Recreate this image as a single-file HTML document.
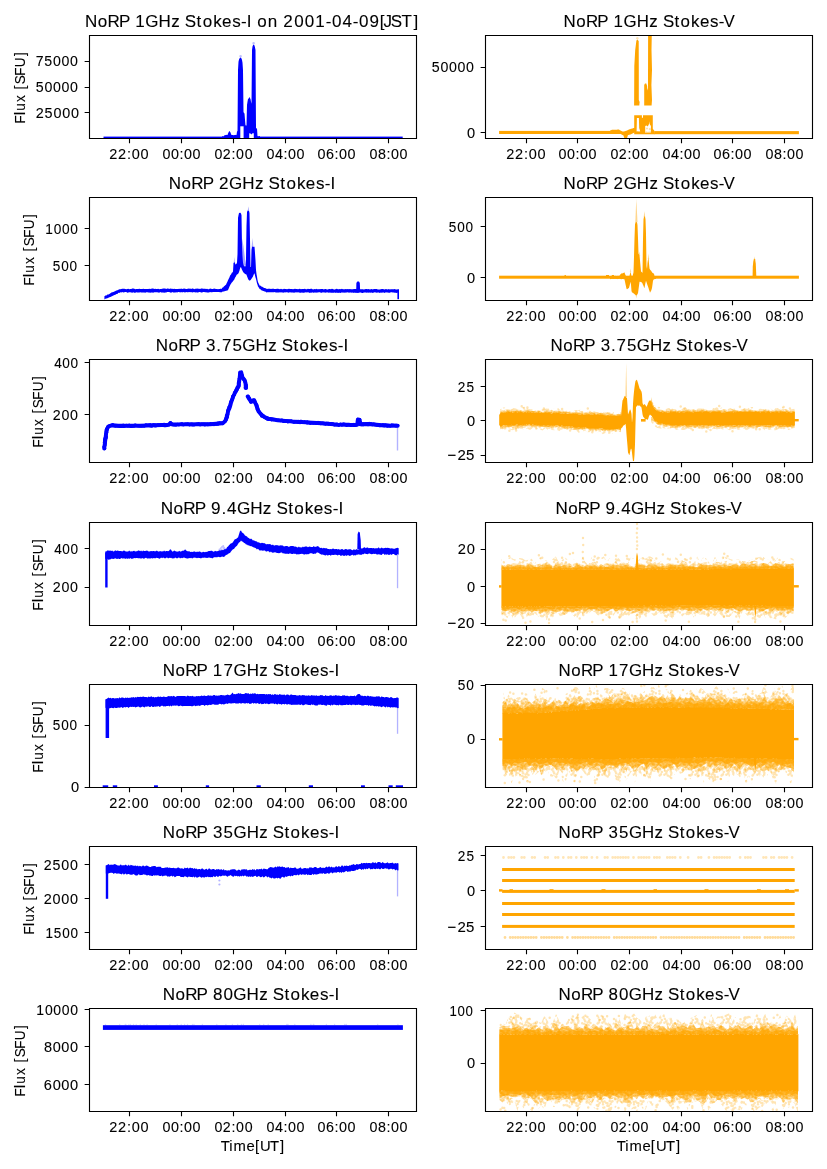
<!DOCTYPE html><html><head><meta charset="utf-8"><title>NoRP 2001-04-09</title><style>html,body{margin:0;padding:0;background:#fff}svg{display:block;will-change:transform}text{font-family:"Liberation Sans",sans-serif;font-kerning:none;fill:#000;stroke:#000;stroke-width:.1px}</style></head><body>
<svg width="827" height="1169" viewBox="0 0 827 1169">
<rect width="827" height="1169" fill="#fff"/>
<defs>
<clipPath id="c00"><rect x="89.5" y="35.5" width="327" height="103"/></clipPath>
<clipPath id="c01"><rect x="485.5" y="35.5" width="327" height="103"/></clipPath>
<clipPath id="c10"><rect x="89.5" y="197.5" width="327" height="103"/></clipPath>
<clipPath id="c11"><rect x="485.5" y="197.5" width="327" height="103"/></clipPath>
<clipPath id="c20"><rect x="89.5" y="359.5" width="327" height="103"/></clipPath>
<clipPath id="c21"><rect x="485.5" y="359.5" width="327" height="103"/></clipPath>
<clipPath id="c30"><rect x="89.5" y="522.5" width="327" height="103"/></clipPath>
<clipPath id="c31"><rect x="485.5" y="522.5" width="327" height="103"/></clipPath>
<clipPath id="c40"><rect x="89.5" y="684.5" width="327" height="103"/></clipPath>
<clipPath id="c41"><rect x="485.5" y="684.5" width="327" height="103"/></clipPath>
<clipPath id="c50"><rect x="89.5" y="846.5" width="327" height="103"/></clipPath>
<clipPath id="c51"><rect x="485.5" y="846.5" width="327" height="103"/></clipPath>
<clipPath id="c60"><rect x="89.5" y="1008.5" width="327" height="103"/></clipPath>
<clipPath id="c61"><rect x="485.5" y="1008.5" width="327" height="103"/></clipPath>
<pattern id="sp0" patternUnits="userSpaceOnUse" width="31" height="31"><path d="M15.7 20.5h0M19.1 29.3h0M14.5 15.3h0M9.6 21.1h0M29 8.1h0M9.3 29.2h0M13.5 24.8h0M20.3 19.1h0M7.8 21.4h0M18.4 15.8h0M10.3 7.4h0M23.9 24.7h0M17.8 12.4h0M23.3 21.9h0M27.8 22.3h0M21.9 3.3h0M19.3 3.6h0M22.6 15.6h0M-0.2 27.6h0M30.8 27.6h0M12.3 23.3h0M1.2 15.2h0M32.2 15.2h0M8.2 28.5h0M14 14.7h0M8 13.7h0M28.6 -0.6h0M28.6 30.4h0M9.5 23h0M15.8 7.1h0M23.7 19.8h0M24.2 1.9h0M19.3 8.1h0M13.8 -1.2h0M13.8 29.8h0M16.3 10.7h0M-1 14.5h0M30 14.5h0M5.6 -0.7h0M5.6 30.3h0M25.3 3.2h0M7 11.4h0M27.5 4.1h0M1.8 22.6h0M24.9 24.1h0M27.6 28.2h0M25.1 13.5h0M3.5 22h0M23.9 1.2h0M23.9 32.2h0M13.2 27.3h0M14.2 25.8h0M9.1 -1h0M9.1 30h0M24.6 11.9h0M3.5 16h0M23.4 26.7h0M10.6 24h0M13.5 23.2h0M25.1 24.2h0M22.3 21.5h0M18.9 26.4h0M12.7 14.7h0M17.7 16.3h0M8.8 15.7h0M18.4 5.9h0M3.1 3.4h0M0.9 9.4h0M31.9 9.4h0M16.3 9.4h0M12.8 21.1h0M28.4 -0.7h0M28.4 30.3h0M0.2 15.9h0M31.2 15.9h0M7.9 20.8h0M15.1 26.6h0M10.6 4.4h0M18.2 25.8h0M10.2 10h0M2.8 8.5h0M25.3 3.2h0M28.7 -0.8h0M28.7 30.2h0M12.3 7.3h0M18.3 10.1h0M26.6 18.6h0M6.6 17.1h0M27.2 27.6h0M16.5 -0.7h0M16.5 30.3h0M10.2 17.4h0M13.6 20.3h0M25.1 3.2h0M28.4 1.4h0M28.4 32.4h0M19.9 6.6h0M13.1 23.5h0M5.9 4.3h0M29.2 11.1h0M6.5 12.1h0M18.5 27.4h0M-0.1 -1.2h0M-0.1 29.8h0M30.9 -1.2h0M30.9 29.8h0M7.3 -0.5h0M7.3 30.5h0M12.1 0.3h0M12.1 31.3h0M16.2 3.9h0M20.9 -0.9h0M20.9 30.1h0M3.7 21h0M16.8 10.4h0M-0.6 25.8h0M30.4 25.8h0M22.5 27.1h0M16.2 5.3h0M0.4 3.1h0M31.4 3.1h0M10.4 23.4h0M3.2 17.4h0M23.5 0h0M23.5 31h0M5.9 27.3h0M25 4.9h0M11.8 20.3h0M9 12.1h0M-1.1 15.3h0M29.9 15.3h0M0.4 14.2h0M31.4 14.2h0M24.1 20.1h0M10 5.7h0M20.1 3.5h0M13.1 2.7h0M16 23.4h0M11.9 23.1h0M8.3 13.4h0M2.7 22.8h0M5.4 3.5h0M14 17.3h0M2.4 12.5h0M10.8 17.1h0M-0.7 15.4h0M30.3 15.4h0M17.8 25.4h0M2.4 1.3h0M2.4 32.3h0M27.3 23h0M14.6 -1.3h0M14.6 29.7h0M18.2 6.1h0M4.6 12.3h0M23.1 17.5h0M3.9 29.3h0M6 3.8h0M4.8 1.8h0M10.9 1.8h0M12.7 17.9h0M6 26.3h0M23.7 11.2h0M27 2.8h0M11 18.5h0M14.2 16.6h0M11.2 11.2h0M6.6 3.3h0M26.8 10.1h0M7.9 10.8h0M12.2 25.3h0M18.7 12.6h0M-0.8 29.3h0M30.2 29.3h0M21 2.7h0M19.1 25.1h0M11.1 16.8h0M26.1 27.1h0M11.1 18h0M16.8 17.3h0M-1.1 7h0M29.9 7h0M16.1 23.8h0M17.5 12.5h0M19.1 -0.7h0M19.1 30.3h0M12.1 15.8h0M11.6 24.2h0M28.2 21.4h0M28.5 -0.7h0M28.5 30.3h0M6.3 3.3h0M14.3 7.3h0M13.2 26.7h0M10.3 20.1h0M1.1 8.4h0M32.1 8.4h0M27.2 19.5h0M28.4 1.8h0M11.7 4.9h0M-0.1 10.1h0M30.9 10.1h0M18.2 2.4h0M20.4 2.1h0M10.9 21.3h0M27.4 12.7h0M4.6 27.3h0M17.8 17.5h0M9.5 6.1h0M5.4 22.6h0M18.2 18.2h0M25.7 28h0M10.5 0.3h0M10.5 31.3h0M21.1 23.6h0M24.2 11h0M2.3 18.5h0M16.3 4.6h0M-1.4 12h0M29.6 12h0M19.9 20.1h0M12.1 27.9h0M0.3 -0.4h0M0.3 30.6h0M31.3 -0.4h0M31.3 30.6h0M6.5 18.1h0M9.3 3.4h0M13.6 5.2h0M21.4 14.2h0M27.2 23.3h0M-0.6 14.8h0M30.4 14.8h0M29.2 4.1h0M-0.3 28.3h0M30.7 28.3h0M21.8 29.3h0M18.8 15.8h0M-0.5 15.6h0M30.5 15.6h0M8.5 23.7h0M20 20.5h0M8.4 3.8h0M2.6 22.6h0M1.4 24.6h0M32.4 24.6h0M28.9 22.2h0M4.7 17h0M1.3 -0.6h0M1.3 30.4h0M32.3 -0.6h0M32.3 30.4h0M24.2 10h0M13.4 21.4h0M28.1 1.8h0M3.8 21h0M28.5 2.1h0M11.4 15.6h0M26.2 25h0M4.4 -0.5h0M4.4 30.5h0M24.7 14.1h0M0.9 9.8h0M31.9 9.8h0M4 24.2h0M15.8 28.6h0M-1.1 24.2h0M29.9 24.2h0M7.8 -0.2h0M7.8 30.8h0M19.3 24.2h0M20.1 4h0M20.6 1h0M20.6 32h0M16.3 27.5h0M6.4 2.5h0M23.2 7.1h0M17.3 1.3h0M17.3 32.3h0M11.9 23.4h0M20 20.9h0M-1 -0.9h0M-1 30.1h0M30 -0.9h0M30 30.1h0M12.4 21.6h0M21 1.7h0M21.6 2.6h0M29.2 13.3h0M18.2 4.4h0M22.8 12.7h0M7.8 29.1h0M7.3 1.6h0M12.3 23.4h0M13.1 27.7h0M24 19.1h0M22.3 17.7h0M18.3 3.6h0M11.5 18.6h0M-1 8.4h0M30 8.4h0M28.1 2.2h0M3.9 8.6h0M28 16.8h0M-0.1 27.5h0M30.9 27.5h0M12.8 11.8h0M19.2 21.6h0M16.8 29.4h0M0.5 19.5h0M31.5 19.5h0M16.4 13.2h0M17.4 23.9h0M11.6 19.1h0M9.3 -1.4h0M9.3 29.6h0M-1.2 2.4h0M29.8 2.4h0M24.8 3.2h0M3.6 12.5h0M14.7 7.2h0M21.6 0.5h0M21.6 31.5h0M13.1 5h0M25.6 25.5h0M12.8 17.8h0M18.4 9.7h0M-0.2 23.8h0M30.8 23.8h0M1 10.4h0M32 10.4h0M0.5 8.6h0M31.5 8.6h0M5.6 19.2h0M16.3 21.8h0M4.1 14.9h0M16.6 19.9h0M13.6 17.8h0M10.3 21.8h0M4.6 10.8h0M-1.4 11.7h0M29.6 11.7h0M18.4 15.2h0M12.5 9.3h0M-1 26.3h0M30 26.3h0M3 21.3h0M-1.4 -0.4h0M-1.4 30.6h0M29.6 -0.4h0M29.6 30.6h0M4.5 4.8h0M22.4 21.3h0M13.7 4.6h0M12.7 11.3h0M0.8 18.9h0M31.8 18.9h0M27.9 -0.9h0M27.9 30.1h0M17.3 13.8h0M3.4 11.2h0M16.8 1.1h0M16.8 32.1h0M17.9 11.1h0M23.7 3h0M-0.2 3.8h0M30.8 3.8h0M15.5 19.4h0M14.6 17.7h0M21.1 17.4h0M12.1 14.4h0M19.8 16.8h0M9.4 14.5h0M7 4.6h0M13 4.3h0M24.8 8.8h0M22.4 5h0M5.5 11.1h0M1.6 -0.6h0M1.6 30.4h0M7 25.9h0M5 1.4h0M5 32.4h0M29.1 16.8h0M14.4 4.2h0M21.1 23.9h0M14.6 19h0M19.3 22.2h0M7.8 6.8h0M25.9 16h0M27.7 29.4h0M23.7 14.5h0M27.2 9.5h0M17.1 1.2h0M17.1 32.2h0M10.1 2.1h0M22.3 24.4h0M7.8 21.3h0M27.2 6.1h0M3.1 19.8h0M17.6 3.7h0M20.9 28.9h0M27.9 15.9h0M5.8 7.8h0M1.9 4.6h0M15.3 21h0M3.8 21h0M23.7 0.4h0M23.7 31.4h0M28.5 12.5h0M16.5 18.1h0M16.5 28.3h0M18.4 12.4h0M18.9 0.5h0M18.9 31.5h0M28.7 11.8h0M23.7 21h0M14.3 21h0M24.6 9.7h0M2.3 15.8h0M18.5 7.7h0M24.5 22h0M22.9 4h0M6.9 24.5h0M11.7 12.5h0M20.5 8.1h0M6.6 -0.3h0M6.6 30.7h0M16.6 2.5h0M25.6 1.7h0M4.9 19.9h0M10.3 25.5h0M16.5 6.7h0M19.6 17.7h0M26.6 12.9h0M29.1 2.9h0M27.7 15.3h0M10.7 6.2h0M2 22.3h0M7.2 3.9h0M20.1 11.4h0M14.8 3.6h0M18 29.2h0M1.4 28.1h0M32.4 28.1h0M20.5 19.6h0M27.7 -0.1h0M27.7 30.9h0M15.7 3.5h0M22.5 28.3h0M13.2 7.5h0M23 19.2h0M22.7 1h0M22.7 32h0M1.3 26.9h0M32.3 26.9h0M-1.5 22.4h0M29.5 22.4h0M-0.8 8h0M30.2 8h0M22.7 21.1h0M8.5 18.5h0M21.3 6.8h0M18.7 9.4h0M4.6 18.2h0M14.4 19h0M24.2 9.5h0M1.5 27.1h0M14.5 5.1h0M5.7 18.2h0" stroke="#ffa500" stroke-opacity="0.3" stroke-width="2.5" stroke-linecap="round" fill="none"/><path d="M17.5 21.5h0M17.6 -0.7h0M17.6 30.3h0M18.9 13.1h0M12.1 23h0M11.7 6.6h0M21.8 19.8h0M19.3 4h0M15.8 10.4h0M3 2.4h0M10.6 7.7h0M7.3 27.1h0M19.1 -1.1h0M19.1 29.9h0M22.3 23.1h0M12.7 24.3h0M4.5 18.1h0M6.8 19.5h0M12 17.7h0M7.9 22.7h0M26.5 8.6h0M21 11h0M14.2 26.5h0M28.3 29.3h0M22.2 8.9h0M16 18.7h0M17.8 14.2h0M20 10.1h0M8.7 4.5h0M8 -1h0M8 30h0M-0.1 24.6h0M30.9 24.6h0M17.7 0.9h0M17.7 31.9h0M18.4 16.2h0M10.3 26.3h0M3.1 4h0M28.1 10h0M0.4 25.7h0M31.4 25.7h0M26.9 21.2h0M-1.3 7.5h0M29.7 7.5h0M23.2 10.5h0M7.9 18.1h0M16 22.4h0M11.7 12.9h0M29.3 23h0M-1.5 20.2h0M29.5 20.2h0M3.8 5.2h0M10.8 19.8h0M24.5 26.9h0M3.5 7.1h0M16.2 19.9h0M26.2 18.8h0M20.8 27.6h0M15.5 14h0M10.5 12.1h0M22.6 28.6h0M6.6 4.6h0M7.4 14.5h0M9.6 15h0M15.7 -0.7h0M15.7 30.3h0M-1 -1.3h0M-1 29.7h0M30 -1.3h0M30 29.7h0M12.5 5.1h0M18.4 7.9h0M19.3 -0.1h0M19.3 30.9h0M12.2 17.8h0M5.1 1h0M5.1 32h0M26.1 5.7h0M24 26.4h0M9.4 3.1h0M5.7 26.5h0M16.3 9.4h0M14.6 11.5h0M22.2 9.9h0M29 1.9h0M1 22.5h0M32 22.5h0M26.6 4.4h0M4.6 19.2h0M10.5 28.3h0M23.3 28.6h0M10.6 0.4h0M10.6 31.4h0M0.4 7.1h0M31.4 7.1h0M27 16.4h0M17.7 7.7h0M3.4 2.4h0M9.1 26.3h0M6.5 0.9h0M6.5 31.9h0M17.6 28h0M13.3 19.3h0M-1.3 1.4h0M-1.3 32.4h0M29.7 1.4h0M29.7 32.4h0M16.7 27.9h0M22.5 10.6h0M11.1 -0.7h0M11.1 30.3h0M25 1.5h0M25 32.5h0M-0.7 28h0M30.3 28h0M19.4 11h0M27.7 21.7h0M5.5 11.1h0M-0.1 14.1h0M30.9 14.1h0M9.8 0.8h0M9.8 31.8h0M14.6 5.3h0M-0.7 20.4h0M30.3 20.4h0M5.9 21.8h0M6.7 19.4h0M16.9 3.8h0M9.1 3.2h0M0.6 21.2h0M31.6 21.2h0M25 3.9h0M10.1 26.5h0M22.8 6.4h0M6.2 11.4h0M3.3 18.7h0M20 19.5h0M18.7 1.5h0M18.7 32.5h0M14.3 19.7h0M22.7 0.3h0M22.7 31.3h0M24.6 25.3h0M7.8 18.1h0M27.1 19.3h0M0 12.8h0M31 12.8h0M29.3 4.6h0M5.8 15.2h0M0.2 8.7h0M31.2 8.7h0M-0.8 10.6h0M30.2 10.6h0M27.7 12.5h0M17.6 8h0M26.6 13.2h0M28.3 20.4h0M9.5 -1.2h0M9.5 29.8h0M9 2.9h0M23.5 17.1h0M7.4 17.2h0M28.8 24.2h0M18.4 12.5h0M22.2 3.8h0M22.2 21.8h0M29.1 22.6h0M26.2 15.4h0M13.9 0.9h0M13.9 31.9h0M17.3 1.6h0M25.9 22.3h0M17.5 19.1h0M9.7 1.1h0M9.7 32.1h0M10.1 3.5h0M12.8 26.1h0M4.9 17.5h0M2.9 14.1h0M17.2 18.7h0M18 7.3h0M27.5 29.2h0M27.4 1.8h0M17.6 29.2h0M11.3 3.6h0M16.5 4.2h0M19.5 0.5h0M19.5 31.5h0M26.6 21.8h0M18.6 1.4h0M18.6 32.4h0M8.3 8.9h0M20.2 -0.7h0M20.2 30.3h0M13.9 5h0M-1.4 18.6h0M29.6 18.6h0M19.1 1.6h0M5.2 20.3h0M12.7 21.9h0M12.9 27.4h0M27.6 2.5h0M18.2 21.3h0M11.8 -0.5h0M11.8 30.5h0M-0.8 3.2h0M30.2 3.2h0M20.5 19.4h0M12.9 17.8h0M19.8 22.8h0M25.3 19.1h0M2.4 1.9h0M22.3 -0.2h0M22.3 30.8h0M18.6 25.5h0M22.2 13.1h0M12.3 2.4h0M26.3 14.9h0M8.7 8.1h0M-0.6 23.4h0M30.4 23.4h0M27 -1.4h0M27 29.6h0M16.9 13.1h0M8.4 -1.2h0M8.4 29.8h0M11.1 7.1h0M24.8 16.9h0M29.1 17.5h0M9.5 12.2h0M23.7 19.3h0M15.3 9.9h0M16.5 12.8h0M1.4 13.3h0M32.4 13.3h0M13.4 6.6h0M28 26.1h0M16.6 26.1h0M14.6 25h0M20 23h0M20.2 24.1h0M13.3 19.9h0M22.2 6.8h0M11.6 11.2h0M5.8 15h0M23 23.2h0M17.2 0.1h0M17.2 31.1h0M8.5 11.6h0M24.4 2.2h0M2.7 14.6h0M4.3 22.5h0M18.3 27.2h0M8.6 2.7h0M10.7 23.6h0M14.7 10h0M10.3 8.7h0M2.8 11.5h0M15.8 15.9h0M10 26.9h0M3.9 20.1h0M22.7 7.3h0M25.1 10.4h0M27.4 1.2h0M27.4 32.2h0M29.3 3.3h0M23.7 14.8h0M12.3 26.7h0M23.2 2.8h0M6.3 5.9h0M7.6 10h0M5.2 13.9h0M12.6 13.8h0M16.8 1.6h0M1.2 -0.5h0M1.2 30.5h0M32.2 -0.5h0M32.2 30.5h0M5 -0.5h0M5 30.5h0M8.1 12.5h0M27.9 13.1h0M4.3 22.2h0M16 10.7h0M6.1 7.8h0M8.9 19.1h0M14.3 1.2h0M14.3 32.2h0M4.6 18h0M13.8 28.3h0M14.2 19.9h0M20.9 0.9h0M20.9 31.9h0M12.6 13h0M8.4 26.8h0M26.1 1.4h0M26.1 32.4h0M8.1 27.9h0M12.5 20.9h0M5.9 27.8h0M15 24.7h0M12.6 25.5h0M3 -0.2h0M3 30.8h0M16.5 25.4h0M2.2 7.1h0M25.6 14.3h0M20.1 23.5h0M0.6 14.5h0M31.6 14.5h0M1.4 21h0M32.4 21h0M25.6 17.2h0M19.7 1.6h0M1.9 7.9h0M18.5 8.5h0M9.2 19.3h0M27.1 11.7h0M17 27.7h0M27.6 0.8h0M27.6 31.8h0M16 14.9h0M19.2 16.6h0M6.3 19.1h0M6.1 2h0M17.4 7.6h0M15 21.7h0M29 18.7h0M23.4 5.1h0M1.4 11h0M32.4 11h0M14.1 9.6h0M20.4 0.1h0M20.4 31.1h0M12.3 -0.9h0M12.3 30.1h0M16.3 24.8h0M7.8 12h0M21.4 21.1h0M6.4 23.9h0M6.2 27.2h0M19.8 27.5h0M0.6 2.2h0M31.6 2.2h0M16.6 26.3h0M18.5 15.7h0M20.6 1.4h0M20.6 32.4h0M27.9 14.9h0M22.7 22.8h0M19.7 15.8h0M15 23.2h0M24.9 6h0M24.4 1.1h0M24.4 32.1h0M13.6 18.9h0M21.7 8.7h0M20.1 27.6h0M3.1 10h0M22.8 29.5h0M3 0.1h0M3 31.1h0M20.2 22.4h0M-0.2 4.8h0M30.8 4.8h0M7.7 15.1h0M28.7 24.8h0M2.7 4.2h0M20.4 18.7h0M18.6 -1.5h0M18.6 29.5h0M20.9 23.8h0M25.5 20.7h0M0.8 14.7h0M31.8 14.7h0M27.7 -0.7h0M27.7 30.3h0M11.4 26.7h0M28.8 4h0M22.7 21.4h0M27.9 0.4h0M27.9 31.4h0M10.5 23h0M6.1 14.1h0M9.9 28.1h0M-1 15.6h0M30 15.6h0M13.7 15.2h0M-0.2 22.2h0M30.8 22.2h0M22.5 8.6h0M4.1 7.3h0M1.3 17.5h0M32.3 17.5h0M23.8 3.2h0M28.9 16.9h0M6.1 27.3h0M23 0.6h0M23 31.6h0M3.1 18.3h0M-1.3 27.2h0M29.7 27.2h0M-1.5 6.2h0M29.5 6.2h0M11.6 1.6h0M9.2 15.7h0M9.1 11.6h0M16.9 8.3h0M8.1 27.7h0M23.3 10.3h0M15.8 27.1h0M11.6 10h0M28.9 25.6h0M8 20.2h0M15.3 12.4h0M-1.5 12.6h0M29.5 12.6h0M27.2 20.7h0M3.1 21.3h0M-0.6 6.2h0M30.4 6.2h0M8.7 8.9h0M24.8 4.7h0M19.4 9.7h0M18.5 17.1h0M2.8 23.8h0M27.2 19h0M10.5 7.1h0M27 20.8h0M19.5 16.5h0M24.7 11h0M21 28.7h0M8.2 13.2h0M24.8 4.7h0M16.4 22.3h0M26.8 18.8h0M12.9 11.6h0M18.6 5.3h0M15.8 15.8h0M23.4 4.9h0M6.3 -0.2h0M6.3 30.8h0M21.8 1.3h0M21.8 32.3h0M12.2 27.9h0M20 21.7h0M27.8 0.5h0M27.8 31.5h0M5.5 15.5h0M23.2 26.9h0M10.6 13.1h0M22.3 12h0M24.7 27.9h0M3.7 28.4h0M12 -1h0M12 30h0M12.1 6.8h0M22.7 12.8h0M13.6 14.4h0M-0.6 17.2h0M30.4 17.2h0M5.6 7.2h0M7.2 8.5h0M0.9 12.9h0M31.9 12.9h0M28.5 3h0M15.7 23.4h0M3.2 25.4h0M19.9 13.5h0M20 17.3h0" stroke="#ffa500" stroke-opacity="0.3" stroke-width="2.5" stroke-linecap="round" fill="none"/><path d="M15.9 5.2h0M8.9 20.9h0M28.8 16.3h0M8.4 9.8h0M24 24.8h0M14 7h0M18.1 9.8h0M6 24h0M3.5 22.8h0M24.1 7h0M21.3 2.2h0M8.7 13.2h0M20.8 25.6h0M1.2 -1.2h0M1.2 29.8h0M32.2 -1.2h0M32.2 29.8h0M24.2 11.3h0M2.3 6.1h0M7.9 6.2h0M16.9 28.1h0M22.4 -0.9h0M22.4 30.1h0M26.1 10.5h0M8.4 22.4h0M15.5 16.8h0M-0.7 16.8h0M30.3 16.8h0M11.7 10.2h0M4.1 19.6h0M7.9 13.2h0M15.4 28.8h0M22.7 2h0M8.7 4h0M7.9 28.3h0M14.9 21.8h0M9.9 0.5h0M9.9 31.5h0M0.7 3h0M31.7 3h0M17.6 10.8h0M27.3 13.4h0M25.9 1.5h0M25.9 32.5h0M7.9 14.1h0M11.6 27.2h0M-0.2 28.9h0M30.8 28.9h0M28.2 22.6h0M0 11.4h0M31 11.4h0M17.6 28.3h0M12.6 20.4h0M5.3 13.6h0M10 9.6h0M21.8 13.9h0M26 26.3h0M11.3 11.9h0M5.6 24.6h0M22.6 18.7h0M17.6 10.8h0M26.3 1.8h0M18.4 8.9h0M1.6 13.1h0M22.2 28.9h0M4.3 6.2h0M20.2 24.4h0M5.2 15.6h0M11.6 24.6h0M-0.8 12.1h0M30.2 12.1h0M19.1 2.7h0M3.9 17.7h0M4.8 1.7h0M-1.3 16.2h0M29.7 16.2h0M19 7.4h0M28.9 25.4h0M21 7.7h0M-0.9 27.8h0M30.1 27.8h0M-0.5 18.2h0M30.5 18.2h0M24.1 3.2h0M-1.2 -0.5h0M-1.2 30.5h0M29.8 -0.5h0M29.8 30.5h0M21 16.2h0M20.8 22.5h0M-0.8 4.5h0M30.2 4.5h0M4.5 5.1h0M19.2 13.9h0M7.7 -1.2h0M7.7 29.8h0M15.3 4.8h0M23.4 19.7h0M18.8 10.7h0M3 21.7h0M2.4 29.5h0M-0.8 27.9h0M30.2 27.9h0M20.9 26h0M14 28.7h0M-1.1 -0.9h0M-1.1 30.1h0M29.9 -0.9h0M29.9 30.1h0M10.3 19.2h0M18.4 27.7h0M-0.4 18.4h0M30.6 18.4h0M9.7 0.4h0M9.7 31.4h0M1.1 9.6h0M32.1 9.6h0M8.2 3.6h0M-1.1 23.3h0M29.9 23.3h0M22.1 14.4h0M23.8 28.9h0M23.5 10.5h0M14.8 26.1h0M5.6 3.3h0M27.3 1.5h0M22.1 6.4h0M5.5 23.7h0M27 19.1h0M-1.1 26.2h0M29.9 26.2h0M20.6 7.4h0M24.6 16.1h0M9.3 18.7h0M6.7 2h0M9.8 2.9h0M20.2 9.4h0M26.9 4.8h0M14.3 1.7h0M10.2 14h0M26 29.3h0M0.2 16.4h0M31.2 16.4h0M7 16.1h0M24.2 17.4h0M28.1 1.4h0M28.1 32.4h0M20.5 17.3h0M0.8 8.9h0M31.8 8.9h0M28.1 2.7h0M13.4 19.8h0M5.3 16.6h0M0.8 1h0M0.8 32h0M31.8 1h0M31.8 32h0M19.3 -0.9h0M19.3 30.1h0M0 16.9h0M31 16.9h0M8.4 8.4h0M18.1 5.4h0M17.3 19.9h0M10.4 12.5h0M22.2 17h0M23.8 25.2h0M6.5 8.7h0M7.2 10.4h0M16.4 -1.4h0M16.4 29.6h0M23.7 0.9h0M23.7 31.9h0M25.5 26.8h0M8.6 15.3h0M5.9 25.2h0M28.8 13h0M26.5 19.8h0M22.7 18.4h0M29 22.8h0M24 -0.5h0M24 30.5h0M28.8 8.2h0M21.3 14.5h0M0.6 14.5h0M31.6 14.5h0M26.4 13.1h0M22.7 15.7h0M24.1 25.1h0M26.1 19.7h0M2.4 23.9h0M27.7 13.2h0M23.9 23.3h0M-1.2 20h0M29.8 20h0M3.8 12h0M2.6 27.9h0M29.4 28.8h0M20.1 21.3h0M6.9 1.9h0M3.9 5.1h0M17.3 4.4h0M9.7 21.1h0M11.4 11.1h0M13.4 5h0M17.4 21h0M7.6 12h0M25.5 -0.2h0M25.5 30.8h0M22.2 1.8h0M27.8 19.1h0M14 19.1h0M9 21.9h0M23.9 28.1h0M24.5 29.4h0M27.7 -0.8h0M27.7 30.2h0M5.6 15.9h0M5.7 14.7h0M6.4 16.9h0M1.5 1.3h0M1.5 32.3h0M32.5 1.3h0M32.5 32.3h0M11.9 20.4h0M-0.6 2.5h0M30.4 2.5h0M28.2 9.5h0M-1.2 6.9h0M29.8 6.9h0M15.1 1.7h0M28 23h0M19.2 6.5h0M25.5 14.5h0M8.7 19.6h0M4 7.4h0M1 23.7h0M32 23.7h0M8.6 4.2h0M5.3 7.2h0M2.4 15.9h0M7.1 17.4h0M3.2 14.3h0M23.3 27.1h0M23.8 28.9h0M5.7 1.8h0M1.4 11.2h0M32.4 11.2h0M8.9 8.2h0M28.2 13.4h0M3.1 17.3h0M0.7 19.8h0M31.7 19.8h0M14.2 3.6h0M26.7 2.6h0M18.8 16.7h0M17.2 12.1h0M-0.1 20.6h0M30.9 20.6h0M9.5 25.5h0M23 12.6h0M17 8.6h0M28.1 4.2h0M24.3 18.4h0M9 17.4h0M12.2 0.9h0M12.2 31.9h0M7.7 6.4h0M6.5 2.5h0M17.7 9.5h0M23.7 1.8h0M12.3 19.3h0M3.4 24.2h0M3.4 26.3h0M16.8 10.4h0M4.3 7.9h0M17.4 12.9h0M3.2 4.2h0M16.6 17.6h0M11.1 1.1h0M11.1 32.1h0M21.8 27h0M18.6 4.7h0M13.1 28.7h0M5.8 27.5h0M23.9 16.1h0M17.2 20.2h0M25.3 15.8h0M5.2 7.7h0M5.5 28.3h0M8.1 17.2h0M11.6 25.8h0M20 17.2h0M6.2 2.9h0M14.7 15.9h0M3.2 2.1h0M24.1 28.5h0M26.4 -1.4h0M26.4 29.6h0M18.9 24.7h0M29 9.5h0M21.6 9.6h0M24.5 23.8h0M-0.6 -1h0M-0.6 30h0M30.4 -1h0M30.4 30h0M24.3 8.8h0M19.5 15.7h0M0.9 12.3h0M31.9 12.3h0M6.1 27.9h0M-0.6 21.7h0M30.4 21.7h0M15.8 1.4h0M15.8 32.4h0M8.8 29.3h0M14.4 25.7h0M25.2 14.1h0M22.1 11.2h0M13.8 5.7h0M20.5 3.9h0M1.9 29.4h0M26.9 3h0M10.6 19.1h0M22.6 0h0M22.6 31h0M5 -1.5h0M5 29.5h0M-1.1 25.3h0M29.9 25.3h0M1.7 -0.1h0M1.7 30.9h0M7.3 4.2h0M27.5 15.7h0M-0.7 25h0M30.3 25h0M4.2 16h0M17.4 10h0M13.7 0.4h0M13.7 31.4h0M16.8 18h0M1.7 18.4h0M10.9 15.6h0M17.7 26.6h0M1.5 7.6h0M5.3 19.6h0M15 26.7h0M7.6 16.9h0M13 7.4h0M20.6 8.5h0M2.1 10.6h0M14.9 23.9h0M-1 9.6h0M30 9.6h0M0.9 27.2h0M31.9 27.2h0M15.4 4.2h0M10.3 1.3h0M10.3 32.3h0M3.2 20.3h0M0.5 17.5h0M31.5 17.5h0M18.9 2.2h0M13.5 17.7h0M26.5 24.5h0M13.2 0.1h0M13.2 31.1h0M5 -1.2h0M5 29.8h0M6.8 13.6h0M27.8 17.2h0M26.8 13.4h0M6.8 16.8h0M5.3 12.8h0M17.7 15.9h0M8.6 22.3h0M14.4 8.5h0M5.5 1.8h0M7.3 -1.4h0M7.3 29.6h0M5.3 12.3h0M9.6 16.4h0M17.4 18.7h0M21.4 3.8h0M3.3 -1.4h0M3.3 29.6h0M7.7 13h0M17.7 -1.2h0M17.7 29.8h0M23.5 16.4h0M18.1 18.1h0M9.8 17.4h0M-1 7h0M30 7h0M1.1 6.2h0M32.1 6.2h0M-0.9 -0.3h0M-0.9 30.7h0M30.1 -0.3h0M30.1 30.7h0M14.8 0.4h0M14.8 31.4h0M16.9 0.3h0M16.9 31.3h0M20.9 17.8h0M22.9 15h0M3.7 16.6h0M11.9 10.4h0M0.5 9.6h0M31.5 9.6h0M27.3 22.9h0M5.2 4h0M7.5 1.6h0M11.3 23.6h0M14.3 22.5h0M0.7 5.9h0M31.7 5.9h0M3.5 18h0M9.5 4.6h0M4.2 16h0M1.4 28.6h0M32.4 28.6h0M5.3 2.1h0M15 0.5h0M15 31.5h0M21.2 12.6h0M0.6 27.1h0M31.6 27.1h0M26.3 -1.1h0M26.3 29.9h0M8.7 15.7h0M3.3 17.3h0M29 -0.6h0M29 30.4h0M20.2 5.9h0M23.5 17.9h0M24.5 1.5h0M26.6 10.8h0M10.9 1.8h0M21.3 5.2h0M3.2 19.6h0M17.2 10.3h0M7.8 10.1h0M0 2.1h0M31 2.1h0M29.2 15.1h0M3.1 -0.9h0M3.1 30.1h0M1.3 19.8h0M32.3 19.8h0M18 9.9h0M14.6 1.9h0M12.8 22.5h0M17.9 21.9h0M26.2 7.7h0M5.1 13.6h0M5.7 15.9h0M17.7 12.3h0M26.8 28.3h0M24.1 7.1h0M23.9 3.9h0M11.1 1.5h0M11.1 32.5h0M16.7 17.8h0M28.1 14.9h0M8.4 28.5h0M17.9 16h0M25.1 -0.1h0M25.1 30.9h0M21.4 16.5h0M21.6 26.6h0M8.1 28.6h0M17.5 5.8h0M8.7 28.2h0M-1 3.6h0M30 3.6h0M14.6 4h0M16.5 25h0M25.4 4.6h0" stroke="#ffa500" stroke-opacity="0.3" stroke-width="2.5" stroke-linecap="round" fill="none"/><path d="M-0.9 16.9h0M30.1 16.9h0M17.2 26.6h0M7.6 2h0M10.9 15.2h0M1.3 5h0M32.3 5h0M27.6 -0.1h0M27.6 30.9h0M18.6 20.2h0M2.1 2.5h0M8.7 28.4h0M-1.1 10.9h0M29.9 10.9h0M17.8 6.9h0M28.2 5.5h0M23.9 15.6h0M15 4.2h0M20.3 26.4h0M8.3 1.9h0M12.3 26.5h0M12.6 -1.3h0M12.6 29.7h0M17.1 0.2h0M17.1 31.2h0M4.3 5.6h0M27.4 26.9h0M25.9 11.2h0M5.1 2.9h0M24.8 25.7h0M11.7 23.7h0M2.6 25.6h0M10.7 23.2h0M3.6 23.8h0M0 9.3h0M31 9.3h0M20.8 25.5h0M24.2 12.9h0M17.4 15.8h0M13.9 12.9h0M25.4 23.4h0M13.2 27.4h0M27 28h0M7.5 21.9h0M20.8 0.2h0M20.8 31.2h0M18.6 2.8h0M15.1 3.6h0M22.5 12.3h0M11.2 9.1h0M21.7 -0.2h0M21.7 30.8h0M26.4 6.9h0M10.8 14.1h0M18.5 23.3h0M7.5 15.8h0M22.1 25.2h0M20.4 22.2h0M25.5 3.4h0M16.7 22.5h0M4.8 8h0M8 1.3h0M8 32.3h0M23.7 20.7h0M11.3 6.1h0M6.7 5.6h0M-1.1 6.7h0M29.9 6.7h0M2.6 9.8h0M24.6 8.9h0M10.7 2.9h0M16.8 -1.3h0M16.8 29.7h0M24.7 4.5h0M-0.2 8.4h0M30.8 8.4h0M23 -0.6h0M23 30.4h0M22.4 13.3h0M17.4 18.3h0M3.5 22.6h0M25.5 29.4h0M25.7 24.7h0M-0.1 2.7h0M30.9 2.7h0M4.5 25.6h0M26.4 25h0M20.2 24.7h0M21.3 22.9h0M21.2 28.7h0M28 17.4h0M0.9 24.7h0M31.9 24.7h0M10.6 14.6h0M20.7 7.5h0M9.5 23.8h0M1.2 1.7h0M32.2 1.7h0M19.4 13.1h0M7.2 12.3h0M12.3 17.1h0M21.2 -1.4h0M21.2 29.6h0M14.3 19.2h0M15 6.8h0M9.8 3.4h0M7.5 23.2h0M0.6 9.2h0M31.6 9.2h0M11.3 20h0M23.5 9.3h0M13.2 7.5h0M14 24h0M8.5 27.7h0M11.4 25.8h0M11.5 11.4h0M27 10.2h0M28.5 24.7h0M24.8 15.9h0M18.1 28.6h0M3 9.7h0M16.4 29.2h0M25.1 18.1h0M10.8 17.8h0M24.7 2.6h0M11.2 0.2h0M11.2 31.2h0M20.5 20.3h0M24.5 10.9h0M3.6 29.5h0M15.2 22h0M7.5 11.2h0M7 19.2h0M9.7 13.4h0M-0.1 21.5h0M30.9 21.5h0M7.5 2.9h0M9.6 3.2h0M-0.2 18.2h0M30.8 18.2h0M20.4 7.7h0M4.3 8h0M20 21.5h0M27.2 20.3h0M23.1 6.2h0M4.2 24.7h0M1.2 2h0M32.2 2h0M2.9 -1.4h0M2.9 29.6h0M11.7 27.4h0M18.8 17.7h0M3 4.1h0M13.8 12.6h0M16.1 13.6h0M2.8 -1h0M2.8 30h0M6.1 13.4h0M27 22.9h0M24.4 3h0M17.2 19.9h0M1.8 6.7h0M26.7 18.8h0M6 3h0M22.6 15.7h0M13.5 2h0M20.2 24.7h0M6.8 14h0M27.5 28.5h0M4.4 3.7h0M21 25.7h0M16 14.1h0M16.6 2.6h0M14.5 25.2h0M23.4 4.4h0M25.4 26.9h0M7 0.7h0M7 31.7h0M-0.5 21.9h0M30.5 21.9h0M9.4 24.7h0M-0.9 11.5h0M30.1 11.5h0M1.6 -0.9h0M1.6 30.1h0M13.1 20.1h0M11 3.7h0M13.6 10h0M6.2 5.2h0M24.4 26.3h0M22.2 4h0M0 6.6h0M31 6.6h0M21.5 -0.2h0M21.5 30.8h0M15.2 20.8h0M29.5 1.8h0M3 12.2h0M24.2 28.1h0M27.3 12.2h0M13.3 8.5h0M17.8 5.1h0M14.1 28.2h0M28.5 13.3h0M27.6 12.2h0M18.5 4.2h0M17.5 28.5h0M21.8 21.7h0M6.1 4.3h0M-1.2 19.1h0M29.8 19.1h0M25.3 24.2h0M22.5 13.9h0M22.5 3.3h0M21.2 7h0M11.4 5.3h0M21.4 0.2h0M21.4 31.2h0M29.2 21.6h0M20.2 4h0M27.2 16.5h0M22.6 6.1h0M2.8 17.2h0M3.6 28.1h0M0 9.1h0M31 9.1h0M25.6 5.5h0M25.7 28.1h0M17.6 1.4h0M17.6 32.4h0M7.1 18.6h0M28 13.6h0M29.4 0.6h0M29.4 31.6h0M18.6 18.9h0M4.6 13.1h0M20.5 9.8h0M9.3 17h0M21.1 8.2h0M17.7 3h0M18.6 7.2h0M25.9 26.8h0M2.7 16.2h0M17.3 3.6h0M19.4 11h0M24.3 1.5h0M24.3 32.5h0M6.8 3h0M10.4 23.8h0M26.6 21.6h0M1.6 27.2h0M6.4 21.9h0M17.7 7.2h0M27.2 -0.3h0M27.2 30.7h0M12.9 -1.4h0M12.9 29.6h0M22.5 6.7h0M1.8 26.4h0M10.5 11.9h0M1.6 1.9h0M20.5 9.9h0M20.8 26.5h0M7.4 22.1h0M26.6 0.3h0M26.6 31.3h0M12.7 23.9h0M26.6 12.9h0M5 16.2h0M13.1 8.2h0M4.6 -0.2h0M4.6 30.8h0M4.7 22.7h0M28.2 22.3h0M15.1 13.2h0M6.8 29h0M28.2 18.4h0M9.5 24.3h0M16 11.2h0M-1.2 10.2h0M29.8 10.2h0M15.2 13.3h0M5.2 28.6h0M6.8 23.6h0M17.6 2.7h0M5.3 24.9h0M-1.3 29h0M29.7 29h0M12.9 8.8h0M16.1 9.2h0M-1.1 25.7h0M29.9 25.7h0M16.2 4.8h0M26.6 -1.4h0M26.6 29.6h0M27.6 1.1h0M27.6 32.1h0M10.4 15.2h0M0.9 4.3h0M31.9 4.3h0M22.9 20.3h0M18.4 23.5h0M4.6 27.7h0M23.7 6.1h0M22.3 29.5h0M23.1 27.5h0M1.4 1.4h0M1.4 32.4h0M32.4 1.4h0M32.4 32.4h0M4.8 16.9h0M0 25.9h0M31 25.9h0M4 -0.7h0M4 30.3h0M3.2 14.5h0M24.2 6.1h0M28.7 23.1h0M7.1 12h0M5.2 17.7h0M7.8 13.4h0M18.1 11.3h0M5.9 18.5h0M7.6 28.4h0M11.5 10.9h0M15.5 20.2h0M0.5 7.2h0M31.5 7.2h0M20.8 12.8h0M19.9 17.6h0M9.9 19.9h0M19.7 23.5h0M21.4 24.1h0M16.5 -1.4h0M16.5 29.6h0M1.2 23.8h0M32.2 23.8h0M20.3 24.5h0M11.1 10.6h0M26.3 17.8h0M20.1 11.6h0M2.8 3.6h0M20.4 18.1h0M2.6 17.7h0M26.1 12.5h0M15.9 5.6h0M1.8 7.2h0M26.8 14.1h0M10.4 20.1h0M29.5 15.5h0M4.1 15h0M23.6 11.5h0M14.2 3.5h0M21.9 10.4h0M1.2 12h0M32.2 12h0M29.4 5.8h0M25.5 25.7h0M4.7 15.9h0M19.4 25.6h0M26.5 28.5h0M-1 22.4h0M30 22.4h0M22.8 3.1h0M0.5 3h0M31.5 3h0M14.2 16.6h0M4.1 -1.3h0M4.1 29.7h0M10.5 23.5h0M10.8 -1.4h0M10.8 29.6h0M24.7 22.8h0M22.1 20.5h0M12 13.1h0M3.5 23.8h0M8.9 11.2h0M28.6 25.9h0M8.5 26.2h0M19.5 24.2h0M23.5 5.2h0M21.8 14.8h0M5.2 22h0M16.1 6.8h0M1.1 -0.9h0M1.1 30.1h0M32.1 -0.9h0M32.1 30.1h0M23.5 19.9h0M14 23.3h0M21.6 23.9h0M20.9 16.8h0M11.2 7.5h0M2.7 7.8h0M27.8 18.1h0M26.3 19.6h0M24.7 10.7h0M11.5 17.9h0M24.5 4.8h0M11.7 2.3h0M2.8 27h0M9 24.4h0M0.1 11.8h0M31.1 11.8h0M7 9h0M3.8 14.1h0M1.8 11.8h0M10.5 17.2h0M5.9 23.7h0M22 27.9h0M15.7 18.9h0M4 12.3h0M1.8 8.5h0M18.6 28.3h0M-1.3 1.6h0M29.7 1.6h0M5.3 19.4h0M15.6 15.9h0M11.8 25.3h0M18.7 8.2h0M11.5 -0.7h0M11.5 30.3h0M24.1 10.6h0M1.3 5.8h0M32.3 5.8h0M27.1 19h0M17.1 16.1h0M-1.2 15h0M29.8 15h0M3.1 2.4h0M21.9 28h0M13.2 13.2h0M19.4 29.3h0M24.5 -0.5h0M24.5 30.5h0M26.7 16.9h0M20.1 12.8h0M22.5 0.6h0M22.5 31.6h0M29.2 25.1h0M3 13.1h0M5.1 3.4h0M21.7 20.9h0M4 20.7h0M5.1 21.2h0M24.1 12.7h0M-0.3 27.8h0M30.7 27.8h0M12.6 23h0M13.1 22.3h0M21.9 5h0M8.1 9.1h0M13.7 1.4h0M13.7 32.4h0M13.1 3h0M8.3 25.1h0" stroke="#ffa500" stroke-opacity="0.3" stroke-width="2.5" stroke-linecap="round" fill="none"/></pattern><pattern id="sp1" patternUnits="userSpaceOnUse" width="31" height="31"><path d="M8.7 18.7h0M24.9 20.2h0M4.1 17.2h0M14.5 15.9h0M26.3 24.9h0M24.6 28.7h0M5.6 3.8h0M17 27.9h0M3 17.5h0M4.5 9.4h0M10.5 28.1h0M4.4 4.7h0M19.7 1.1h0M19.7 32.1h0M22.9 11.6h0M24.8 3h0M18.2 15.7h0M12.8 22.7h0M25.9 19.9h0M4 21.5h0M3.1 19.5h0M1.3 16h0M32.3 16h0M5.4 13.9h0M20.3 21.8h0M1 9.4h0M32 9.4h0M22.3 12h0M2.7 20.8h0M26.9 4.1h0M8.9 -1.3h0M8.9 29.7h0M2.4 9.5h0M-0.4 12.2h0M30.6 12.2h0M21.6 24.5h0M16 3.2h0M8.1 19.5h0M20.5 23.3h0M3.5 28.2h0M27.2 11h0M0.3 -0.5h0M0.3 30.5h0M31.3 -0.5h0M31.3 30.5h0M21.2 21h0M12 2.6h0M7.4 21.8h0M29.5 15.3h0M20.5 20.7h0M27 5.3h0M25 13.7h0M18.6 8.5h0M-1.1 19.4h0M29.9 19.4h0M23.4 6.6h0M8.2 26.5h0M5 10.1h0M3.7 18h0M6.8 13.4h0M13.8 20.7h0M8.6 3h0M0.5 16.1h0M31.5 16.1h0M20.9 15.7h0M23.2 6.1h0M10.9 6.4h0M19.5 11.7h0M5.9 25.4h0M15.5 -1.1h0M15.5 29.9h0M2.6 13.8h0M11.8 26.4h0M-0.9 9.7h0M30.1 9.7h0M7.1 16.2h0M6.2 4.7h0M21.4 26.7h0M17.7 1.1h0M17.7 32.1h0M26.1 16.3h0M5.4 21.3h0M14.4 3.5h0M16.4 4.4h0M17.7 27.3h0M5.6 8.2h0M11.1 12.6h0M7.2 28.8h0M7.3 -0.4h0M7.3 30.6h0M19.2 17.2h0M10.4 7.4h0M19.7 25.8h0M22.7 3.1h0M23.6 23.3h0M3.8 16.2h0M2.9 9h0M13.3 22.7h0M21.4 22.9h0M11 28.7h0M7.8 2.1h0M11.6 9.1h0M23.8 16.4h0M2.6 13.8h0M20.9 23.7h0M4.3 0.5h0M4.3 31.5h0M11.9 26.2h0M12.5 20.9h0M9.6 6.6h0M19 28h0M7.2 22.6h0M21 18h0M1.1 7.1h0M32.1 7.1h0M11.8 4.1h0M9.5 22.9h0M19.3 17.1h0M8.3 11.2h0M21.4 3.2h0M24 20h0M27.3 -0.2h0M27.3 30.8h0M18.4 10.5h0M18.3 15.5h0M23.9 10h0M5.3 15.9h0M8.9 28.1h0M28.6 17.6h0M12.9 24.4h0M19.3 24.9h0M-1.3 5.8h0M29.7 5.8h0M3 23.1h0M14.3 8.5h0M0.2 27.1h0M31.2 27.1h0M9.9 0.5h0M9.9 31.5h0M9.7 17.8h0M22.9 7.9h0M0.3 25.7h0M31.3 25.7h0M10.3 22.2h0M20.5 27.4h0M25 4.5h0M17.7 12.7h0M23.8 27.4h0M28.8 14.1h0M1.8 6.9h0M4.5 20.8h0M28.9 14h0M15.5 -1.1h0M15.5 29.9h0M9.5 15.7h0M6.4 27.7h0M0 10.4h0M31 10.4h0M24.4 8.8h0M26.9 27.1h0M1.5 28.1h0M4.1 13.8h0M11.4 19.3h0M3.6 2.4h0M13.5 29.1h0M23.6 19.8h0M27.4 25.2h0M18.7 22.8h0M24.2 6.2h0M10.4 4.8h0M13.7 10.1h0M21.6 14.6h0M-0.4 3.4h0M30.6 3.4h0M27 14.2h0M28 7.9h0M0.8 18.3h0M31.8 18.3h0M14.3 5.5h0M26 26.3h0M15.4 3.2h0M12.4 24.4h0M6.3 9.1h0M0.5 17h0M31.5 17h0M9.3 -0.9h0M9.3 30.1h0M14 24.2h0M20.1 21.1h0M24.5 29.3h0M14.6 21.5h0M18.3 28.1h0M8.6 26.5h0M20.7 21.7h0M28 17h0M3.5 15.7h0M3.4 9.7h0M10.1 0.2h0M10.1 31.2h0M13.8 18.8h0M19.6 6.5h0M14 6.1h0M20.7 24.5h0M18.3 23.5h0M11.3 10.7h0M28.4 20.1h0M3.3 28.1h0M2.3 18.7h0M4.7 21.3h0M7.6 5.3h0M14.1 18.6h0M20.7 9.6h0M13.8 16.2h0M-0.9 18.5h0M30.1 18.5h0M23.9 15.1h0M18.4 4.3h0M20.6 14.9h0M11.8 5.2h0M3.6 28.3h0M10.6 14.5h0M18.7 2.6h0M27 23.6h0M19.2 4.3h0M27.6 9h0M4.6 24.6h0M12.4 9.5h0M22.2 16.3h0M22.2 26.7h0M27.6 14.2h0M25.3 17h0M6.3 12.3h0M14 7.6h0M26.2 28.2h0M5.7 17h0M2 19.3h0M7.9 6.1h0M27.6 4h0M-0.1 -0.7h0M-0.1 30.3h0M30.9 -0.7h0M30.9 30.3h0M-1.2 1h0M-1.2 32h0M29.8 1h0M29.8 32h0M27.9 9.5h0M4.8 8.9h0M-0.7 28.7h0M30.3 28.7h0M15.2 22.5h0M9.6 5.4h0M13.9 8.4h0M4.1 5.3h0M14.1 6h0M4.4 13.6h0M1.5 21.1h0M32.5 21.1h0M23.4 7.1h0M25.8 26.1h0M18.3 7.1h0M28.8 24.8h0M26.4 25.7h0M18.2 3h0M15.2 8.1h0M8.8 1.7h0M19.4 10.3h0M18.8 17h0M28.4 27h0M21 3.7h0M17.5 8.2h0M28 22.3h0M17.9 21.3h0M21.9 19h0M-0.3 27.4h0M30.7 27.4h0M5.7 24.2h0M28.4 -1.1h0M28.4 29.9h0M23.7 13.7h0M27.7 2.5h0M15.1 18.1h0M28.7 6.7h0M2.7 6.6h0M3.7 4.2h0M2.8 6h0M24.2 25.5h0M3.5 17.3h0M5.8 4.6h0M3.8 17.5h0M21.5 9.6h0M3 4.9h0M19.5 8.3h0M12.4 22.1h0M19.9 14.7h0M9.8 21.4h0M15.7 16.2h0M22.1 0h0M22.1 31h0M14 25.4h0M27.2 25.5h0M6 17.4h0M17.6 16.6h0M18.8 16.7h0M27.1 27.7h0M5 28.9h0M28.8 26.5h0M15.1 1.7h0M11.9 17.4h0M18.7 22.3h0M27.5 18.5h0M9.8 0.1h0M9.8 31.1h0M6 24.7h0M-0.2 8.6h0M30.8 8.6h0M17.6 24.7h0M25.7 24.7h0M14.7 10.7h0M16.5 27.9h0M20.7 -1.2h0M20.7 29.8h0M16.7 15h0M27.2 25h0M16.1 28h0M11.9 25.9h0M7.5 4.2h0M16.6 24h0M7.1 9.6h0M17.1 6.3h0M6.6 25.3h0" stroke="#ffa500" stroke-opacity="0.3" stroke-width="2.5" stroke-linecap="round" fill="none"/><path d="M7.1 24.2h0M29.4 11.9h0M16.9 13.6h0M10.7 -0.5h0M10.7 30.5h0M19.6 18.1h0M21.1 27.8h0M24.7 3.7h0M0.7 14.9h0M31.7 14.9h0M11.4 23.7h0M17.1 2.9h0M19.3 27.2h0M22.6 14.4h0M-0.1 1.9h0M30.9 1.9h0M5.1 -1.4h0M5.1 29.6h0M21.2 1.1h0M21.2 32.1h0M14.9 6.2h0M-1.2 24.3h0M29.8 24.3h0M6.8 29.2h0M15.2 -0.4h0M15.2 30.6h0M2.2 2.4h0M11.9 12.6h0M9.8 1.3h0M9.8 32.3h0M14.9 22.7h0M11.3 21.1h0M-0.6 0.4h0M-0.6 31.4h0M30.4 0.4h0M30.4 31.4h0M5.7 22.2h0M2.5 18.3h0M3.4 8.6h0M19.9 0.5h0M19.9 31.5h0M4.5 11.2h0M10.3 22.4h0M1.2 15.8h0M32.2 15.8h0M1.5 11.9h0M32.5 11.9h0M19.6 27.7h0M5 22.9h0M15.4 24.1h0M22.4 26.2h0M25.5 23.5h0M16.3 17.3h0M15.9 10.3h0M20.4 22.2h0M21.8 16.5h0M7.6 25.7h0M22.7 14.5h0M4.8 8.1h0M13.1 11.4h0M9.4 5.8h0M23 6h0M17.5 -1.3h0M17.5 29.7h0M4.8 24.3h0M25 16.7h0M26.6 10.3h0M7.3 26.4h0M18.3 24.1h0M25.6 14.4h0M7.7 18.6h0M21.1 7.6h0M16.4 26.9h0M4 18h0M17.4 23.3h0M3.9 23.5h0M13.2 3h0M7.6 25.7h0M27.9 10.5h0M19.3 8.3h0M16.5 18.8h0M24.3 9.1h0M12.9 23.9h0M5.8 24.7h0M6.6 7.9h0M28.4 -1.1h0M28.4 29.9h0M27.3 7.7h0M13.6 13.6h0M19.4 18.4h0M19.8 11.6h0M17.5 21.8h0M0.4 0.3h0M0.4 31.3h0M31.4 0.3h0M31.4 31.3h0M15.2 5.4h0M6.8 16.5h0M8.8 15h0M28.1 9.7h0M15.9 9.1h0M0.3 27h0M31.3 27h0M22.2 2.7h0M19.4 4.5h0M25.5 16.7h0M27.1 4.8h0M7.8 9.9h0M28.4 4.7h0M22.3 21.5h0M10.1 13.2h0M6.8 10.1h0M12.3 8.9h0M4.9 28.4h0M12.6 18.2h0M-1 26h0M30 26h0M13.8 23.9h0M18.1 8.2h0M11 17.7h0M24.1 11.3h0M21.1 4.9h0M-0.9 22.2h0M30.1 22.2h0M19.9 0.1h0M19.9 31.1h0M20.6 25.9h0M21.6 12.1h0M9.8 18.3h0M3.9 4.4h0M9.6 0.5h0M9.6 31.5h0M16.4 17.1h0M19.8 21.5h0M24.7 9.8h0M27.2 4.1h0M12.8 1.9h0M4.3 27.6h0M26.6 15.1h0M6.5 4.6h0M21.4 20.6h0M26 29.2h0M25.4 23.1h0M4.7 1.6h0M13.5 21.8h0M8.6 11.9h0M21.6 8.3h0M0.5 2.7h0M31.5 2.7h0M14.6 7.5h0M0.3 26.4h0M31.3 26.4h0M13.5 -0.1h0M13.5 30.9h0M16.8 10.9h0M29.2 29.4h0M6.2 -0.8h0M6.2 30.2h0M21.7 1.4h0M21.7 32.4h0M24.2 -0.5h0M24.2 30.5h0M6 25.6h0M22.9 19.5h0M16.7 28.8h0M2 28h0M8.4 20.6h0M1.4 6.1h0M32.4 6.1h0M13.1 27.5h0M6.1 8h0M6.6 10.5h0M7.3 16.3h0M24.7 26.2h0M21.1 1.2h0M21.1 32.2h0M8.3 15.3h0M22.6 19.3h0M-1.3 16h0M29.7 16h0M13.4 6.5h0M2.8 15.8h0M2.6 25.2h0M19 13.3h0M23.5 22.6h0M8.2 15.4h0M24.3 26.1h0M5.7 25.8h0M13.2 16.9h0M6.5 14.2h0M19.2 4.5h0M22 -0.1h0M22 30.9h0M6 21.1h0M6.4 21h0M4.1 23.7h0M27 11.3h0M24.8 5h0M25.4 22.9h0M26.9 18.4h0M26.4 6.5h0M4.2 27.9h0M14.6 15.6h0M-1 11h0M30 11h0M0.6 21.8h0M31.6 21.8h0M2.6 27.9h0M14.8 25.7h0M10.5 29.2h0M18.6 13.7h0M17.4 10.3h0M3.8 20h0M12.8 7.4h0M9.1 6.8h0M0.6 25.3h0M31.6 25.3h0M2.1 20h0M17.3 2.9h0M29 21.8h0M24.1 14.5h0M25.9 26.2h0M1.2 27.3h0M32.2 27.3h0M22.2 10.8h0M3.2 29.4h0M12.4 21.6h0M11.5 13.8h0M10.5 -1h0M10.5 30h0M22.7 9.2h0M15.9 25.7h0M5.1 -1.4h0M5.1 29.6h0M-0.5 21.4h0M30.5 21.4h0M5.2 19.2h0M0.8 19.3h0M31.8 19.3h0M25.7 14.2h0M11.3 15.3h0M-0.4 25.1h0M30.6 25.1h0M3.6 9.2h0M11.5 25.7h0M1.1 3.8h0M32.1 3.8h0M18.6 25h0M12.2 8.2h0M28.7 0.4h0M28.7 31.4h0M-0.2 2.7h0M30.8 2.7h0M4.8 27.3h0M21.2 24h0M16.9 4.4h0M2.7 9h0M11.6 22.4h0M12.3 28.2h0M0.6 5.3h0M31.6 5.3h0M0.4 12.8h0M31.4 12.8h0M26.2 1.2h0M26.2 32.2h0M26.2 4.2h0M2.8 1.4h0M2.8 32.4h0M12.9 11.1h0M19.9 0.3h0M19.9 31.3h0M11 21h0M9.8 9.6h0M8.4 4.4h0M9 -0.7h0M9 30.3h0M6 3.5h0M12.2 9.9h0M4.8 14.1h0M25 3.6h0M21.9 11.8h0M-0.5 22.3h0M30.5 22.3h0M13.3 5.5h0M24.6 17.2h0M13.5 14h0M15.1 18.7h0M28.7 7.1h0M25.5 4.9h0M6.4 16h0M20.6 23h0M8.6 25h0M17.9 8.6h0M26.4 18.4h0M18.6 7.1h0M24.6 24.5h0M2.3 2.4h0M5.2 5h0M24.1 16.3h0M6.4 18.7h0M2.9 2.8h0M17.3 9.8h0M16.3 29h0M9.6 2.1h0M25.1 22.2h0M18.1 21.7h0M11.8 18.7h0M8.3 24h0M25.5 21.9h0M4.6 9.7h0M26.5 7.5h0M3.3 15.3h0M26.2 23h0M2.6 12.5h0M12.3 3.5h0M28.7 12.4h0M16.4 5.1h0M20.2 13.5h0M24 18.1h0M15.7 20.7h0M10.4 13.3h0M25.7 -0.1h0M25.7 30.9h0M10.3 22h0M4.2 14.3h0M16.3 20.2h0M7.4 0.1h0M7.4 31.1h0M11.6 14.4h0M23.7 6.5h0M23.1 5.9h0M1.7 6.1h0M23.1 1.4h0M23.1 32.4h0M26.2 5.6h0M9.4 20h0M13.1 7.7h0M20.3 16.7h0M4 25.7h0M25 21.3h0M0.6 16.1h0M31.6 16.1h0M5.1 27.7h0M26.4 4.5h0M18 27.5h0" stroke="#ffa500" stroke-opacity="0.3" stroke-width="2.5" stroke-linecap="round" fill="none"/><path d="M2 0.7h0M2 31.7h0M10.1 23h0M5.3 1.5h0M14.5 16.4h0M24.5 20.5h0M12.8 16.9h0M13.6 12.3h0M27.4 11.3h0M7.7 0.4h0M7.7 31.4h0M25.4 22.4h0M18.9 29h0M0.9 29.3h0M31.9 29.3h0M29.1 21.4h0M10.8 3.6h0M4.1 7.2h0M28 1.3h0M28 32.3h0M18.8 21.7h0M15 17.5h0M6 14.6h0M9.4 25.5h0M7.1 19.8h0M4.5 21.7h0M12.4 4.1h0M6.9 9.4h0M24 2.1h0M19.3 20.6h0M2.5 4.8h0M28 16h0M4.2 15.3h0M22.1 16h0M6.5 22.7h0M17.8 13.7h0M3.1 25.8h0M24.9 6.8h0M25.8 7.8h0M4.2 4.9h0M6.8 16.9h0M9.1 4.1h0M-1.1 28.1h0M29.9 28.1h0M0.8 0.5h0M0.8 31.5h0M31.8 0.5h0M31.8 31.5h0M29 9.3h0M28.8 23.3h0M14.9 16.2h0M-0.3 8.5h0M30.7 8.5h0M7.5 8.8h0M2.2 27.9h0M25.1 1h0M25.1 32h0M2.4 17.7h0M27.4 10.8h0M29.3 23.9h0M10.3 -0.3h0M10.3 30.7h0M20 15.4h0M20.4 18.7h0M6.8 16.6h0M3.8 25.2h0M6.6 21.1h0M16.7 0.3h0M16.7 31.3h0M10.3 6.3h0M21.6 11.4h0M26.4 17.2h0M23.1 21.4h0M25.2 12.2h0M5.8 5.2h0M15.4 18.4h0M26.8 23.1h0M8.4 17.9h0M21.4 6.9h0M0.2 25.6h0M31.2 25.6h0M16.5 8.9h0M9.1 16h0M12.8 1.6h0M8.2 14h0M26.5 21.9h0M17.5 15.4h0M17 5.1h0M28.6 1.5h0M-0.3 18.8h0M30.7 18.8h0M0.4 9.6h0M31.4 9.6h0M10.7 0.6h0M10.7 31.6h0M16.5 11h0M14 1.3h0M14 32.3h0M-0.4 16.9h0M30.6 16.9h0M6.9 18.4h0M7.6 19.7h0M7.2 2.1h0M18.8 28.6h0M5 6.8h0M-1.2 3.9h0M29.8 3.9h0M26.8 2.8h0M2.3 24.6h0M9.2 9.4h0M11.6 1.5h0M9 21.3h0M0.7 5.9h0M31.7 5.9h0M23.6 19.1h0M4.7 7.5h0M15.1 5.2h0M15.5 1.1h0M15.5 32.1h0M14.3 2.9h0M24.2 27.8h0M27.6 0.7h0M27.6 31.7h0M5.7 10.1h0M14.9 25h0M18.7 21.6h0M10.2 15.1h0M8.9 10.9h0M25.6 22.8h0M22.9 9.1h0M20.8 25.9h0M22.2 20.3h0M27.5 3.6h0M14.2 5.8h0M24.3 23.2h0M19.5 7h0M10 17h0M15 21h0M18.2 25.3h0M1.6 19.7h0M6.3 3.7h0M-1.1 15.5h0M29.9 15.5h0M17.1 5.5h0M12 3.7h0M-1.2 12.7h0M29.8 12.7h0M17.1 9h0M13.9 10.6h0M7.7 26.3h0M25.6 24.1h0M28.7 7.5h0M21.2 1.7h0M2.4 10.9h0M21.2 3.8h0M29.3 21.1h0M2.5 20.5h0M1.6 24.6h0M15.2 12.4h0M9.2 3.9h0M12.4 17h0M3.9 5.4h0M-1.4 28.2h0M29.6 28.2h0M15.2 15.4h0M20.5 13.1h0M1.8 2.9h0M2.7 19.5h0M6.2 21.6h0M20.6 1.3h0M20.6 32.3h0M19.7 13.2h0M26.8 0.6h0M26.8 31.6h0M1.5 9.8h0M32.5 9.8h0M-1.4 22.5h0M29.6 22.5h0M21.5 -1.4h0M21.5 29.6h0M17 25.1h0M13 6.4h0M12.7 13.4h0M8.3 5.6h0M29 27.2h0M19.6 9h0M0 27.1h0M31 27.1h0M29 6.6h0M7.6 2.7h0M23.6 13.9h0M12.3 3.4h0M14.7 22h0M21.9 27.3h0M23.5 26.4h0M9.9 3.8h0M6.2 15.4h0M14.3 11.5h0M3.2 12.1h0M17.1 29.3h0M18.3 14.7h0M15.7 8.2h0M8.1 -0.8h0M8.1 30.2h0M2.5 13.2h0M17 21.5h0M20 2.1h0M23 7.1h0M11.1 2.4h0M15.2 15.7h0M16.6 -0.6h0M16.6 30.4h0M3.8 21.3h0M9 22.2h0M3 19.4h0M29.2 8.3h0M28.9 -1.1h0M28.9 29.9h0M25.1 11.7h0M3.8 23.6h0M3.8 -0.5h0M3.8 30.5h0M4.8 13.1h0M21.9 24.8h0M18.9 17.7h0M20.6 16.6h0M29 13.2h0M25.1 11.9h0M11.1 11.4h0M27.1 6.7h0M22.1 22.2h0M9.3 5.8h0M2.6 13.6h0M15.6 22.6h0M15.4 18.6h0M16.1 20.1h0M21.5 18.4h0M22.3 9h0M23.9 23.3h0M16.9 19.1h0M23.7 12.2h0M13.2 22h0M25.9 25.2h0M29.2 -0.1h0M29.2 30.9h0M26 2.6h0M12.3 13h0M1.2 13.9h0M32.2 13.9h0M20.6 6.1h0M16.3 -1.2h0M16.3 29.8h0M0.4 1.1h0M0.4 32.1h0M31.4 1.1h0M31.4 32.1h0M1.5 15.3h0M28.5 7h0M10.5 29.3h0M4.2 23.2h0M21.1 19.4h0M25.2 13.5h0M1.2 -0.3h0M1.2 30.7h0M32.2 -0.3h0M32.2 30.7h0M14.2 2.7h0M5.8 26.2h0M19.7 14.5h0M17.3 23.4h0M5.8 7.6h0M-0.3 6.8h0M30.7 6.8h0M14.5 2.6h0M-0.3 23.1h0M30.7 23.1h0M16.2 9.7h0M12.4 18.2h0M28.6 16.4h0M4.6 18.5h0M10.8 22.3h0M18.7 15.4h0M1.4 9h0M32.4 9h0M10.1 -1h0M10.1 30h0M10 16.7h0M9.7 10.1h0M11.6 25.3h0M2.8 15.3h0M15.9 16.5h0M27 17.4h0M9.9 11h0M27.5 4.5h0M23.5 27.3h0M4 12.1h0M23.8 0.6h0M23.8 31.6h0M7.9 26.1h0M19.9 17.9h0M12.1 8h0M0 27.5h0M31 27.5h0M11.7 25.2h0M6.8 18.6h0M2.1 1.3h0M2.1 32.3h0M24.9 24.8h0M29.2 0.4h0M29.2 31.4h0M10.5 27.5h0M0.9 7.6h0M31.9 7.6h0M20.4 9.4h0M17.1 20.7h0M3.7 26.1h0M24.1 8.4h0M14 2.5h0M14.9 10.8h0M19.4 14.1h0M10.1 25.4h0M12.1 20h0M28.4 6.8h0M27.3 19.4h0M27.1 1.8h0M15 6.3h0M26.8 7.8h0M12 27.1h0M16.2 14.4h0M27.9 -0.8h0M27.9 30.2h0M19.2 6.1h0M13.3 17.5h0M10.3 1.6h0M29.4 15.7h0M29.3 26.5h0M2.3 5.2h0M6.9 6.6h0M10.3 4.6h0M7.1 7.9h0M12.5 16.2h0M12 23.3h0" stroke="#ffa500" stroke-opacity="0.3" stroke-width="2.5" stroke-linecap="round" fill="none"/></pattern><pattern id="sp2" patternUnits="userSpaceOnUse" width="31" height="31"><path d="M25.6 18.4h0M6.9 20.6h0M18.3 26.5h0M6.8 3.2h0M11.8 13.4h0M3.7 15.7h0M22.7 6h0M5.7 23.9h0M17.6 4.4h0M0.7 2.1h0M31.7 2.1h0M3.7 14.3h0M11.3 18.4h0M5.5 16.8h0M24 8.8h0M29.4 -0.7h0M29.4 30.3h0M28.2 1h0M28.2 32h0M25.8 20.9h0M23.7 6.7h0M1.3 20.3h0M32.3 20.3h0M16.6 -0.3h0M16.6 30.7h0M2.1 9.3h0M5.5 15.2h0M6.4 3.5h0M17.4 19.6h0M23.4 5h0M25.7 12.6h0M4.4 14.8h0M19.8 16.6h0M16.6 1.5h0M16.6 32.5h0M16.5 10.8h0M6.8 15.6h0M11.1 8.7h0M9.3 16h0M0.3 14.9h0M31.3 14.9h0M-1.3 15.9h0M29.7 15.9h0M17 5.4h0M22.5 3.8h0M6 25h0M9.2 22h0M19.9 4.5h0M2.4 18.3h0M26.6 14.1h0M8.5 2.9h0M22.6 13.5h0M12.7 22.5h0M9.6 11.7h0M1.5 17.5h0M32.5 17.5h0M15.3 13.7h0M24.3 23.9h0M0.8 25.4h0M31.8 25.4h0M11.4 2.7h0M18.9 10.6h0M8.3 13.2h0M18 2.3h0M0 17h0M31 17h0M1.3 9.3h0M32.3 9.3h0M26.6 4.3h0M18 20.2h0M11.6 11.1h0M7.3 26.4h0M23 18.1h0M0.4 12h0M31.4 12h0M16.1 28.7h0M-0.8 8.5h0M30.2 8.5h0M5.8 8.6h0M11.5 6.8h0M28 4.9h0M5.9 4.3h0M7.1 20.6h0M24.2 0.7h0M24.2 31.7h0M11.4 24.8h0M22.7 11.9h0M19.1 6h0M0.5 1.6h0M31.5 1.6h0M6.4 23.3h0M-0.7 0.7h0M-0.7 31.7h0M30.3 0.7h0M30.3 31.7h0M14.8 -0.9h0M14.8 30.1h0M9.4 16.1h0M20.1 0.8h0M20.1 31.8h0M11.9 -1.3h0M11.9 29.7h0M8.7 16.9h0M1.2 7.7h0M32.2 7.7h0M0.8 2.4h0M31.8 2.4h0M3.1 3.2h0M1.3 19.1h0M32.3 19.1h0M13.1 27.6h0M24 26.1h0M19.7 9.2h0M21.9 13.1h0M-0.9 5.6h0M30.1 5.6h0M0.8 12h0M31.8 12h0M18.1 16.5h0M4.3 24.8h0M17.1 2.9h0M20.9 26h0M10.2 26.5h0M3.3 20.8h0M12.1 10.9h0M1.6 23.3h0M21.6 0.5h0M21.6 31.5h0M26 3.1h0M23.3 12.2h0M10.5 13.8h0M1.3 11.7h0M32.3 11.7h0M4 3.7h0M8 17.4h0M18.7 21.3h0M3.9 27.4h0M13.2 26.3h0M3.9 14.7h0M21.5 13.3h0M28.3 14.2h0M27.4 17.6h0M16 20.8h0M10.6 13.1h0M28.6 12.4h0M14.7 22.2h0M11.9 27.4h0M20.6 18.3h0M23.9 8.6h0M1 20.6h0M32 20.6h0M29.5 20.1h0M13.9 23.8h0M10.4 25.5h0M21 15.3h0M29.3 12.9h0M6.9 23.1h0M-0.2 15.5h0M30.8 15.5h0M22 3.5h0M20.9 23.8h0M9.9 -0.5h0M9.9 30.5h0M20.4 8.6h0M29.1 -0.8h0M29.1 30.2h0M17 4.8h0M29.2 2.5h0M28.2 20.8h0M16.7 25.2h0M24.3 4.3h0M18.9 4.6h0M11.5 24h0M22.3 7.4h0M23 0.3h0M23 31.3h0M16.1 26.9h0M6.3 14.5h0" stroke="#ffa500" stroke-opacity="0.3" stroke-width="2.5" stroke-linecap="round" fill="none"/><path d="M-0.2 -1h0M-0.2 30h0M30.8 -1h0M30.8 30h0M25.3 8.3h0M-0.9 19.9h0M30.1 19.9h0M10.3 16.7h0M0.9 3.5h0M31.9 3.5h0M11.6 6h0M14.3 14.2h0M8.9 -0.2h0M8.9 30.8h0M17.6 3.5h0M6.9 27.8h0M6.5 0.4h0M6.5 31.4h0M3.1 7.2h0M14.5 17.5h0M18.8 18.5h0M-0.9 21.5h0M30.1 21.5h0M18.7 24.9h0M18.4 23.6h0M17.6 4.2h0M6.6 25.3h0M3.4 28.5h0M29.4 6.9h0M17.5 24.1h0M20.2 8h0M25.5 23.2h0M2 0.3h0M2 31.3h0M3.4 1.3h0M3.4 32.3h0M14.2 16.8h0M22.2 15.7h0M15.9 26.2h0M-1.1 28.7h0M29.9 28.7h0M22.4 25.6h0M16.3 22.9h0M7.3 5.2h0M6.3 12.7h0M8.2 17.1h0M26.9 24.6h0M25.1 7.9h0M18.5 26.1h0M12.4 7.8h0M15.7 21h0M1.3 9.6h0M32.3 9.6h0M25.3 19.5h0M20.8 12.5h0M12.9 3.4h0M14.8 16.2h0M25.9 1.6h0M11.5 12.8h0M10.5 -0.9h0M10.5 30.1h0M7.7 15h0M11.3 9.4h0M2.3 20.7h0M4.1 7.9h0M12.2 6.7h0M22.6 16.8h0M20.4 2.2h0M8.1 7.2h0M5 17.7h0M7.3 20.7h0M4.6 15h0M-0.3 3.9h0M30.7 3.9h0M22.6 2.5h0M27.3 25.2h0M12.2 -0.7h0M12.2 30.3h0M24.1 25.1h0M25.9 21.7h0M22 23.6h0M16.7 16.4h0M18.6 20.5h0M7.3 28.4h0M25.9 23.5h0M22.9 13.9h0M29.4 2.4h0M26.3 2.4h0M9.9 2.8h0M28.8 7.1h0M21.3 16.2h0M20.6 12.8h0M-0.2 7.1h0M30.8 7.1h0M1.3 17.3h0M32.3 17.3h0M21 -1.2h0M21 29.8h0M13 15.7h0M28.9 10.9h0M1.6 26.2h0M8.8 -1.2h0M8.8 29.8h0M13.2 26.7h0M24.7 15.7h0M12.8 20.1h0M3.8 16.1h0M27.4 1.5h0M27.8 21.8h0M13.2 6.9h0M7.4 19.4h0M23.9 27.1h0M8.5 6.6h0M17.1 -0.2h0M17.1 30.8h0M10.2 20.9h0M18.1 4.5h0M13 23.6h0M9.3 28.4h0M14.7 10.6h0M1.4 28.3h0M32.4 28.3h0M16.1 19.5h0M17.3 0.6h0M17.3 31.6h0M22.5 29.5h0M21.9 14.6h0M18.6 5.4h0M9.4 10.5h0M4.8 15.4h0M8.5 17.1h0M4.9 7.7h0M21.1 13.7h0M26.6 20h0M6.1 16.2h0M-0.9 22.1h0M30.1 22.1h0M8.2 3.3h0M21.7 18.5h0M6.3 18.6h0M25.8 14.3h0M5.7 -0.4h0M5.7 30.6h0M10.8 6.6h0M22.7 19.2h0M3.9 8.6h0M4.5 17.2h0M3.4 9.8h0M26.2 -0.7h0M26.2 30.3h0M6.3 20.4h0M9.1 24.7h0M1.6 12.1h0M1.3 7.4h0M32.3 7.4h0M12.5 6.1h0M6.8 7h0M5.4 10.1h0M6.5 4.1h0M11.8 1.4h0M11.8 32.4h0M26.5 -0.7h0M26.5 30.3h0M27.4 28.3h0M7.6 9.7h0M27.5 9.1h0M4.4 11.5h0M16.1 14.8h0M24.2 0.2h0M24.2 31.2h0M19.6 10.2h0M13.5 28.9h0M15.8 23h0" stroke="#ffa500" stroke-opacity="0.3" stroke-width="2.5" stroke-linecap="round" fill="none"/></pattern><pattern id="sp3" patternUnits="userSpaceOnUse" width="31" height="31"><path d="M-1.1 12.4h0M29.9 12.4h0M9.9 -0.7h0M9.9 30.3h0M18.4 20.7h0M7.9 4.3h0M5 23.5h0M2.4 10h0M8.4 24h0M18.9 6.5h0M22.2 24.7h0M10.7 18.1h0M18.2 8.6h0M17.3 18.1h0M18.1 7.1h0M13.9 26.7h0M20.2 -0.4h0M20.2 30.6h0M20.7 16h0M15.1 29.5h0M0.1 28.4h0M31.1 28.4h0M8.7 16h0M4.3 6.2h0M19.8 24.4h0M27.9 2.1h0M20.8 10.7h0M17.4 25.7h0M3.8 5.3h0M1.5 25.6h0M24.9 25.6h0M13.4 -0.3h0M13.4 30.7h0M4.7 25h0M2.9 6.1h0M28.9 17h0M18.5 18.2h0M9 21h0M26.3 1.1h0M26.3 32.1h0M1.5 0.1h0M1.5 31.1h0M32.5 0.1h0M32.5 31.1h0M27.2 29.2h0M22.7 16.7h0M20.4 29h0M15.9 6.9h0M3.3 25.6h0M7.9 20.3h0M1.1 26.7h0M32.1 26.7h0M15.6 16.4h0M1.4 19.5h0M32.4 19.5h0M4.9 11.2h0M-0.3 2.3h0M30.7 2.3h0M13.8 17h0M8.6 0.4h0M8.6 31.4h0M12 13.4h0M12.3 14.3h0M27 4h0M28.6 17.4h0M10.8 27.9h0M8.5 11.8h0M15.3 22.4h0M26 24.4h0M21.6 18.9h0M21 6.7h0M24.2 0.3h0M24.2 31.3h0M20.5 23.4h0M-1.4 -0.5h0M-1.4 30.5h0M29.6 -0.5h0M29.6 30.5h0M0 -1.1h0M0 29.9h0M31 -1.1h0M31 29.9h0M23 16.4h0M0.6 6.2h0M31.6 6.2h0M9.4 -0.2h0M9.4 30.8h0M6.6 25.1h0M20.1 25.2h0M4.6 2.1h0M0.4 26h0M31.4 26h0M22.1 9.4h0M26.7 22.1h0M1.4 12.2h0M32.4 12.2h0M19.9 27.7h0M14 19.3h0M16.7 0.5h0M16.7 31.5h0M17.7 9.9h0M8.4 9.1h0M13.6 23h0M23.7 9.8h0M12.7 23.9h0M9.5 19.7h0M21.8 23.9h0M26.4 27.4h0M19.8 20.7h0M18.7 1.6h0M17.4 6.3h0M-0.2 17.5h0M30.8 17.5h0M29.4 2h0M0.9 9.1h0M31.9 9.1h0M23.5 16.3h0M28.8 23.4h0M22.2 23h0M15.4 29h0M15.8 27.2h0M19.7 27.6h0M9.2 25.4h0" stroke="#ffa500" stroke-opacity="0.3" stroke-width="2.5" stroke-linecap="round" fill="none"/></pattern>
</defs>
<g clip-path="url(#c00)"><rect x="103.5" y="136.6" width="299.2" height="2" fill="#0000ff"/><path d="M222,136.3 222.5,136.5 223,136.1 223.5,136.5 224,136.2 224.5,135 225,135.2 225.5,135 226,135 226.5,134.8 227,135.1 227.5,135 228,133.4 228.5,132.5 229,131.5 229.5,131.1 230,131.7 230.5,132.6 231,134 231.5,134.9 232,135.1 232.5,134.9 233,135 233.5,135.2 234,135.2 234.5,135.1 235,135 235.5,134.9 236,134.8 236.5,135.2 237,131.5 237.5,131 238,70.1 238.5,61.7 239,59.5 239.5,58.6 240,57.7 240.5,57.5 241,57.9 241.5,58.4 242,60.1 242.5,62.7 243,70.2 243.5,112 244,113 244.5,113.5 245,119.8 245.5,125.6 246,125.3 246.5,125.7 247,105.1 247.5,101.7 248,99.1 248.5,98.7 249,97.7 249.5,97 250,98.3 250.5,99.1 251,101.8 251.5,103.7 252,49.9 252.5,46.6 253,45.3 253.5,44.6 254,45 254.5,45.4 255,47.4 255.5,50.1 256,128.2 256.5,128.5 257,128.3 257.5,135.9 258,136.5 258.5,136.3 259,136.3 259.5,136.1 260,136.3 260,138.6 259.5,138.6 259,138.6 258.5,138.6 258,138.6 257.5,138.6 257,138.6 256.5,138.6 256,138.6 255.5,138.6 255,138.6 254.5,138.6 254,138.6 253.5,138.6 253,138.6 252.5,138.6 252,138.6 251.5,138.6 251,138.6 250.5,138.6 250,138.6 249.5,138.6 249,138.6 248.5,138.6 248,138.6 247.5,138.6 247,138.6 246.5,138.6 246,138.6 245.5,138.6 245,138.6 244.5,138.6 244,138.6 243.5,138.6 243,138.6 242.5,138.6 242,138.6 241.5,138.6 241,138.6 240.5,138.6 240,138.6 239.5,138.6 239,138.6 238.5,138.6 238,138.6 237.5,138.6 237,138.6 236.5,138.6 236,138.6 235.5,138.6 235,138.6 234.5,138.6 234,138.6 233.5,138.6 233,138.6 232.5,138.6 232,138.6 231.5,138.6 231,138.6 230.5,138.6 230,138.6 229.5,138.6 229,138.6 228.5,138.6 228,138.6 227.5,138.6 227,138.6 226.5,138.6 226,138.6 225.5,138.6 225,138.6 224.5,138.6 224,138.6 223.5,138.6 223,138.6 222.5,138.6 222,138.6Z" fill="#0000ff"/><rect x="240.3" y="126.3" width="3.3" height="12.3" fill="#fff"/><path d="M249.2,138.6 249.2,133.2 250.5,133.5 251.5,134.5 252.5,133.3 253.8,133.2 253.8,138.6Z" fill="#fff"/><path d="M240.6 56.3h0M253.6 43.2h0" stroke="#0000ff" stroke-opacity="0.25" stroke-width="2.6" stroke-linecap="round" fill="none"/></g>
<g clip-path="url(#c01)"><rect x="499.1" y="130.9" width="121.4" height="3.1" fill="#ffa500"/><rect x="654.5" y="131.1" width="144.4" height="3.1" fill="#ffa500"/><path d="M610,130.6 610.5,130.4 611,130.2 611.5,130 612,129.8 612.5,129.8 613,129.8 613.5,129.8 614,129.7 614.5,129.7 615,129.7 615.5,129.7 616,129.7 616.5,129.7 617,129.7 617.5,129.6 618,129.6 618.5,129.6 619,129.6 619.5,129.9 620,130.2 620.5,130.5 621,130.7 621.5,131 622,131.3 622.5,131.4 623,131.4 623.5,131.4 624,131.5 624.5,131.3 625,131.2 625.5,131 626,130.8 626.5,130.7 627,130.5 627.5,130.2 628,130 628.5,129.8 629,129.5 629.5,129.3 630,129.2 630.5,129 631,128.8 631.5,128.7 632,128.5 632.5,128.4 633,128.2 633.5,128 634,127.9 634.5,127.7 635,127.7 635,132.6 634.5,132.6 634,132.8 633.5,133 633,133.3 632.5,133.5 632,133.7 631.5,133.9 631,134.2 630.5,134.4 630,134.6 629.5,134.7 629,134.8 628.5,134.9 628,135 627.5,136.6 627,138.2 626.5,138.2 626,138.2 625.5,138.2 625,138.2 624.5,138.2 624,137.2 623.5,135.5 623,135.2 622.5,135 622,134.7 621.5,134.4 621,134.1 620.5,133.9 620,133.8 619.5,133.8 619,133.8 618.5,133.8 618,133.8 617.5,133.8 617,133.8 616.5,133.8 616,133.8 615.5,133.8 615,133.8 614.5,133.8 614,133.8 613.5,133.8 613,133.8 612.5,133.8 612,133.8 611.5,133.8 611,133.8 610.5,133.8 610,133.8Z" fill="#ffa500"/><path d="M634.2,133.4 634.2,115.2 641.9,115.2 641.9,117.7 643,117.7 643,115.2 652.8,115.2 652.8,128.8 654.7,131.3 655,134.2 634.2,134.2Z" fill="#ffa500"/><path d="M636.9,118 638.9,118 639.2,128 640.2,131.6 636.6,131.6Z" fill="#fff"/><path d="M645.2,126.1 646.5,125.5 647.8,126.5 649,124 649.3,121.2 649.6,124 650.9,126.1 650.9,132.8 645.2,132.8Z" fill="#fff"/><path d="M637.5 132.2h0M639.5 132.5h0M646.5 132.3h0M648.5 132.6h0M650 132.4h0M647 128.5h0M649.8 129.2h0" stroke="#ffa500" stroke-opacity="0.35" stroke-width="2.2" stroke-linecap="round" fill="none"/><path d="M636.2,41 637.2,39.5 638.7,41 638.7,40.5 638.8,70 638.8,100 639.6,102 639.3,105.5 634.1,105.5 634.3,66 635.2,50 636.4,40.5Z" fill="#ffa500"/><path d="M637.3 38.2h0" stroke="#ffa500" stroke-opacity="0.3" stroke-width="2.4" stroke-linecap="round" fill="none"/><path d="M644.2,105.5 644.2,85 645,83.4 646.3,83.6 647.1,86 647.3,90.6 648,88 648.1,34 651.8,34 651.5,50 652,70 651.4,85 652,100 651.6,105.5Z" fill="#ffa500"/></g>
<g clip-path="url(#c10)"><path d="M104.4,296.2 105.4,295.6 106.4,295.5 107.4,294.5 108.4,294.4 109.4,294 110.4,293.2 111.4,292.6 112.4,292.3 113.4,292.1 114.4,291.6 115.4,290.9 116.4,290.6 117.4,290.3 118.4,289.7 119.3,289.3 120.3,289.2 121.3,289 122.3,288.8 123.3,288.7 124.3,288.8 125.3,288.9 126.3,289.2 127.3,289.1 128.3,288.8 129.3,289.2 130.3,288.9 131.3,289 132.3,288.6 133.3,288.6 134.3,288.7 135.3,289.2 136.3,289 137.3,289.1 138.3,289 139.3,288.8 140.3,288.9 141.3,288.9 142.3,289.1 143.3,288.8 144.3,289.1 145.3,288.9 146.3,289.1 147.3,288.9 148.3,289 149.2,288.7 150.2,288.9 151.2,288.7 152.2,288.6 153.2,288.5 154.2,289 155.2,288.8 156.2,289.1 157.2,289.1 158.2,288.8 159.2,289.2 160.2,288.9 161.2,289 162.2,288.8 163.2,288.6 164.2,288.6 165.2,288.6 166.2,288.9 167.2,288.6 168.2,288.5 169.2,289.1 170.2,288.5 171.2,288.8 172.2,288.8 173.2,288.9 174.2,288.8 175.2,289.1 176.2,289 177.2,288.9 178.1,288.9 179.1,288.8 180.1,289.1 181.1,288.6 182.1,288.9 183.1,288.8 184.1,288.5 185.1,288.7 186.1,289.1 187.1,289 188.1,288.5 189.1,288.7 190.1,288.5 191.1,289.1 192.1,288.6 193.1,288.5 194.1,289.2 195.1,288.8 196.1,288.7 197.1,288.5 198.1,288.8 199.1,288.8 200.1,288.9 201.1,288.5 202.1,288.6 203.1,288.7 204.1,288.8 205.1,288.7 206.1,288.9 207.1,288.7 208,289.2 209,289.2 210,288.6 211,288.7 212,288.9 213,289.1 214,288.6 215,288.7 216,288.9 217,289 218,289.2 219,289.1 220,289.1 221,288.6 222,288.9 222,292.2 221,292.2 220,292.3 219,291.9 218,292 217,291.9 216,292.1 215,292 214,291.9 213,292 212,292.2 211,292.3 210,292.1 209,292.6 208,292.6 207.1,292.6 206.1,292.3 205.1,292.2 204.1,292 203.1,292 202.1,292.6 201.1,292.5 200.1,291.9 199.1,292.1 198.1,292.4 197.1,292.4 196.1,292.2 195.1,292.6 194.1,292.1 193.1,292.3 192.1,292.5 191.1,292.1 190.1,292.3 189.1,292.1 188.1,292.2 187.1,292.3 186.1,292.1 185.1,292.6 184.1,292.3 183.1,292.1 182.1,292.4 181.1,292 180.1,292.5 179.1,292 178.1,292.1 177.2,292.5 176.2,292.2 175.2,292.6 174.2,292.5 173.2,292.5 172.2,292 171.2,292.7 170.2,292.6 169.2,292 168.2,292.1 167.2,292.1 166.2,292.6 165.2,292.5 164.2,292.7 163.2,292.4 162.2,292.5 161.2,292.4 160.2,292.1 159.2,292.7 158.2,292.5 157.2,292.2 156.2,292.3 155.2,292.2 154.2,292.2 153.2,292.7 152.2,292.6 151.2,292.6 150.2,292.7 149.2,292.5 148.3,292.4 147.3,292.2 146.3,292.3 145.3,292.7 144.3,292.6 143.3,292.5 142.3,292.5 141.3,292.4 140.3,292.2 139.3,292.6 138.3,292.4 137.3,292.6 136.3,292.3 135.3,292.8 134.3,292.8 133.3,292.2 132.3,292.7 131.3,292.5 130.3,292.3 129.3,292.3 128.3,292.6 127.3,292.7 126.3,292.1 125.3,292.1 124.3,292.2 123.3,292.4 122.3,292.1 121.3,292.5 120.3,292.3 119.3,292.9 118.4,292.8 117.4,293.9 116.4,294.1 115.4,294.8 114.4,294.9 113.4,295.6 112.4,295.9 111.4,296.6 110.4,297 109.4,297.2 108.4,297.7 107.4,298.3 106.4,298.5 105.4,298.8 104.4,299.6Z" fill="#0000ff"/><path d="M222,288.2 222.5,287.6 223,287.5 223.5,286.9 224,286.2 224.5,286 225,285.6 225.5,284.9 226,284.8 226.5,283.5 227,282.5 227.5,281.5 228,280.3 228.5,279.3 229,278.2 229.5,277.2 230,275.7 230.5,275.1 231,274.4 231.5,273.5 232,272.6 232.5,272.5 233,271.4 233.5,263.1 234,262.7 234.5,262.1 235,263.2 235.5,264.5 236,264.3 236.5,263.7 237,262.5 237.5,254.3 238,218.1 238.5,215.3 239,212.9 239.5,212.9 240,212.5 240.5,213.1 241,213.4 241.5,215.2 242,245.2 242.5,255.7 243,262.8 243.5,264.5 244,266 244.5,266.3 245,266.5 245.5,266.2 246,259 246.5,225.7 247,212.5 247.5,210.6 248,210.9 248.5,210.7 249,211 249.5,213 250,239.2 250.5,267 251,267.1 251.5,249.8 252,246.4 252.5,246.8 253,246.8 253.5,246.8 254,247 254.5,246.6 255,253.3 255.5,260.4 256,270 256.5,273.9 257,276.8 257.5,279.9 258,282 258.5,283.3 259,284.1 259.5,285.4 260,285.5 260.5,285.8 261,286.1 261.5,286.7 262,286.6 262.5,286.9 263,287.2 263.5,287.6 264,287.9 264.5,288 265,287.9 265.5,288.3 266,288.5 266,292 265.5,291.7 265,291.5 264.5,291.6 264,291.2 263.5,291.1 263,291.1 262.5,290.6 262,290.8 261.5,290.2 261,289.7 260.5,289.3 260,289.2 259.5,288.7 259,288 258.5,286.9 258,286.5 257.5,284.8 257,283.4 256.5,281.3 256,279.1 255.5,277.6 255,275.5 254.5,273.3 254,274.1 253.5,275 253,276.5 252.5,277.2 252,277.9 251.5,278.8 251,279.5 250.5,280.3 250,280.3 249.5,280.8 249,280.3 248.5,279.7 248,278.7 247.5,277.4 247,276.2 246.5,274.8 246,274.3 245.5,274.3 245,273.8 244.5,273.5 244,273 243.5,272.5 243,271.7 242.5,270.7 242,269.8 241.5,268.5 241,267.3 240.5,267.3 240,268.6 239.5,270.4 239,271.9 238.5,273.3 238,273.8 237.5,274.3 237,274.6 236.5,275 236,276.3 235.5,277.1 235,277.8 234.5,279.1 234,279.9 233.5,280.5 233,281.1 232.5,282 232,282.3 231.5,282.9 231,283.7 230.5,284.4 230,285.6 229.5,286.4 229,287.7 228.5,289 228,289.9 227.5,290.5 227,290.4 226.5,290.8 226,290.7 225.5,291 225,291.1 224.5,291.3 224,291.4 223.5,291.5 223,291.5 222.5,291.8 222,291.8Z" fill="#0000ff"/><path d="M233.6,263.5 234.4,256.9 235.2,263.5Z" fill="#0000ff" fill-opacity="0.3"/><path d="M247.6,211.5 248.4,206.3 249.2,211.5Z" fill="#0000ff" fill-opacity="0.35"/><path d="M251.6,247 252.5,238 253.4,247Z" fill="#0000ff" fill-opacity="0.3"/><path d="M241.9,238 243.5,246.3 244.8,256.9 245.6,265 244,266 242.3,262Z" fill="#0000ff" fill-opacity="0.35"/><path d="M266,288.8 267,288.8 268,289.1 269,288.5 270,288.9 271,288.7 272,289 273,288.6 274,289.1 275,288.9 276,289.1 277,288.8 278,288.8 279,289.1 280,289.2 281,288.8 282,289.2 283,289.2 284,288.7 285,289 286,289.1 287,289.2 288,289 289,288.7 290,288.9 291,288.9 292,289 293,289.3 294,288.9 295,288.8 296,289 297,289.1 298,289.3 299,289.1 299.9,288.8 300.9,289.3 301.9,289 302.9,289.1 303.9,289 304.9,288.8 305.9,289.2 306.9,289.2 307.9,288.8 308.9,289 309.9,288.9 310.9,288.8 311.9,288.8 312.9,289.4 313.9,289.3 314.9,289 315.9,289.2 316.9,288.7 317.9,289.4 318.9,289.1 319.9,289.3 320.9,288.9 321.9,289 322.9,289 323.9,289.4 324.9,289 325.9,289.1 326.9,289.4 327.9,289.4 328.9,289 329.9,289 330.9,289.3 331.9,288.8 332.9,289 333.9,289.4 334.9,289.4 335.9,288.9 336.9,288.8 337.9,289.3 338.9,289.2 339.9,289 340.9,289.2 341.9,288.8 342.9,289.3 343.9,289.2 344.9,289.3 345.9,288.9 346.9,289.3 347.9,289.1 348.9,289.2 349.9,289.1 350.9,289.3 351.9,289.2 352.9,289.3 353.9,288.9 354.9,289 355.9,288.9 356.9,289.1 357.9,289.2 358.9,288.9 359.9,289.3 360.9,289.2 361.9,289.2 362.9,289.3 363.9,289.5 364.9,289.3 365.8,288.9 366.8,289 367.8,289.3 368.8,289.1 369.8,289.4 370.8,289.2 371.8,289.1 372.8,289.4 373.8,289 374.8,289 375.8,289.1 376.8,289.1 377.8,289.5 378.8,289.4 379.8,289.4 380.8,289.3 381.8,288.9 382.8,289.1 383.8,289.2 384.8,289.5 385.8,289.1 386.8,289.2 387.8,289.4 388.8,289.1 389.8,289.4 390.8,289.3 391.8,289.2 392.8,289.3 393.8,289.2 394.8,288.9 395.8,289.5 396.8,289.5 397.8,289.4 398.8,289.2 398.8,292.6 397.8,292.5 396.8,292.9 395.8,292.8 394.8,292.8 393.8,292.5 392.8,292.4 391.8,292.3 390.8,292.3 389.8,292.8 388.8,292.7 387.8,292.6 386.8,292.5 385.8,292.3 384.8,292.9 383.8,292.6 382.8,292.6 381.8,292.7 380.8,292.5 379.8,292.9 378.8,292.4 377.8,292.4 376.8,292.8 375.8,292.4 374.8,292.3 373.8,292.5 372.8,292.9 371.8,292.4 370.8,292.8 369.8,292.5 368.8,292.7 367.8,292.4 366.8,292.7 365.8,292.4 364.9,292.4 363.9,292.4 362.9,292.9 361.9,292.9 360.9,292.6 359.9,292.5 358.9,292.7 357.9,292.9 356.9,292.8 355.9,292.9 354.9,292.6 353.9,292.9 352.9,292.5 351.9,292.8 350.9,292.6 349.9,292.4 348.9,292.8 347.9,292.3 346.9,292.6 345.9,292.4 344.9,292.8 343.9,292.4 342.9,292.8 341.9,292.3 340.9,292.9 339.9,292.7 338.9,292.7 337.9,292.9 336.9,292.6 335.9,292.9 334.9,292.4 333.9,292.8 332.9,292.7 331.9,292.8 330.9,292.7 329.9,292.6 328.9,292.8 327.9,292.6 326.9,292.3 325.9,292.8 324.9,292.4 323.9,292.6 322.9,292.3 321.9,292.7 320.9,292.7 319.9,292.2 318.9,292.3 317.9,292.5 316.9,292.4 315.9,292.8 314.9,292.3 313.9,292.9 312.9,292.2 311.9,292.8 310.9,292.5 309.9,292.9 308.9,292.6 307.9,292.2 306.9,292.6 305.9,292.2 304.9,292.6 303.9,292.8 302.9,292.7 301.9,292.6 300.9,292.8 299.9,292.7 299,292.5 298,292.3 297,292.4 296,292.3 295,292.4 294,292.7 293,292.5 292,292.6 291,292.5 290,292.3 289,292.5 288,292.7 287,292.1 286,292.6 285,292.3 284,292.6 283,292.7 282,292.3 281,292.5 280,292.2 279,292.5 278,292.4 277,292.6 276,292.5 275,292.3 274,292.1 273,292.6 272,292.1 271,292.6 270,291.9 269,292.4 268,291.9 267,292.4 266,292.2Z" fill="#0000ff"/><path d="M356.2,290 356.4,283 357.3,281.6 359,281.6 359.8,283 360.1,290Z" fill="#0000ff"/><rect x="397.4" y="289.5" width="1.6" height="9.7" fill="#0000ff"/></g>
<g clip-path="url(#c11)"><rect x="499.1" y="275.7" width="299.8" height="3" fill="#ffa500"/><rect x="564.5" y="275.1" width="1.5" height="0.9" fill="#ffa500"/><path d="M610,275.9 610.5,276.1 611,275.9 611.5,275.8 612,275.6 612.5,275.8 613,275.8 613.5,275.6 614,275.6 614.5,276.2 615,276 615.5,275.7 616,275.9 616.5,276.2 617,276.1 617.5,276.1 618,275.8 618.5,275.9 619,276 619.5,275.6 620,275.5 620.5,273.9 621,274 621.5,273.3 622,273.5 622.5,273.4 623,272.8 623.5,272.9 624,272.7 624.5,272.3 625,274.1 625.5,275 626,276.2 626.5,276.5 627,276.8 627.5,277.3 628,278 628.5,278.2 629,277.9 629.5,276.1 630,273.7 630.5,271.7 631,273.7 631.5,276.1 632,278.8 632.5,276.5 633,274.5 633.5,272.3 634,257 634.5,238.3 635,224.4 635.5,222.2 636,221.9 636.5,222.3 637,221.9 637.5,225.3 638,238.2 638.5,253.5 639,254.5 639.5,255.1 640,260.6 640.5,265.9 641,271.2 641.5,272 642,272.2 642.5,273 643,238.7 643.5,219.2 644,216.8 644.5,216.4 645,216.5 645.5,219.2 646,233.4 646.5,265.9 647,268.9 647.5,262.8 648,259.5 648.5,258.1 649,263.5 649.5,268.5 650,269.5 650.5,270.2 651,270.6 651.5,271.4 652,272 652.5,272.9 653,273 653.5,273.5 654,273.8 654.5,275.9 655,276 655.5,276.2 656,275.9 656,278.9 655.5,279 655,278.8 654.5,279.2 654,279.3 653.5,279.7 653,280.8 652.5,284.4 652,287.9 651.5,289.7 651,291 650.5,291.8 650,292.8 649.5,290.9 649,289.7 648.5,288.1 648,286.5 647.5,285.2 647,283.7 646.5,282.2 646,280.7 645.5,282.7 645,285.3 644.5,287.9 644,287.4 643.5,285.8 643,285 642.5,283.5 642,282.8 641.5,282.2 641,281.9 640.5,281.9 640,281.4 639.5,282.1 639,285.8 638.5,289.4 638,293.3 637.5,294.1 637,295 636.5,295.2 636,295.4 635.5,294.7 635,294.7 634.5,294.1 634,293.7 633.5,293.2 633,292.9 632.5,292.5 632,292.5 631.5,290.9 631,284.7 630.5,281.8 630,283.9 629.5,285.9 629,287.8 628.5,288.3 628,288.5 627.5,289.1 627,289.3 626.5,288.8 626,286.6 625.5,284.2 625,281.7 624.5,279.6 624,278.9 623.5,279.2 623,279.1 622.5,279 622,279 621.5,279.2 621,279.2 620.5,278.9 620,278.8 619.5,278.7 619,278.7 618.5,278.9 618,278.8 617.5,279.2 617,278.7 616.5,279 616,278.9 615.5,278.8 615,279 614.5,278.7 614,279.1 613.5,279.1 613,278.7 612.5,278.9 612,278.7 611.5,279.1 611,278.7 610.5,279.2 610,278.9Z" fill="#ffa500"/><path d="M635.3,222 636.3,199 637.5,222Z" fill="#ffa500" fill-opacity="0.45"/><path d="M643.7,217 644.4,211 645.2,217Z" fill="#ffa500" fill-opacity="0.45"/><path d="M629.8,272 630.5,268.5 631.2,272Z" fill="#ffa500" fill-opacity="0.4"/><path d="M638.8,254 639.5,251.5 640.2,256Z" fill="#ffa500" fill-opacity="0.4"/><path d="M647.8,259 648.5,253.5 649.2,259Z" fill="#ffa500" fill-opacity="0.4"/><path d="M635.4,294 636.3,298.5 637.2,294Z" fill="#ffa500" fill-opacity="0.4"/><path d="M752.6,276 752.8,266 753.4,261 754.2,258.5 755.2,259.5 755.8,264 756.3,276Z" fill="#ffa500"/><path d="M753.6,260 754.3,256.3 755,260Z" fill="#ffa500" fill-opacity="0.4"/><rect x="606" y="275" width="3" height="1" fill="#ffa500"/><rect x="612" y="275" width="2" height="1" fill="#ffa500"/></g>
<g clip-path="url(#c20)"><path d="M104.2,448.5 105.3,440 106.5,430 108,427 110.5,425.6 113,425.3 118,425.8 140,425.7 169,424.8 170.4,423 171.8,424.4 200,424.3 210,424.3 222.6,423.2 224.5,421.8 226,419.5 227.9,412.2 230.8,403.5 233.2,396.5 236.1,390.5 238.5,386 239.5,379.3 240.2,372.5 241.2,372.3 242.5,377.4 244.8,380.5 245.5,383 245.8,388" stroke="#0000ff" stroke-width="3.9" fill="none" stroke-linejoin="round" stroke-linecap="round"/><path d="M104.8,448.6 103.7,446.9 104.9,445.5 104.7,444 105.3,442.6 104.4,440.9 104.6,439.4 105,438 106.5,436.6 105.6,435 106.2,433.6 107,432.2 106.8,430.6 106.5,429 107.5,427.7 108.1,426.2 109.7,425.7 111.2,425.2 112.7,424.6 114.2,426 115.7,426.2 117.2,425.8 118.7,426 120.2,425.9 121.7,426 123.3,426.6 124.8,425.9 126.3,425.2 127.8,426.1 129.3,426.1 130.8,426.3 132.3,426 133.8,425.4 135.3,425 136.8,425.6 138.3,425.9 139.8,426.1 141.3,425.9 142.8,425.8 144.3,425.7 145.8,425.1 147.3,425.3 148.8,425.3 150.3,424.6 151.9,426.1 153.3,424.6 154.9,426 156.4,425.7 157.9,424.7 159.4,424.9 160.9,424.6 162.4,425.2 163.9,424.2 165.4,424.8 166.9,425.3 168.4,424.7 169.7,424.2 170.5,423 171.5,424.4 172.9,425 174.5,424.7 176,425 177.5,424.9 179,424.4 180.5,424.2 182,424.7 183.5,424.6 185,424.1 186.5,424.5 188,424.2 189.6,425.1 191.1,423.9 192.6,424.2 194.1,424.9 195.6,424.3 197.1,423.9 198.6,423.9 200.1,424.7 201.6,424.6 203.1,424 204.6,424 206.1,424.3 207.6,424.9 209.1,424.6 210.6,423.5 212.2,424.3 213.7,424.7 215.1,423.7 216.7,424.3 218.2,424.2 219.6,423 221.1,423.1 222.5,422.8 223.8,422.3 225.1,421.4 226.1,420.2 225.6,418.4 227.3,417.3 226.3,415.5 228,414.4 227.7,412.7 227.5,411.1 227.9,409.6 228.6,408.3 228.9,406.8 230.8,405.8 230.7,404.2 230.7,402.6 230.9,401.1 232.1,399.9 232.4,398.4 232.5,396.8 233.3,395.5 234.6,394.5 234.3,392.6 236,391.8 236.8,390.5 237.5,389.2 237.1,387.3 238.8,386.4 239,384.8 238.2,383.2 238.6,381.7 239.2,380.3 239.4,378.8 240,377.3 240.1,375.8 240.2,374.3 239.8,372.6 240.8,373.1 241,374.1 242.3,375.3 241.8,377.1 242.6,378.4 244.2,379.2 244.3,380.8 245,382.1 245.4,383.5 245.9,385 246.5,386.5 245.1,388" stroke="#0000ff" stroke-width="2.92" fill="none" stroke-linejoin="round" stroke-linecap="round"/><path d="M104.8,448.6 104.5,447 104.8,445.5 105.2,444.1 104.2,442.4 104.7,441 104.7,439.5 106.3,438.1 105.7,436.5 105.7,435 106.5,433.6 106.2,432.1 106.5,430.6 107.6,429.4 107.7,427.9 108.4,426.6 109.8,425.8 111.3,425.7 112.7,425.2 114.2,425.4 115.7,425.8 117.2,425.6 118.7,426.2 120.2,426.6 121.7,426.5 123.2,425.1 124.8,426.2 126.3,425.6 127.8,425.8 129.3,425 130.8,426.5 132.3,426.3 133.8,426.4 135.3,425.1 136.8,425.5 138.3,425.7 139.8,425.6 141.3,426.2 142.8,425.8 144.4,426.2 145.8,424.8 147.3,425.1 148.8,424.9 150.4,426 151.9,425.9 153.4,425.6 154.9,424.7 156.4,425.6 157.9,425.3 159.4,425.5 160.9,425 162.4,425.3 163.9,425.7 165.4,425.7 166.9,425.5 168.2,424.1 169.8,424.3 170.5,422.6 171.7,423.8 173,424.4 174.5,424.9 176,425 177.5,424.2 179,425 180.5,424.3 182,423.6 183.5,424.9 185,424.3 186.5,424 188,423.8 189.6,424.4 191.1,424.6 192.6,425.1 194.1,424.9 195.6,424.6 197.1,424.5 198.6,423.7 200.1,424.7 201.6,423.9 203.1,424.3 204.6,425 206.1,424.6 207.6,423.9 209.1,424.6 210.6,424 212.2,424.6 213.6,423.8 215.2,424.1 216.6,423.6 218.1,422.9 219.6,422.7 221.1,422.9 222.9,423.8 223.8,422.3 225.2,421.5 225.7,419.9 226.7,418.7 227.2,417.3 227.7,415.8 227.6,414.3 227.6,412.7 228.1,411.3 228.3,409.7 229.8,408.7 230.1,407.2 230.5,405.7 230.2,404 230.4,402.5 231.6,401.3 231.6,399.7 232.8,398.5 232.4,396.8 233.4,395.6 234.6,394.4 234.8,392.9 235.8,391.7 236,390.1 236.9,388.9 238.2,387.9 239,386.5 239.1,384.9 238.7,383.3 239.5,381.9 239.4,380.3 239,378.8 240.4,377.4 239.5,375.8 240,374.3 240.8,373.2 241.1,372.7 240.9,374.1 241.3,375.5 242.4,376.8 243.1,378.1 243.8,379.5 244.4,380.8 245.6,381.9 245.4,383.5 246.4,384.9 246.2,386.5 246.5,388" stroke="#0000ff" stroke-width="2.92" fill="none" stroke-linejoin="round" stroke-linecap="round"/><path d="M247.7,396.5 249.5,399.5 251.1,401.8 253,400.5 254.2,400.3 256.4,405.5 258.4,411.2 262.2,415.8 268,418.7 277.7,420.3 290,421.4 321.4,423.2 337.2,424.6 354.5,425.1 357.2,424.9 357.8,419.6 359.6,419.6 360.4,424.3 368.6,424 384.3,425.5 397.7,425.7" stroke="#0000ff" stroke-width="3.9" fill="none" stroke-linejoin="round" stroke-linecap="round"/><path d="M248.2,396.2 248.4,397.8 249.4,399 250.3,400.2 250.8,401.8 252.4,401.8 253.5,401.2 254.3,401.1 254.6,402.5 255.7,403.7 256.5,405 256.7,406.5 257.1,408 257.1,409.6 258.4,410.7 259,412 260.1,413.1 261.4,414 262.4,414.9 263.4,415.9 264.4,417.1 265.6,418.2 267.5,417.6 268.6,418.7 270,419.5 271.4,420 273.1,419 274.6,419.1 276.1,419.5 277.5,420 279,420.2 280.5,420.7 282,420 283.4,421.5 284.9,421.2 286.4,421.1 287.9,422 289.5,421.2 291,421.1 292.4,421.9 293.9,422.1 295.4,422.1 296.9,422.4 298.5,421.3 299.9,422.7 301.5,421.7 302.9,422.3 304.5,421.8 305.9,422.3 307.4,423.1 309,422.2 310.4,423.4 311.9,422.7 313.4,423.4 314.9,422.8 316.4,422.7 317.9,423.5 319.5,422.7 320.9,423.7 322.5,422.9 323.9,423.2 325.4,424 326.9,423.5 328.4,424.2 330,423.4 331.5,423.6 333,423.6 334.4,424.9 335.9,425 337.4,425.1 338.9,425.3 340.4,423.9 341.9,425.2 343.4,424 344.9,424.3 346.4,424.1 347.9,424.3 349.4,424.2 350.9,425.6 352.4,424.6 353.9,425.1 355.4,425.3 356.8,424.7 357.3,423.7 357.7,422.2 358.3,420.9 358.2,419.6 359.8,419.5 359.3,421.3 360,422.7 360.3,424.2 361.7,424.8 363.2,424.8 364.7,424.3 366.2,424.2 367.7,424.7 369.2,424.6 370.8,423.7 372.2,424.8 373.7,424.2 375.2,424.3 376.7,425.2 378.2,425.4 379.6,425.8 381.2,425.5 382.7,424.9 384.2,424.8 385.7,425 387.2,424.9 388.7,425.2 390.2,425.7 391.7,425.9 393.2,425.2 394.7,425.6 396.2,426 397.7,425.4" stroke="#0000ff" stroke-width="2.92" fill="none" stroke-linejoin="round" stroke-linecap="round"/><path d="M248.2,396.2 249,397.5 249.9,398.7 250.4,400.1 250.7,402 252.1,401.2 253.4,399.7 254.7,400.8 255.1,402.3 255.8,403.7 256.9,404.8 257.2,406.3 257.6,407.8 258,409.2 258.3,410.7 259.5,411.7 260.1,413.1 261.1,414.2 261.4,416 263.4,415.8 264.3,417.3 265.8,417.8 266.9,419 268.4,419.5 270.2,418.4 271.7,418.6 273,419.7 274.6,419.4 276,419.8 277.5,420.1 279,420.6 280.5,420.5 282,420.1 283.4,421.2 284.9,421.3 286.5,420.8 288,420.6 289.5,421 291,420.7 292.5,421.3 293.9,422.4 295.4,421.8 297,421.3 298.4,422.6 300,421.3 301.5,421.3 302.9,422.2 304.5,421.8 305.9,422.3 307.5,421.7 308.9,423 310.4,423 311.9,422.6 313.4,422.7 314.9,422.8 316.4,423.6 318,422.3 319.4,423.1 320.9,423.3 322.4,423.6 323.9,423.7 325.4,424.1 327,423.1 328.5,423.2 329.9,423.8 331.5,423.5 332.9,424.3 334.3,425.1 335.9,424.2 337.4,424 338.9,425.4 340.4,424.3 341.9,424.2 343.4,424 344.9,424.2 346.4,425.5 347.9,425 349.4,424.9 350.9,424.5 352.4,424.8 353.9,424.3 355.4,424.9 356.6,424.5 357.7,423.8 357.5,422.2 358.3,420.9 357.8,418.9 359.4,419.9 359.6,421.2 360.5,422.6 360.7,423.8 361.7,424.4 363.2,423.6 364.7,424.1 366.2,423.8 367.7,424.3 369.3,423.3 370.8,423.7 372.2,424.3 373.8,424 375.2,424.9 376.7,424.4 378.2,425.4 379.7,424.7 381.2,425.5 382.7,424.7 384.2,425.8 385.7,424.8 387.2,426.2 388.7,425.9 390.2,426.2 391.7,424.8 393.2,425.1 394.7,425.3 396.2,425.1 397.7,425.6" stroke="#0000ff" stroke-width="2.92" fill="none" stroke-linejoin="round" stroke-linecap="round"/><rect x="396.8" y="426" width="1.4" height="24.5" fill="#0000ff" fill-opacity="0.3"/></g>
<g clip-path="url(#c21)"><path d="M499.2,415 500.2,413.2 501.2,412.6 502.2,412.5 503.2,413 504.2,412.6 505.2,412.5 506.2,412.1 507.2,412.3 508.2,411.7 509.2,411.5 510.2,412.3 511.2,411.4 512.2,412.4 513.2,412.3 514.2,412.3 515.2,411.6 516.2,411.7 517.2,412.4 518.2,412 519.2,412.2 520.2,411.7 521.2,411.8 522.2,412.1 523.2,412.4 524.2,412.2 525.2,411.8 526.2,412.6 527.2,411.9 528.2,412.2 529.2,412.4 530.1,412.1 531.1,412.2 532.1,412.7 533.1,412.3 534.1,412.4 535.1,412.9 536.1,412.2 537.1,412.8 538.1,412.3 539.1,412.3 540.1,412.9 541.1,412.1 542.1,412.9 543.1,412.9 544.1,413 545.1,412.2 546.1,412.4 547.1,413 548.1,412.7 549.1,412.3 550.1,413 551.1,413.2 552.1,413.4 553.1,412.6 554.1,412.7 555.1,413.3 556.1,412.6 557.1,412.8 558.1,413 559.1,413 560.1,413.2 561.1,413.5 562.1,413.3 563.1,413.4 564.1,413.4 565.1,413 566.1,413.3 567.1,413.9 568.1,413.9 569.1,413.8 570.1,413.6 571.1,414 572.1,413.8 573.1,413.6 574.1,413.8 575.1,413.5 576.1,414 577.1,413.8 578.1,414.3 579.1,414.4 580.1,414.6 581.1,414.5 582.1,413.7 583.1,414.4 584.1,414.5 585.1,414.6 586.1,414.2 587.1,414.3 588.1,414.3 589.1,414 590.1,414.8 591,414.9 592,414.2 593,414.9 594,414.2 595,414.1 596,414.7 597,414.8 598,414.3 599,415 600,414.5 601,414.4 602,414.6 603,414.5 604,415.3 605,414.9 606,415.4 607,415.3 608,415 609,415.6 610,416.1 611,415.3 612,416.1 613,415.2 614,415.7 615,415.3 616,416.1 617,415.6 618,416 619,415.8 620,415.5 621,415.6 621,428.8 620,429.1 619,428.7 618,429.1 617,428.9 616,429.1 615,428.9 614,429 613,429 612,429.2 611,429.6 610,429.8 609,429.8 608,429.3 607,429.1 606,429.6 605,428.9 604,429.2 603,428.8 602,428.3 601,428.3 600,428.3 599,428.2 598,428.7 597,428.5 596,428.6 595,428.4 594,428 593,428.2 592,428.6 591,428.6 590.1,428.2 589.1,427.9 588.1,428.3 587.1,427.9 586.1,427.8 585.1,427.5 584.1,428 583.1,427.6 582.1,428.1 581.1,427.8 580.1,427.9 579.1,427.3 578.1,427.4 577.1,427.7 576.1,427.8 575.1,427.6 574.1,427.3 573.1,426.9 572.1,426.5 571.1,426.7 570.1,426.7 569.1,426.3 568.1,426.6 567.1,426.6 566.1,426 565.1,426.4 564.1,426.1 563.1,426.1 562.1,425.8 561.1,425.8 560.1,426.4 559.1,426.2 558.1,425.6 557.1,425.6 556.1,425.6 555.1,425.5 554.1,426.1 553.1,425.4 552.1,425.9 551.1,425.5 550.1,426 549.1,425.5 548.1,425 547.1,425.8 546.1,425.7 545.1,425.4 544.1,425.2 543.1,424.9 542.1,425.2 541.1,425.4 540.1,425.4 539.1,425 538.1,425.2 537.1,425.4 536.1,424.8 535.1,425.3 534.1,425.2 533.1,424.6 532.1,424.8 531.1,425.4 530.1,424.8 529.2,424.5 528.2,424.7 527.2,424.9 526.2,424.5 525.2,425.2 524.2,424.7 523.2,425.3 522.2,424.7 521.2,425.3 520.2,425.1 519.2,425.4 518.2,425.3 517.2,424.6 516.2,424.8 515.2,424.9 514.2,425.3 513.2,425.4 512.2,425.3 511.2,424.7 510.2,425.2 509.2,424.9 508.2,425.6 507.2,425.4 506.2,425 505.2,425.6 504.2,425.3 503.2,425.3 502.2,426.1 501.2,426.2 500.2,426.2 499.2,425Z" fill="#ffa500"/><path d="M500,413.9 500.5,413.1 510,412.2 540,412.8 565,413.6 580,414.4 600,414.9 610,415.9 621,415.9 621,412.6 618,413 615,410.7 611.9,413.5 608.9,412.1 605.9,412.4 602.9,410.4 599.8,411.8 596.8,412.4 593.8,411.5 590.8,410.6 587.7,410.4 584.7,410 581.7,408.9 578.6,410.3 575.6,410 572.6,411.5 569.6,411.3 566.5,409.2 563.5,410.6 560.5,410.3 557.5,407.6 554.5,408.7 551.4,408.1 548.4,407.3 545.4,408.7 542.4,408.8 539.3,408.9 536.3,409.5 533.3,409.3 530.2,409.2 527.2,408.6 524.2,407.4 521.2,407.2 518.1,410 515.1,406.9 512.1,408.8 509.1,409.1 506.1,407.5 503,407.4 500,409.4Z" fill="url(#sp3)"/><path d="M500,413.9 500.5,413.1 510,412.2 540,412.8 565,413.6 580,414.4 600,414.9 610,415.9 621,415.9 621,412.6 618,414 615,414.1 611.9,413.3 608.9,412.5 605.9,412.1 602.9,412 599.8,413.1 596.8,412 593.8,411.5 590.8,412.6 587.7,411.8 584.7,412.6 581.7,411 578.6,412.6 575.6,411.9 572.6,412 569.6,411.5 566.5,411.9 563.5,410.7 560.5,410.7 557.5,410.7 554.5,410.6 551.4,409.7 548.4,410.8 545.4,409.8 542.4,411.1 539.3,410.6 536.3,410.4 533.3,411 530.2,409.9 527.2,410.3 524.2,409.2 521.2,409.9 518.1,409.8 515.1,410.6 512.1,409.3 509.1,409.5 506.1,409.4 503,410.3 500,410.7Z" fill="url(#sp2)"/><path d="M500,413.9 500.5,413.1 510,412.2 540,412.8 565,413.6 580,414.4 600,414.9 610,415.9 621,415.9 621,414.1 618,414.3 615,414.9 611.9,414.1 608.9,414.4 605.9,414.4 602.9,413.3 599.8,413.1 596.8,413.9 593.8,412.8 590.8,413.5 587.7,412.7 584.7,412.7 581.7,412.9 578.6,413 575.6,412.5 572.6,412.4 569.6,412.5 566.5,411.8 563.5,412 560.5,412 557.5,411.7 554.5,411.3 551.4,412.1 548.4,412.1 545.4,411.6 542.4,411.9 539.3,411 536.3,411.4 533.3,411.1 530.2,411.1 527.2,410.6 524.2,411.5 521.2,411.2 518.1,411 515.1,410.9 512.1,410.7 509.1,410.6 506.1,410.7 503,411.7 500,412.4Z" fill="url(#sp1)"/><path d="M562.1 409h0M587.8 408.4h0M527.4 407.4h0M524 407.9h0M543.9 408.6h0M521.7 406.3h0" stroke="#ffa500" stroke-opacity="0.3" stroke-width="2.5" stroke-linecap="round" fill="none"/><path d="M500,425.3 500.5,425.7 510,424.7 540,424.7 565,426 580,427.4 600,428.2 610,429.3 621,428.5 621,432.3 618,431.3 615,432 611.9,433.7 608.9,433.7 605.9,432.8 602.9,434.2 599.8,431.6 596.8,432.7 593.8,432.4 590.8,431.9 587.7,432.2 584.7,430.4 581.7,432.7 578.6,432.8 575.6,430.1 572.6,429.3 569.6,429.5 566.5,429.9 563.5,429.5 560.5,431.5 557.5,430.2 554.5,430.3 551.4,430 548.4,430.3 545.4,428.2 542.4,430.5 539.3,428.9 536.3,428.6 533.3,427.3 530.2,430.2 527.2,428.5 524.2,430.1 521.2,428.5 518.1,429.1 515.1,429.6 512.1,430.2 509.1,429 506.1,429.3 503,431.2 500,429.2Z" fill="url(#sp3)"/><path d="M500,425.3 500.5,425.7 510,424.7 540,424.7 565,426 580,427.4 600,428.2 610,429.3 621,428.5 621,431.7 618,430.9 615,432 611.9,431.9 608.9,430.9 605.9,431 602.9,430.7 599.8,429.8 596.8,431.3 593.8,431.4 590.8,430.9 587.7,429.3 584.7,430.2 581.7,429.4 578.6,430 575.6,429.8 572.6,429.8 569.6,429 566.5,429.5 563.5,428 560.5,427.3 557.5,428.5 554.5,427.3 551.4,428 548.4,426.7 545.4,427.6 542.4,426.7 539.3,426.7 536.3,426.7 533.3,426.3 530.2,426.3 527.2,426.3 524.2,428 521.2,427.2 518.1,427.9 515.1,427.8 512.1,428 509.1,426.5 506.1,428.1 503,428.6 500,428.3Z" fill="url(#sp2)"/><path d="M500,425.3 500.5,425.7 510,424.7 540,424.7 565,426 580,427.4 600,428.2 610,429.3 621,428.5 621,430.3 618,429.8 615,430.4 611.9,430.5 608.9,430.4 605.9,430 602.9,430.1 599.8,429.6 596.8,429.4 593.8,429.8 590.8,429.5 587.7,428.8 584.7,429 581.7,428.5 578.6,428.9 575.6,428.4 572.6,427.9 569.6,427.8 566.5,428.1 563.5,427.5 560.5,427 557.5,427.3 554.5,426.4 551.4,426.4 548.4,427.1 545.4,426.9 542.4,426.6 539.3,426 536.3,426.5 533.3,426.5 530.2,426.3 527.2,426.4 524.2,425.8 521.2,426.3 518.1,426.3 515.1,426.3 512.1,425.9 509.1,426.7 506.1,426.9 503,426.5 500,427.1Z" fill="url(#sp1)"/><path d="M570.1 430.4h0M536.3 428.5h0M509.4 430.8h0M592.3 432.2h0M515.9 429.1h0M516.1 430.6h0" stroke="#ffa500" stroke-opacity="0.3" stroke-width="2.5" stroke-linecap="round" fill="none"/><path d="M621,416.1 621.5,410.3 622,405.1 622.5,400.6 623,399.7 623.5,398.4 624,397.4 624.5,396.3 625,395.8 625.5,396.6 626,397.1 626.5,397.7 627,398.3 627.5,405.4 628,414.5 628.5,413.2 629,412 629.5,410.7 630,409.2 630.5,410 631,411.6 631.5,414 632,422.8 632.5,417.8 633,403.8 633.5,396.8 634,391.4 634.5,387.2 635,383.8 635.5,380.9 636,380.5 636.5,379.7 637,379.9 637.5,381.6 638,382.9 638.5,384.7 639,386.4 639.5,388.2 640,389.3 640.5,389.5 641,391 641.5,391.6 642,394.3 642.5,402.9 643,404.3 643.5,405 644,404.8 644.5,404.1 645,404.5 645.5,405.2 646,406.1 646.5,406.9 647,405.7 647.5,404.7 648,403.1 648.5,402.2 649,400.9 649.5,400.8 650,400.2 650.5,400.4 651,401.6 651.5,402.5 652,403.8 652.5,404.9 653,405.9 653.5,406.7 654,408.1 654.5,408.7 655,409.1 655.5,409.9 656,410 656.5,410.4 657,410.7 657.5,410.9 658,411.2 658.5,411.3 659,411.5 659.5,411.4 660,411.7 660.5,412.1 661,412 661.5,411.7 662,411.8 662.5,412.2 663,412.4 663.5,412.1 664,411.9 664.5,412.1 665,411.9 665.5,412.1 666,412.5 666.5,412.1 667,412.3 667.5,412.4 668,412.7 668.5,412.5 669,412.4 669.5,412.6 670,412.5 670,424.5 669.5,424.8 669,424.2 668.5,424.4 668,424.5 667.5,424.6 667,424.3 666.5,424.5 666,424.2 665.5,424.4 665,424.1 664.5,424.1 664,424.3 663.5,424.2 663,423.9 662.5,423.6 662,423.6 661.5,423.7 661,423.3 660.5,423.7 660,423.7 659.5,423.6 659,423.3 658.5,423.4 658,422.8 657.5,422.5 657,422.6 656.5,421.8 656,421.5 655.5,421.6 655,421.3 654.5,420.7 654,420.4 653.5,419.1 653,418.4 652.5,417.8 652,416.5 651.5,415.7 651,415.5 650.5,414.9 650,414.4 649.5,415.3 649,416.3 648.5,417.7 648,419.4 647.5,419.8 647,419.6 646.5,419.2 646,419.1 645.5,419.4 645,419 644.5,418.5 644,417.6 643.5,417.2 643,416.3 642.5,414.2 642,410.7 641.5,407.8 641,406.6 640.5,406.8 640,406 639.5,405.6 639,405.4 638.5,405.7 638,405.4 637.5,405.2 637,406 636.5,406.6 636,407 635.5,423.9 635,444.5 634.5,455.1 634,461.1 633.5,461.1 633,461.2 632.5,457.3 632,452.7 631.5,449.2 631,448.5 630.5,450.1 630,452.6 629.5,455 629,454.7 628.5,453.5 628,452.4 627.5,446.1 627,440.3 626.5,434.3 626,427.2 625.5,423.8 625,424.6 624.5,424.9 624,425.3 623.5,425.5 623,426.1 622.5,427.2 622,427.4 621.5,428.2 621,428.5Z" fill="#ffa500"/><rect x="641" y="419" width="4.6" height="2.6" fill="#ffa500"/><path d="M625.3,397 626.2,362.5 627.1,397Z" fill="#ffa500" fill-opacity="0.4"/><path d="M651,402.3 654.4,409.1 658.1,411.8 670,412.8 670,407.5 666.8,407 663.7,407.4 660.5,407 657.3,406.8 654.2,405.3 651,396.9Z" fill="url(#sp3)"/><path d="M651,402.3 654.4,409.1 658.1,411.8 670,412.8 670,409.6 666.8,411 663.7,410.6 660.5,409.5 657.3,408.9 654.2,407.1 651,399Z" fill="url(#sp2)"/><path d="M651,402.3 654.4,409.1 658.1,411.8 670,412.8 670,411.5 666.8,410.8 663.7,411 660.5,410.3 657.3,409.9 654.2,406.8 651,400.3Z" fill="url(#sp1)"/><path d="M651,416.8 654.4,420.5 658.1,422.8 670,424.2 670,428.5 666.8,428.6 663.7,429 660.5,428.5 657.3,428.1 654.2,426 651,421.9Z" fill="url(#sp3)"/><path d="M651,416.8 654.4,420.5 658.1,422.8 670,424.2 670,426.1 666.8,426.9 663.7,425.9 660.5,425.8 657.3,424.6 654.2,421.9 651,420.1Z" fill="url(#sp2)"/><path d="M651,416.8 654.4,420.5 658.1,422.8 670,424.2 670,425.8 666.8,425.2 663.7,424.7 660.5,424.2 657.3,424.3 654.2,421.3 651,417.8Z" fill="url(#sp1)"/><path d="M670,411.9 671,411.6 672,412.2 673,411.5 674,411.9 675,411.5 676,412.1 677,412.2 678,411.8 679,412.4 680,412.2 681,411.7 682,412 683,412.2 684,412.2 685,412.3 686,411.5 687,412.1 688,411.5 689,412.3 690,411.6 691,412.3 692,411.7 693,412.4 694,411.9 695,411.7 696,411.7 697,412 698,411.7 699,412.1 700,411.6 701,411.6 702,412.3 703,412 704,411.7 705,411.5 706,411.5 707,411.6 708,411.8 709,412 710,412.2 711,412.2 712,411.7 713,411.5 714,411.9 715,411.8 716,412 717,411.8 718,412 719,411.5 720,411.6 721,412.2 722,412.4 723,412.2 724,412.2 725,412.2 726,411.9 727,412.1 728,412 729,411.9 730,411.7 731,412.3 732,411.5 732.9,412.2 733.9,412.3 734.9,411.8 735.9,412.2 736.9,411.7 737.9,411.9 738.9,411.9 739.9,411.6 740.9,411.7 741.9,411.7 742.9,411.9 743.9,412.1 744.9,412.1 745.9,411.9 746.9,411.9 747.9,411.9 748.9,411.7 749.9,411.6 750.9,411.7 751.9,412.1 752.9,411.5 753.9,412.1 754.9,411.7 755.9,411.6 756.9,411.9 757.9,411.8 758.9,411.5 759.9,412.2 760.9,412.2 761.9,411.5 762.9,412.1 763.9,411.7 764.9,411.9 765.9,412.3 766.9,412 767.9,411.5 768.9,411.5 769.9,411.9 770.9,412.4 771.9,411.7 772.9,411.9 773.9,411.7 774.9,412.3 775.9,411.9 776.9,411.9 777.9,411.8 778.9,412.4 779.9,412 780.9,411.6 781.9,412.3 782.9,411.8 783.9,411.7 784.9,411.8 785.9,412.1 786.9,412.5 787.9,411.9 788.9,412 789.9,412.2 790.9,412.6 791.9,412.5 792.9,412 793.9,412 794.9,412.1 794.9,425.4 793.9,425.4 792.9,425.8 791.9,425 790.9,425.3 789.9,425.9 788.9,425.5 787.9,425.2 786.9,425.7 785.9,425.7 784.9,425 783.9,425.3 782.9,425.9 781.9,425.2 780.9,425 779.9,425.8 778.9,425.3 777.9,425.9 776.9,425.3 775.9,425 774.9,425.2 773.9,425.5 772.9,425.9 771.9,425.1 770.9,425.6 769.9,425.1 768.9,425.6 767.9,425.1 766.9,425.5 765.9,425.1 764.9,425.5 763.9,425.2 762.9,425.8 761.9,425.1 760.9,425.9 759.9,425.1 758.9,425.5 757.9,425.3 756.9,425.2 755.9,425.1 754.9,425.6 753.9,425.5 752.9,425.5 751.9,425.4 750.9,425.8 749.9,426 748.9,425.4 747.9,425.8 746.9,425.3 745.9,425.7 744.9,425.8 743.9,425.2 742.9,425.4 741.9,425.1 740.9,425.4 739.9,425.5 738.9,425.1 737.9,425.6 736.9,425.9 735.9,425.4 734.9,425.1 733.9,425.1 732.9,425.4 732,425.4 731,425.7 730,425.3 729,425.7 728,425.3 727,425.6 726,425.2 725,425.5 724,425.5 723,426 722,425.4 721,425.7 720,426 719,425.1 718,425.1 717,425.8 716,425.5 715,425.4 714,426 713,425.3 712,425.4 711,425.5 710,425.4 709,425.6 708,425.9 707,425.1 706,425.8 705,425 704,425.7 703,425.1 702,425.4 701,425.1 700,425.9 699,425.2 698,425.2 697,425.7 696,425.1 695,424.9 694,425.2 693,425.4 692,425 691,424.9 690,425.3 689,425.7 688,425.3 687,425.7 686,425.7 685,425.1 684,425.3 683,425.7 682,425.5 681,424.9 680,425.2 679,425.7 678,425.7 677,425.5 676,425.1 675,425.4 674,425.4 673,425 672,425.5 671,425.4 670,425.1Z" fill="#ffa500"/><path d="M670,412.2 700,412.2 750,412.2 794.5,412.4 794.5,408.8 791.5,409.3 788.6,409.9 785.6,409.2 782.6,406.9 779.7,409.3 776.7,407.6 773.8,409.4 770.8,408.4 767.8,406.8 764.9,409.6 761.9,408.9 758.9,408.3 756,409.4 753,406.9 750,407.1 747.1,409 744.1,407.8 741.1,408.6 738.2,408.2 735.2,407.9 732.2,409.1 729.3,406.5 726.3,407.9 723.4,407 720.4,408.1 717.4,407.5 714.5,407.1 711.5,409.3 708.5,408.9 705.6,407.5 702.6,408.1 699.6,408.5 696.7,407.7 693.7,406.6 690.8,409.4 687.8,409.6 684.8,406.6 681.9,409.3 678.9,409.7 675.9,407.8 673,408.1 670,409.4Z" fill="url(#sp3)"/><path d="M670,412.2 700,412.2 750,412.2 794.5,412.4 794.5,410.3 791.5,410 788.6,410.2 785.6,409 782.6,408.9 779.7,410.3 776.7,410.2 773.8,410.4 770.8,409.1 767.8,409.8 764.9,409.3 761.9,410.2 758.9,410.7 756,410.5 753,410.3 750,409.1 747.1,410.6 744.1,408.9 741.1,409.5 738.2,410.6 735.2,410.3 732.2,409.2 729.3,410.4 726.3,409.8 723.4,409 720.4,410.6 717.4,410.3 714.5,410.5 711.5,410.1 708.5,410.1 705.6,409.5 702.6,409 699.6,410.6 696.7,410.6 693.7,409.3 690.8,409.8 687.8,408.7 684.8,410.4 681.9,410.7 678.9,410 675.9,409.3 673,408.9 670,409.8Z" fill="url(#sp2)"/><path d="M670,412.2 700,412.2 750,412.2 794.5,412.4 794.5,411.1 791.5,411.3 788.6,411 785.6,410.7 782.6,411 779.7,410.7 776.7,410.8 773.8,411.2 770.8,411.3 767.8,411.1 764.9,410.6 761.9,411.2 758.9,410.7 756,411.1 753,410.6 750,410.3 747.1,411.2 744.1,410.9 741.1,411 738.2,411.1 735.2,410.2 732.2,411.1 729.3,410.9 726.3,411.2 723.4,410.4 720.4,410.3 717.4,410.4 714.5,410.8 711.5,411.1 708.5,410.6 705.6,411.1 702.6,410.2 699.6,410.4 696.7,410.5 693.7,410.5 690.8,410.7 687.8,410.4 684.8,410.3 681.9,411 678.9,410.8 675.9,411.2 673,411.2 670,410.4Z" fill="url(#sp1)"/><path d="M719.2 406.1h0M783.6 406.9h0M684.4 408.4h0M680.7 406.4h0M739.9 406.7h0M789.9 408.4h0" stroke="#ffa500" stroke-opacity="0.3" stroke-width="2.5" stroke-linecap="round" fill="none"/><path d="M670,424.8 700,425.2 750,425.2 794.5,425.1 794.5,428 791.5,428.8 788.6,430.1 785.6,428.7 782.6,429.7 779.7,428.5 776.7,430.1 773.8,430.6 770.8,429.7 767.8,430.2 764.9,430.3 761.9,428.1 758.9,427.7 756,429.5 753,428.7 750,427.9 747.1,430.9 744.1,428.5 741.1,429.4 738.2,429.9 735.2,429.5 732.2,429 729.3,430.3 726.3,428.6 723.4,430.1 720.4,428.8 717.4,429.7 714.5,428.4 711.5,429.7 708.5,429.7 705.6,428.6 702.6,429.3 699.6,428.9 696.7,428 693.7,428.4 690.8,430.2 687.8,428.3 684.8,430 681.9,430.1 678.9,429.8 675.9,430 673,427.4 670,428.8Z" fill="url(#sp3)"/><path d="M670,424.8 700,425.2 750,425.2 794.5,425.1 794.5,427.7 791.5,428 788.6,427 785.6,427.5 782.6,426.9 779.7,427.7 776.7,428.6 773.8,426.7 770.8,428.6 767.8,427.6 764.9,426.8 761.9,426.7 758.9,427 756,428.4 753,427.7 750,427 747.1,427.7 744.1,427.8 741.1,427.5 738.2,427.9 735.2,427 732.2,428.4 729.3,427.6 726.3,427.6 723.4,427.9 720.4,426.9 717.4,427.4 714.5,428.4 711.5,426.9 708.5,428.5 705.6,427.7 702.6,428.3 699.6,428.1 696.7,428.3 693.7,427.7 690.8,426.7 687.8,427.7 684.8,427.4 681.9,428 678.9,427.5 675.9,427.9 673,427.7 670,428Z" fill="url(#sp2)"/><path d="M670,424.8 700,425.2 750,425.2 794.5,425.1 794.5,426.5 791.5,426.8 788.6,426.7 785.6,427.1 782.6,427 779.7,427.1 776.7,426.2 773.8,426.6 770.8,427.1 767.8,427 764.9,426.8 761.9,426.2 758.9,426.8 756,426.3 753,426.5 750,427 747.1,426.6 744.1,427.2 741.1,427.1 738.2,426.6 735.2,427.1 732.2,427.1 729.3,426.6 726.3,426.2 723.4,426.2 720.4,426.8 717.4,427 714.5,426.6 711.5,426.4 708.5,426.2 705.6,426.2 702.6,426.7 699.6,426.5 696.7,426.3 693.7,426.2 690.8,427.1 687.8,426.8 684.8,426.4 681.9,426.4 678.9,426.7 675.9,426.8 673,426.1 670,426.1Z" fill="url(#sp1)"/><path d="M692.8 429.9h0M706.3 431.4h0M759.7 429.2h0M710.5 430.1h0M756.1 429.2h0M732.5 431.3h0" stroke="#ffa500" stroke-opacity="0.3" stroke-width="2.5" stroke-linecap="round" fill="none"/><rect x="794" y="419" width="4.7" height="2.4" fill="#ffa500"/></g>
<g clip-path="url(#c30)"><rect x="105.2" y="553" width="2.4" height="34.5" fill="#0000ff"/><path d="M105.2,551.5 106.2,551.6 107.2,550.4 108.2,550.4 109.2,550.7 110.2,550.5 111.2,551.1 112.2,550.4 113.2,551.4 114.2,551.3 115.2,550.3 116.2,551 117.2,550.5 118.2,550.7 119.2,550.9 120.2,550.9 121.2,551 122.2,551.5 123.2,550.7 124.2,550.6 125.2,551.2 126.2,551.5 127.2,551.5 128.2,551.5 129.2,550.5 130.2,551.5 131.2,551.2 132.2,551.4 133.2,550.9 134.2,550.7 135.1,551.4 136.1,551.2 137.1,551.3 138.1,550.6 139.1,550.6 140.1,551.3 141.1,550.4 142.1,551.5 143.1,550.6 144.1,551.1 145.1,550.9 146.1,550.8 147.1,550.6 148.1,551.3 149.1,551.5 150.1,551.3 151.1,551.1 152.1,551.3 153.1,551 154.1,551.1 155.1,551.5 156.1,550.7 157.1,550.7 158.1,551.5 159.1,551.5 160.1,551 161.1,551.4 162.1,551.3 163.1,551.5 164.1,550.5 165.1,551.5 166.1,551 167.1,550.9 168.1,551.2 169.1,550.8 170.1,549.2 171.1,549.8 172.1,551.5 173.1,551.4 174.1,550.6 175.1,550.9 176.1,551.4 177.1,551.5 178.1,551.7 179.1,550.8 180.1,551.6 181.1,551.4 182.1,550.7 183.1,550.8 184.1,550.5 185.1,549.2 186.1,550.6 187.1,551.1 188.1,551.6 189.1,550.9 190.1,551.9 191.1,551.8 192.1,551.9 193.1,551.8 194,551.6 195,551.4 196,552.3 197,551.4 198,551.9 199,551.5 200,551.5 201,552.2 202,552.4 203,551.8 204,552.1 205,552.2 206,551.7 207,552 208,551.3 209,551.1 210,551.1 211,550.8 212,550.8 213,551.6 214,551.7 215,550.7 216,551.3 217,551.2 218,550.9 219,550.5 220,550.3 221,550.4 222,549.7 223,550.2 224,549.4 225,549 226,549.2 227,547.2 228,546.4 229,545.2 230,544.2 231,543.3 232,543.2 233,541.9 234,540.5 235,539.1 236,539.2 237,537.9 238,537.4 239,534.3 240,531.1 241,530.5 242,532.5 243,533 244,534.1 245,535.5 246,536 247,536.6 248,537.8 249,538 250,539.3 251,538.6 251.9,539.3 252.9,540.4 253.9,540.3 254.9,541.1 255.9,541.2 256.9,541.6 257.9,542.6 258.9,542.3 259.9,543 260.9,543.2 261.9,542.8 262.9,543 263.9,543.3 264.9,543.2 265.9,544.2 266.9,544.2 267.9,544.1 268.9,544.3 269.9,544 270.9,544.6 271.9,545.3 272.9,544.5 273.9,545.4 274.9,545.6 275.9,545.1 276.9,545.3 277.9,545.2 278.9,545.7 279.9,545.6 280.9,545.3 281.9,545.6 282.9,545.6 283.9,546.6 284.9,546.2 285.9,546.1 286.9,546.1 287.9,546.3 288.9,546.9 289.9,546.2 290.9,545.9 291.9,546.1 292.9,546 293.9,546.3 294.9,546.8 295.9,546.4 296.9,547.2 297.9,547.4 298.9,546.5 299.9,547.4 300.9,547.2 301.9,547.5 302.9,546.5 303.9,547.2 304.9,546.6 305.9,546.5 306.9,546.5 307.9,547.3 308.9,546.7 309.9,546.6 310.8,547.1 311.8,547.1 312.8,547.1 313.8,546 314.8,547.1 315.8,546.7 316.8,546.6 317.8,545.9 318.8,546.8 319.8,547.8 320.8,548 321.8,547.8 322.8,548.6 323.8,547.8 324.8,548.3 325.8,548.2 326.8,548.3 327.8,549 328.8,549.1 329.8,549.2 330.8,548.9 331.8,549.2 332.8,548.4 333.8,548.7 334.8,549.3 335.8,549 336.8,549.1 337.8,549.5 338.8,548.9 339.8,549.7 340.8,549.6 341.8,548.9 342.8,549.3 343.8,550 344.8,549.2 345.8,549 346.8,549.2 347.8,549.7 348.8,549.3 349.8,549.3 350.8,549.3 351.8,550.1 352.8,550.2 353.8,549.2 354.8,549.7 355.8,549.8 356.8,549 357.8,549.7 358.8,549.3 359.8,548.9 360.8,548.3 361.8,548.4 362.8,548.3 363.8,547.5 364.8,547.3 365.8,548.2 366.8,547.6 367.8,547.6 368.8,548.2 369.7,548 370.7,548 371.7,548.1 372.7,548.2 373.7,548 374.7,548.4 375.7,548.2 376.7,548.2 377.7,548.3 378.7,547.3 379.7,548.5 380.7,548.2 381.7,547.4 382.7,548.2 383.7,548.2 384.7,548 385.7,547.8 386.7,548.1 387.7,547.7 388.7,548 389.7,548.3 390.7,548.4 391.7,548.2 392.7,548.6 393.7,548.7 394.7,548.7 395.7,548.3 396.7,548 397.7,547.7 398.7,548.3 398.7,554.8 397.7,554.2 396.7,555.3 395.7,555.2 394.7,554.7 393.7,554.1 392.7,554.1 391.7,554.9 390.7,554.3 389.7,554.8 388.7,554.9 387.7,554.3 386.7,554.7 385.7,554.3 384.7,555 383.7,553.8 382.7,553.7 381.7,554.9 380.7,554.8 379.7,554.5 378.7,554.3 377.7,554.4 376.7,554.6 375.7,553.8 374.7,554 373.7,553.7 372.7,554.1 371.7,554.3 370.7,554.1 369.7,553.4 368.8,553.6 367.8,554.2 366.8,554.1 365.8,554 364.8,553.3 363.8,554.3 362.8,554.1 361.8,554.8 360.8,554.7 359.8,554.8 358.8,554.2 357.8,554.8 356.8,554.5 355.8,555.4 354.8,554.9 353.8,555.7 352.8,554.8 351.8,554.9 350.8,555.5 349.8,556.1 348.8,555.4 347.8,555 346.8,555.9 345.8,555.3 344.8,555.7 343.8,556 342.8,555.2 341.8,555.4 340.8,555.9 339.8,555 338.8,554.8 337.8,555.4 336.8,555 335.8,554.7 334.8,554.8 333.8,555.1 332.8,555.1 331.8,554.8 330.8,555.7 329.8,555.1 328.8,554.9 327.8,555.7 326.8,554.7 325.8,555.5 324.8,555.2 323.8,555.1 322.8,554.6 321.8,554.8 320.8,554.3 319.8,553.7 318.8,553 317.8,552.6 316.8,552.5 315.8,553.7 314.8,553.6 313.8,553.9 312.8,553.8 311.8,553.2 310.8,553.3 309.9,553.3 308.9,554.3 307.9,554 306.9,554.4 305.9,554.1 304.9,554.6 303.9,554.6 302.9,554.1 301.9,553.8 300.9,554 299.9,554.1 298.9,554.6 297.9,554 296.9,554.7 295.9,553.7 294.9,553.9 293.9,553.6 292.9,554 291.9,554.1 290.9,553.7 289.9,553.3 288.9,554 287.9,553.7 286.9,553.7 285.9,553.8 284.9,553.8 283.9,553.3 282.9,553.6 281.9,552.6 280.9,552.5 279.9,553 278.9,553.3 277.9,553 276.9,553.1 275.9,552.6 274.9,552.2 273.9,552.5 272.9,552.8 271.9,552.5 270.9,551.6 269.9,552.4 268.9,551.6 267.9,551.1 266.9,551.4 265.9,551.4 264.9,550.6 263.9,550.4 262.9,550.7 261.9,550.4 260.9,550.3 259.9,550.7 258.9,549.7 257.9,548.8 256.9,549.5 255.9,548.2 254.9,547.7 253.9,547.5 252.9,547 251.9,546.6 251,545.9 250,546.3 249,545.3 248,545.4 247,544.5 246,544.4 245,543.3 244,543 243,541.7 242,541.4 241,540.5 240,541.9 239,542.4 238,544 237,545.7 236,546.6 235,547.5 234,549 233,549.3 232,550.3 231,551.4 230,553.1 229,553.2 228,554 227,554.7 226,555.1 225,556 224,556.9 223,556.8 222,556.4 221,556.9 220,557.2 219,557.1 218,556.7 217,557.5 216,557.1 215,557.6 214,557 213,558.2 212,558.2 211,557.7 210,558.1 209,557.3 208,558 207,557.8 206,558 205,557.5 204,557.7 203,557.7 202,557.8 201,558.4 200,557.9 199,558 198,557.7 197,558.3 196,557.7 195,557.7 194,557.5 193.1,557.9 192.1,558.5 191.1,557.8 190.1,558.3 189.1,558.1 188.1,558.6 187.1,558.4 186.1,558.2 185.1,558 184.1,557.6 183.1,557.7 182.1,558.2 181.1,557.8 180.1,558.5 179.1,557.6 178.1,557.8 177.1,558.5 176.1,557.9 175.1,557.5 174.1,558.4 173.1,558.3 172.1,558.5 171.1,557.7 170.1,558.1 169.1,557.7 168.1,558.5 167.1,557.6 166.1,557.8 165.1,558.6 164.1,557.9 163.1,557.6 162.1,558.2 161.1,557.6 160.1,558.4 159.1,558.7 158.1,558.1 157.1,557.9 156.1,557.7 155.1,558.5 154.1,558 153.1,558.3 152.1,558.5 151.1,557.9 150.1,558.7 149.1,558.2 148.1,558.5 147.1,558.6 146.1,557.7 145.1,558.1 144.1,558.7 143.1,558.6 142.1,557.9 141.1,558.7 140.1,558.3 139.1,558.3 138.1,558.3 137.1,558.1 136.1,557.9 135.1,558.2 134.2,558.1 133.2,558.4 132.2,558.8 131.2,558.8 130.2,557.9 129.2,558.9 128.2,558.2 127.2,558.9 126.2,558.2 125.2,559 124.2,558.3 123.2,558.6 122.2,558.4 121.2,557.9 120.2,559 119.2,559.1 118.2,558.4 117.2,558.9 116.2,558.7 115.2,558.2 114.2,558.7 113.2,559 112.2,558.8 111.2,558.8 110.2,559.5 109.2,559.4 108.2,559.7 107.2,558.8 106.2,558.5 105.2,559Z" fill="#0000ff"/><path d="M357.3,549 357.6,534 358.6,531.6 359.8,532.5 360.7,540 361,549Z" fill="#0000ff"/><path d="M219.5 549.5h0M220.8 548.3h0M222 547h0M223.2 546h0M224 547.5h0M221.5 549.8h0M223.5 548.6h0M225 548.8h0" stroke="#0000ff" stroke-opacity="0.25" stroke-width="2" stroke-linecap="round" fill="none"/><rect x="396.9" y="555" width="1.3" height="33.2" fill="#0000ff" fill-opacity="0.3"/></g>
<g clip-path="url(#c31)"><path d="M501.4,569.5 502.4,569.8 503.4,569.7 504.4,569.3 505.4,569.2 506.4,569.9 507.4,569.6 508.4,569.1 509.4,569.8 510.4,569.9 511.4,569.3 512.4,569.8 513.4,569.2 514.4,569.5 515.4,569.8 516.4,569.4 517.4,569.5 518.4,569.2 519.4,569.8 520.4,569.5 521.4,569.3 522.4,569.7 523.4,569.9 524.4,569.5 525.4,569.7 526.4,569.9 527.4,569.1 528.4,569.6 529.4,569.9 530.4,569.2 531.5,569.3 532.5,569.5 533.5,569.7 534.5,569.5 535.5,569.5 536.5,569.1 537.5,569.7 538.5,569.4 539.5,569.2 540.5,569.9 541.5,569.6 542.5,569.5 543.5,569.7 544.5,569.5 545.5,569.2 546.5,569.6 547.5,569.7 548.5,569.7 549.5,569.5 550.5,569.8 551.5,569.9 552.5,569.8 553.5,569.4 554.5,569.3 555.5,569.5 556.5,569.6 557.5,569.2 558.5,569.5 559.5,569.5 560.5,569.1 561.5,569.4 562.5,569.4 563.5,569.9 564.5,569.1 565.5,569.8 566.5,569.8 567.5,569.6 568.5,569.2 569.5,569.7 570.5,569.2 571.5,569.4 572.5,569.6 573.5,569.4 574.5,569.5 575.5,569.3 576.5,569.1 577.5,569.4 578.5,569.8 579.5,569.8 580.5,569.2 581.5,569.5 582.5,569.4 583.5,569.4 584.5,569.9 585.5,569.7 586.5,569.5 587.5,569.5 588.5,569.8 589.6,569.4 590.6,569.7 591.6,569.7 592.6,569.7 593.6,569.5 594.6,569.6 595.6,569.8 596.6,569.3 597.6,569.7 598.6,569.5 599.6,569.5 600.6,569.5 601.6,569.4 602.6,569.7 603.6,569.4 604.6,569.2 605.6,569.7 606.6,569.4 607.6,569.5 608.6,569.9 609.6,569.6 610.6,569.5 611.6,569.3 612.6,569.6 613.6,569.8 614.6,569.6 615.6,569.7 616.6,569.3 617.6,569.3 618.6,569.3 619.6,569.4 620.6,569.8 621.6,569.4 622.6,569.2 623.6,569.5 624.6,569.2 625.6,569.5 626.6,569.3 627.6,569.8 628.6,569.4 629.6,569.5 630.6,569.5 631.6,569.3 632.6,569.8 633.6,569 634.6,569.6 635.6,569.2 636.6,569 637.6,569.1 638.6,569.6 639.6,569.7 640.6,569.6 641.6,569.2 642.6,569.4 643.6,569.1 644.6,569.3 645.6,569.2 646.6,569 647.6,569.2 648.7,569.7 649.7,569.4 650.7,569.2 651.7,569 652.7,569.7 653.7,569 654.7,569 655.7,569 656.7,569.5 657.7,569.7 658.7,569 659.7,569.4 660.7,569.4 661.7,569.3 662.7,568.9 663.7,569.5 664.7,569.3 665.7,569.6 666.7,569.7 667.7,569.4 668.7,569 669.7,569.1 670.7,569.4 671.7,569.6 672.7,569.2 673.7,569.2 674.7,569.4 675.7,569.6 676.7,569 677.7,569.3 678.7,569.4 679.7,569.2 680.7,569.1 681.7,569.6 682.7,569.5 683.7,569 684.7,568.8 685.7,569 686.7,569.2 687.7,569 688.7,569.1 689.7,569.4 690.7,569.4 691.7,569.5 692.7,569.5 693.7,569.1 694.7,569.2 695.7,569.4 696.7,569.3 697.7,569.3 698.7,569.5 699.7,569.6 700.7,569.5 701.7,569 702.7,568.9 703.7,569 704.7,569.4 705.7,569 706.8,569.3 707.8,569.2 708.8,569.5 709.8,568.8 710.8,569.3 711.8,568.7 712.8,569.2 713.8,569.1 714.8,568.8 715.8,568.8 716.8,568.9 717.8,569 718.8,568.7 719.8,568.9 720.8,568.6 721.8,569 722.8,569 723.8,568.9 724.8,568.9 725.8,569 726.8,568.9 727.8,568.6 728.8,568.7 729.8,568.7 730.8,569.3 731.8,568.9 732.8,569 733.8,568.6 734.8,568.8 735.8,568.8 736.8,568.6 737.8,568.6 738.8,568.6 739.8,569 740.8,569 741.8,569 742.8,568.6 743.8,568.7 744.8,568.9 745.8,568.8 746.8,569 747.8,568.3 748.8,568.8 749.8,568.4 750.8,568.7 751.8,568.6 752.8,568.6 753.8,568.8 754.8,568.3 755.8,568.2 756.8,568.9 757.8,568.6 758.8,568.5 759.8,568.3 760.8,568.6 761.8,568.7 762.8,568.8 763.8,568.4 764.9,568.2 765.9,568.7 766.9,568.3 767.9,568.6 768.9,568.7 769.9,568.8 770.9,568.2 771.9,568.2 772.9,568.3 773.9,568.7 774.9,568.4 775.9,568.3 776.9,568.7 777.9,568.1 778.9,568 779.9,568 780.9,568.3 781.9,568.1 782.9,568.2 783.9,568.3 784.9,568.3 785.9,568.2 786.9,568 787.9,568.5 788.9,568.5 789.9,568.3 790.9,568.1 791.9,568.6 792.9,567.9 793.9,568.2 793.9,606.3 792.9,606.5 791.9,605.9 790.9,606.2 789.9,606.5 788.9,606.4 787.9,606 786.9,606.3 785.9,606.4 784.9,606.1 783.9,606.1 782.9,606 781.9,606.1 780.9,606 779.9,606.3 778.9,605.9 777.9,606 776.9,606.4 775.9,606.5 774.9,606.1 773.9,606.4 772.9,606.3 771.9,606.4 770.9,605.8 769.9,606.2 768.9,606.4 767.9,606.3 766.9,606.2 765.9,605.8 764.9,606.2 763.8,606.4 762.8,605.7 761.8,605.7 760.8,606.1 759.8,606.3 758.8,605.9 757.8,605.7 756.8,605.9 755.8,605.8 754.8,606.1 753.8,605.7 752.8,605.7 751.8,606.3 750.8,606.2 749.8,605.8 748.8,605.6 747.8,606.2 746.8,605.7 745.8,605.7 744.8,606.2 743.8,606 742.8,606.2 741.8,605.6 740.8,606.1 739.8,605.6 738.8,606.1 737.8,605.9 736.8,606 735.8,606 734.8,605.6 733.8,605.9 732.8,606.1 731.8,605.6 730.8,605.7 729.8,605.6 728.8,605.7 727.8,606.2 726.8,606.1 725.8,605.9 724.8,605.8 723.8,605.7 722.8,606.1 721.8,606 720.8,605.9 719.8,605.4 718.8,605.6 717.8,605.8 716.8,605.4 715.8,605.6 714.8,605.3 713.8,605.5 712.8,605.4 711.8,606 710.8,605.7 709.8,605.6 708.8,606 707.8,605.6 706.8,605.3 705.7,605.5 704.7,605.8 703.7,605.4 702.7,605.4 701.7,605.8 700.7,605.7 699.7,605.6 698.7,605.9 697.7,605.8 696.7,606 695.7,605.5 694.7,605.7 693.7,605.8 692.7,605.9 691.7,605.4 690.7,605.6 689.7,605.6 688.7,605.7 687.7,605.5 686.7,605.7 685.7,605.6 684.7,605.5 683.7,605.6 682.7,605.6 681.7,605.4 680.7,605.5 679.7,606.1 678.7,605.9 677.7,605.5 676.7,605.7 675.7,606.1 674.7,605.7 673.7,605.8 672.7,605.9 671.7,605.8 670.7,605.9 669.7,605.9 668.7,605.9 667.7,606.1 666.7,606 665.7,605.7 664.7,605.9 663.7,606 662.7,606 661.7,605.6 660.7,606.2 659.7,605.7 658.7,605.9 657.7,605.9 656.7,605.8 655.7,605.6 654.7,606.2 653.7,605.8 652.7,606.3 651.7,605.7 650.7,605.8 649.7,606 648.7,606 647.6,606.3 646.6,606.4 645.6,606.5 644.6,605.7 643.6,605.7 642.6,606.3 641.6,606 640.6,606 639.6,606.3 638.6,605.8 637.6,606.1 636.6,606.5 635.6,606.3 634.6,606.3 633.6,605.8 632.6,606.3 631.6,606.4 630.6,606.5 629.6,605.9 628.6,606.5 627.6,606.6 626.6,606.2 625.6,606.6 624.6,606.3 623.6,606.6 622.6,606 621.6,606.4 620.6,606.5 619.6,606.3 618.6,606 617.6,606.2 616.6,606.5 615.6,606 614.6,606.4 613.6,606.7 612.6,606.7 611.6,606.2 610.6,606.4 609.6,606.4 608.6,606.8 607.6,606.1 606.6,606.4 605.6,606.3 604.6,606.1 603.6,606.3 602.6,606.2 601.6,606.4 600.6,606.9 599.6,606.2 598.6,606.7 597.6,606.9 596.6,606.6 595.6,606.4 594.6,606.5 593.6,606.3 592.6,606.3 591.6,606.3 590.6,606.3 589.6,606.3 588.5,606.8 587.5,606.8 586.5,606.7 585.5,606.4 584.5,606.5 583.5,606.7 582.5,606.2 581.5,606.9 580.5,606.4 579.5,606.3 578.5,606.3 577.5,606.7 576.5,607 575.5,606.8 574.5,606.6 573.5,606.6 572.5,606.4 571.5,606.6 570.5,606.6 569.5,606.5 568.5,606.4 567.5,606.5 566.5,607 565.5,606.6 564.5,606.3 563.5,606.8 562.5,607 561.5,606.4 560.5,606.8 559.5,606.5 558.5,606.3 557.5,606.7 556.5,606.4 555.5,606.7 554.5,606.9 553.5,606.7 552.5,607.1 551.5,606.4 550.5,606.7 549.5,606.4 548.5,606.6 547.5,606.6 546.5,606.4 545.5,607 544.5,606.6 543.5,606.9 542.5,607 541.5,607.2 540.5,606.7 539.5,606.5 538.5,607.1 537.5,607.1 536.5,606.6 535.5,607.2 534.5,606.5 533.5,607.2 532.5,607.2 531.5,606.5 530.4,607.1 529.4,606.7 528.4,606.8 527.4,607.2 526.4,607.2 525.4,606.7 524.4,607 523.4,607.2 522.4,606.6 521.4,607 520.4,606.8 519.4,607.3 518.4,606.6 517.4,606.9 516.4,606.9 515.4,606.8 514.4,607 513.4,607.1 512.4,606.6 511.4,607.1 510.4,606.7 509.4,606.7 508.4,607.1 507.4,607.2 506.4,606.9 505.4,606.6 504.4,607 503.4,607.1 502.4,606.8 501.4,607Z" fill="#ffa500"/><path d="M501.5,569.8 600,569.8 700,569.5 793.5,568.5 793.5,558.9 790.5,557.8 787.5,561.8 784.5,560.8 781.5,560.3 778.4,556.7 775.4,560.3 772.4,563.1 769.4,560.1 766.4,559.5 763.4,557 760.4,556.7 757.4,557.4 754.4,560.2 751.4,559.4 748.3,560.9 745.3,561.7 742.3,563.1 739.3,559.8 736.3,558.9 733.3,559.9 730.3,559 727.3,558 724.3,555.7 721.3,562.6 718.2,563.8 715.2,556.1 712.2,563.5 709.2,562.7 706.2,558.4 703.2,557.3 700.2,562.4 697.2,556.6 694.2,562.9 691.1,556.6 688.1,555.8 685.1,559.3 682.1,560.2 679.1,561.4 676.1,556.2 673.1,562.4 670.1,557.5 667.1,557.6 664.1,563.6 661,562.3 658,563.8 655,560.6 652,557.2 649,555.9 646,558.5 643,558.5 640,558.8 637,561.9 634,558.7 630.9,557.4 627.9,562.9 624.9,562.8 621.9,562.7 618.9,558.2 615.9,557.4 612.9,563 609.9,558 606.9,561.5 603.9,556.6 600.8,558 597.8,556.2 594.8,558.1 591.8,556.6 588.8,564.1 585.8,563.1 582.8,557.1 579.8,563.1 576.8,564.1 573.7,558.8 570.7,560.9 567.7,559.8 564.7,556.9 561.7,560.5 558.7,561.9 555.7,556.3 552.7,558.9 549.7,562.5 546.7,560.1 543.6,561 540.6,558.2 537.6,559 534.6,563.9 531.6,558.1 528.6,559.6 525.6,560.5 522.6,558.4 519.6,558 516.6,559.8 513.5,559 510.5,557.2 507.5,558.5 504.5,561.4 501.5,557.4Z" fill="url(#sp3)"/><path d="M501.5,569.8 600,569.8 700,569.5 793.5,568.5 793.5,563.6 790.5,564.2 787.5,565 784.5,560.9 781.5,563.5 778.4,563.9 775.4,564.5 772.4,563.5 769.4,562 766.4,564.9 763.4,562.9 760.4,564 757.4,561.6 754.4,560.5 751.4,561.4 748.3,563 745.3,561.6 742.3,561 739.3,564.6 736.3,562.4 733.3,565.6 730.3,564.5 727.3,560.6 724.3,561.7 721.3,562.9 718.2,562 715.2,561.7 712.2,565.3 709.2,563.8 706.2,562 703.2,562.5 700.2,564.4 697.2,561.6 694.2,561.8 691.1,564.2 688.1,566 685.1,561.3 682.1,560.9 679.1,564.3 676.1,565.4 673.1,563.4 670.1,565 667.1,564 664.1,565.1 661,561.6 658,563 655,564.4 652,563.2 649,561.6 646,564.6 643,564.3 640,563.9 637,565.4 634,566 630.9,566.1 627.9,563 624.9,563.2 621.9,562.2 618.9,565 615.9,561.5 612.9,563.6 609.9,564.3 606.9,563.6 603.9,565.8 600.8,565.9 597.8,565.5 594.8,561.6 591.8,565 588.8,566.3 585.8,562.3 582.8,564.7 579.8,564.6 576.8,562.4 573.7,565.9 570.7,564 567.7,561.9 564.7,562.8 561.7,566.2 558.7,561.4 555.7,562.7 552.7,565.9 549.7,563.7 546.7,561.3 543.6,565.8 540.6,563.4 537.6,564.2 534.6,565.3 531.6,564.2 528.6,563.6 525.6,565.7 522.6,563 519.6,561.1 516.6,565.9 513.5,565 510.5,565.5 507.5,565.9 504.5,565 501.5,566.1Z" fill="url(#sp2)"/><path d="M501.5,569.8 600,569.8 700,569.5 793.5,568.5 793.5,563.8 790.5,564.3 787.5,563.7 784.5,566 781.5,564.1 778.4,564 775.4,563.1 772.4,565.8 769.4,566.1 766.4,563.4 763.4,563.1 760.4,565.8 757.4,565.7 754.4,564.1 751.4,563.6 748.3,565.6 745.3,563.9 742.3,563.5 739.3,566.1 736.3,564.3 733.3,564.6 730.3,565.9 727.3,565.4 724.3,564.4 721.3,565.1 718.2,565.3 715.2,566.1 712.2,565.4 709.2,565.1 706.2,565.1 703.2,565.2 700.2,564.2 697.2,567.1 694.2,566.7 691.1,565.4 688.1,567 685.1,565.5 682.1,564.5 679.1,565 676.1,564.5 673.1,565.3 670.1,564.2 667.1,565.8 664.1,566 661,565.9 658,566.5 655,564.6 652,565.7 649,564.2 646,566.6 643,564.7 640,565.1 637,564.7 634,567.1 630.9,566.9 627.9,564.5 624.9,564.8 621.9,566.5 618.9,565.4 615.9,564.8 612.9,564.5 609.9,566.5 606.9,567.2 603.9,565.7 600.8,564 597.8,566.8 594.8,565.3 591.8,565.8 588.8,565.1 585.8,565.6 582.8,567.3 579.8,565.4 576.8,564.3 573.7,567.1 570.7,565.9 567.7,565.5 564.7,564.7 561.7,566 558.7,566.2 555.7,564.2 552.7,567.4 549.7,564.6 546.7,565.1 543.6,564.6 540.6,565.2 537.6,567.4 534.6,567.1 531.6,565 528.6,564.4 525.6,566.6 522.6,564.7 519.6,565.1 516.6,565.3 513.5,566 510.5,564.7 507.5,564 504.5,567 501.5,564.6Z" fill="url(#sp1)"/><path d="M501.5,569.8 600,569.8 700,569.5 793.5,568.5 793.5,566.5 790.5,565.6 787.5,565.7 784.5,567.1 781.5,566.3 778.4,566.7 775.4,566.2 772.4,565.7 769.4,566.6 766.4,566.1 763.4,566.7 760.4,566.8 757.4,566.6 754.4,566.2 751.4,566.7 748.3,566.6 745.3,567.3 742.3,566.2 739.3,566.9 736.3,567.3 733.3,567.7 730.3,566 727.3,566.2 724.3,567.8 721.3,566.8 718.2,567 715.2,567 712.2,567 709.2,567.3 706.2,567.6 703.2,567.6 700.2,566.7 697.2,567.6 694.2,567 691.1,566.5 688.1,566.5 685.1,567.1 682.1,567.6 679.1,567.1 676.1,567.3 673.1,566.7 670.1,566.7 667.1,567.7 664.1,567.6 661,567.6 658,567.1 655,567.2 652,567.5 649,568 646,568 643,568.2 640,567.9 637,567.9 634,568.1 630.9,567.8 627.9,567.2 624.9,567.5 621.9,568.3 618.9,568.2 615.9,567.6 612.9,566.7 609.9,567.8 606.9,566.7 603.9,567.2 600.8,566.8 597.8,567.8 594.8,567.3 591.8,566.6 588.8,567.7 585.8,567 582.8,567.2 579.8,567 576.8,567.7 573.7,567.5 570.7,568.2 567.7,568.1 564.7,567.8 561.7,568 558.7,567.2 555.7,567.5 552.7,568.1 549.7,566.6 546.7,567.1 543.6,567.5 540.6,567.2 537.6,567.2 534.6,566.7 531.6,567.7 528.6,567.8 525.6,567.3 522.6,567.1 519.6,566.9 516.6,567.6 513.5,567.1 510.5,566.7 507.5,567.2 504.5,567.2 501.5,567Z" fill="url(#sp0)"/><path d="M594.7 556.4h0M605.3 555h0M626.8 556.1h0M724.2 553.8h0M680.8 554.8h0M756.2 558.7h0M656.3 558.6h0M727.6 556.3h0M723 557.8h0M562.1 557.8h0M540.7 558.3h0M573 553h0M627.3 558.7h0M509.2 556.3h0M542.2 557.8h0M685 559.3h0M616 555.8h0M650.9 560.5h0M662.9 554.4h0M642.8 558.2h0M538.9 555.3h0M773.6 559.4h0M772.3 557.4h0M569.9 553.9h0M629 559.6h0" stroke="#ffa500" stroke-opacity="0.3" stroke-width="2.5" stroke-linecap="round" fill="none"/><path d="M501.5,606.7 600,606.2 700,605.3 793.5,606 793.5,612.9 790.5,612 787.5,616 784.5,618.4 781.5,614.5 778.4,618.7 775.4,619.3 772.4,617.9 769.4,618.2 766.4,619 763.4,614.4 760.4,617.9 757.4,617.4 754.4,619.1 751.4,614.6 748.3,617.1 745.3,613.2 742.3,612 739.3,619.1 736.3,613.2 733.3,611.9 730.3,617 727.3,617.1 724.3,618.5 721.3,616.4 718.2,611.3 715.2,616.8 712.2,613.7 709.2,616.5 706.2,617.8 703.2,614.3 700.2,614.8 697.2,612.9 694.2,617.9 691.1,613.2 688.1,617.5 685.1,613.8 682.1,616.6 679.1,613.3 676.1,612.2 673.1,619.3 670.1,616.5 667.1,618.3 664.1,616.4 661,611.4 658,612.8 655,617.5 652,613.9 649,611.9 646,617.5 643,613.9 640,618.6 637,618.9 634,612.7 630.9,613.5 627.9,617.3 624.9,614.4 621.9,617.7 618.9,618.9 615.9,612.1 612.9,616.4 609.9,618.5 606.9,617.4 603.9,613.3 600.8,614.9 597.8,615.6 594.8,611.9 591.8,612 588.8,613.3 585.8,614.2 582.8,611.9 579.8,613.5 576.8,618.6 573.7,615.9 570.7,611.8 567.7,613.1 564.7,613.7 561.7,619 558.7,613.9 555.7,613 552.7,617.7 549.7,613.2 546.7,619.9 543.6,617.2 540.6,617.5 537.6,616 534.6,613 531.6,620 528.6,615.5 525.6,617.4 522.6,619.6 519.6,613.4 516.6,615.2 513.5,619.5 510.5,613.6 507.5,618.3 504.5,615.7 501.5,618.4Z" fill="url(#sp3)"/><path d="M501.5,606.7 600,606.2 700,605.3 793.5,606 793.5,613.8 790.5,613.3 787.5,614.1 784.5,611.8 781.5,614.1 778.4,613.1 775.4,611.1 772.4,612.4 769.4,613.4 766.4,613.8 763.4,611.2 760.4,612.6 757.4,610.2 754.4,609.2 751.4,610 748.3,614.1 745.3,609.8 742.3,610.7 739.3,613.9 736.3,612.9 733.3,610.7 730.3,609.5 727.3,613.1 724.3,609.5 721.3,612.8 718.2,611.2 715.2,613.9 712.2,610.2 709.2,609.6 706.2,610.5 703.2,610.2 700.2,612.6 697.2,613.9 694.2,610.3 691.1,613.4 688.1,612.9 685.1,609.4 682.1,611.6 679.1,609.1 676.1,610.3 673.1,613.5 670.1,612.7 667.1,610.1 664.1,611.4 661,614 658,610.8 655,612.1 652,610.3 649,612.3 646,611.3 643,613.3 640,613.6 637,612.1 634,613 630.9,614.3 627.9,610.4 624.9,612.3 621.9,614.4 618.9,610.1 615.9,611.2 612.9,610.1 609.9,609.6 606.9,611.9 603.9,613.3 600.8,614.6 597.8,612.7 594.8,612.2 591.8,610.7 588.8,613.6 585.8,611.4 582.8,614.8 579.8,609.9 576.8,612 573.7,610 570.7,610.1 567.7,613 564.7,615 561.7,613.4 558.7,611.4 555.7,612.9 552.7,614.5 549.7,611.1 546.7,613.8 543.6,611.9 540.6,613.9 537.6,611.9 534.6,610.3 531.6,612.8 528.6,614.8 525.6,612.7 522.6,614.8 519.6,612 516.6,613.9 513.5,614.8 510.5,612.2 507.5,610.2 504.5,613.6 501.5,614.2Z" fill="url(#sp2)"/><path d="M501.5,606.7 600,606.2 700,605.3 793.5,606 793.5,611.3 790.5,609.7 787.5,610.6 784.5,609.9 781.5,610.6 778.4,610.7 775.4,608.3 772.4,611.1 769.4,609.3 766.4,609.1 763.4,611.2 760.4,611.2 757.4,608.7 754.4,609.2 751.4,610.3 748.3,611 745.3,609 742.3,610.6 739.3,611.1 736.3,610.3 733.3,608.1 730.3,608.4 727.3,609.2 724.3,608.1 721.3,609.2 718.2,610.7 715.2,608 712.2,608.8 709.2,610.4 706.2,610.4 703.2,608.8 700.2,610.8 697.2,609.2 694.2,611 691.1,610.3 688.1,611.1 685.1,609.2 682.1,609.4 679.1,609.6 676.1,610.8 673.1,611.1 670.1,609.7 667.1,610.9 664.1,610.9 661,610.2 658,608.3 655,610.2 652,610.8 649,608.5 646,610.6 643,611.5 640,611.6 637,609.8 634,609.8 630.9,610.9 627.9,610.5 624.9,609.6 621.9,609.3 618.9,610.3 615.9,611.4 612.9,608.6 609.9,609.8 606.9,611.6 603.9,610 600.8,611.5 597.8,609.8 594.8,609 591.8,609.6 588.8,609.1 585.8,610.8 582.8,609.3 579.8,611.2 576.8,610.5 573.7,611.9 570.7,611.6 567.7,611.7 564.7,611.8 561.7,610 558.7,611.8 555.7,611.7 552.7,611.1 549.7,611 546.7,611.8 543.6,611.6 540.6,611.5 537.6,610.5 534.6,611.3 531.6,612.1 528.6,610.7 525.6,611.3 522.6,610.8 519.6,611.7 516.6,611.2 513.5,612.1 510.5,610 507.5,610.7 504.5,610.9 501.5,609.9Z" fill="url(#sp1)"/><path d="M501.5,606.7 600,606.2 700,605.3 793.5,606 793.5,608.1 790.5,609.1 787.5,608.9 784.5,608.1 781.5,608.7 778.4,608.6 775.4,607.5 772.4,608 769.4,607.8 766.4,609 763.4,607.3 760.4,608.3 757.4,607.3 754.4,607.3 751.4,608.3 748.3,607.4 745.3,607.6 742.3,608 739.3,607.2 736.3,607.5 733.3,607.9 730.3,608.2 727.3,608.7 724.3,608.2 721.3,607.5 718.2,607.5 715.2,608.1 712.2,607.4 709.2,606.9 706.2,608.3 703.2,607.2 700.2,607.9 697.2,608.4 694.2,607.3 691.1,607 688.1,608.4 685.1,607.7 682.1,608.3 679.1,606.9 676.1,607.4 673.1,608.3 670.1,607.3 667.1,607.5 664.1,608.4 661,608.3 658,608.2 655,607.3 652,608.7 649,607.9 646,607.5 643,607.5 640,607.9 637,607.8 634,607.9 630.9,607.9 627.9,608.5 624.9,607.6 621.9,607.6 618.9,609.2 615.9,609 612.9,608.2 609.9,608.6 606.9,608 603.9,609.1 600.8,607.7 597.8,607.6 594.8,609.1 591.8,608.7 588.8,608.8 585.8,607.8 582.8,607.8 579.8,608.1 576.8,608 573.7,608.8 570.7,608.8 567.7,607.8 564.7,608.4 561.7,608.3 558.7,609.6 555.7,608.5 552.7,609.5 549.7,609.6 546.7,608.5 543.6,608.4 540.6,608.5 537.6,609.3 534.6,609.5 531.6,609.6 528.6,608.9 525.6,608.9 522.6,608 519.6,609.7 516.6,608.6 513.5,608.3 510.5,608.6 507.5,609.3 504.5,609.8 501.5,608.3Z" fill="url(#sp0)"/><path d="M688.9 621.8h0M503.4 619.7h0M780.4 621.5h0M752.8 618.2h0M579.7 618.5h0M619.2 616.9h0M549 619.4h0M723.9 616.2h0M632.6 622.1h0M592.2 622.1h0M736.3 616.4h0M583.3 614.9h0M603 620h0M665.7 620.5h0M783.7 616.1h0M530.4 621.6h0M609.7 617.6h0M738.4 621.7h0M525.5 622.7h0M551.1 615.5h0M780.9 614.5h0M505.7 620.5h0M549 623h0M708.8 614.8h0M672.8 615.9h0" stroke="#ffa500" stroke-opacity="0.3" stroke-width="2.5" stroke-linecap="round" fill="none"/><rect x="499" y="585.2" width="2.6" height="2.4" fill="#ffa500"/><rect x="793.5" y="585.1" width="5.3" height="2.4" fill="#ffa500"/><path d="M635.5,570 636.3,556 637,552.5 637.8,556 638.6,570Z" fill="#ffa500"/><path d="M637 524h0M637.2 528.5h0M636.8 533h0M637.1 537.5h0M637 541.5h0M637.3 545.5h0M636.9 549h0M637 611h0M637.2 615h0M636.8 618.5h0M637 621.5h0M583 538h0M583.2 545h0M582.8 552h0M583 558h0M583.1 562h0" stroke="#ffa500" stroke-opacity="0.3" stroke-width="2.4" stroke-linecap="round" fill="none"/><path d="M754.2,606 754.8,614 755.3,617 755.9,614 756.5,606Z" fill="#ffa500"/><path d="M755.3 619.5h0M755.1 622h0" stroke="#ffa500" stroke-opacity="0.35" stroke-width="2.4" stroke-linecap="round" fill="none"/></g>
<g clip-path="url(#c40)"><rect x="105.6" y="700" width="3.5" height="38" fill="#0000ff"/><path d="M105.5,699 106.5,699.1 107.5,698.2 108.5,697.6 109.5,698.2 110.5,697.7 111.5,698.4 112.5,697.9 113.5,698 114.5,698.6 115.5,698.3 116.5,698.3 117.5,698 118.5,698.4 119.5,697.3 120.5,698.3 121.5,697.6 122.5,697.4 123.5,697.8 124.5,698.2 125.5,697.4 126.5,698.1 127.5,697.6 128.5,698.1 129.5,697.8 130.5,697.8 131.5,697.3 132.5,697.5 133.5,697.1 134.5,697.7 135.5,697.1 136.5,697.5 137.5,696.8 138.5,696.9 139.5,697 140.5,696.8 141.5,696.9 142.5,696.8 143.5,696.6 144.5,696.9 145.5,697 146.5,696.9 147.5,697.5 148.5,696.5 149.5,697.1 150.5,696.7 151.5,696.3 152.5,697.2 153.5,696.8 154.5,697.4 155.5,697.1 156.5,697.2 157.5,696.8 158.5,696.5 159.5,697.1 160.5,696.6 161.5,697.1 162.5,697.1 163.5,696.4 164.5,696.8 165.5,696.9 166.5,697.1 167.5,696.4 168.5,696.1 169.5,696.2 170.5,696.3 171.5,695.9 172.5,696.6 173.5,695.8 174.5,696.3 175.5,696.9 176.5,696.2 177.5,695.9 178.5,696.1 179.6,695.9 180.6,695.9 181.6,695.9 182.6,695.9 183.6,696.1 184.6,695.9 185.6,696.3 186.6,696.5 187.6,695.5 188.6,696 189.6,696.2 190.6,696 191.6,696.2 192.6,695.7 193.6,696.5 194.6,696.6 195.6,696.4 196.6,696.1 197.6,696.3 198.6,696.1 199.6,696.3 200.6,695.9 201.6,695.6 202.6,695.9 203.6,695.8 204.6,695.4 205.6,695.9 206.6,696 207.6,695.4 208.6,695.2 209.6,695.7 210.6,695.5 211.6,695.8 212.6,695.8 213.6,694.9 214.6,695.1 215.6,695.8 216.6,695.6 217.6,695.7 218.6,695.6 219.6,695.4 220.6,695 221.6,694.9 222.6,695.3 223.6,695.3 224.6,695.6 225.6,695.2 226.6,695.1 227.6,694.4 228.6,695.1 229.6,695.2 230.6,694.7 231.6,693.7 232.6,692.4 233.6,694.3 234.6,693.9 235.6,694.3 236.6,693.8 237.6,693.7 238.6,692.9 239.6,693.7 240.6,693.3 241.6,693.9 242.6,693.9 243.6,693.9 244.6,693.7 245.6,693.1 246.6,693.2 247.6,693.4 248.6,693.2 249.6,694.2 250.6,693.6 251.6,693.9 252.6,693.3 253.6,693.8 254.6,693.3 255.6,693.5 256.6,694.2 257.6,693.8 258.6,694.3 259.6,694 260.6,694 261.6,694 262.6,693.9 263.6,694.1 264.6,693.9 265.6,694.6 266.6,693.9 267.6,694.5 268.6,694.1 269.6,694.3 270.6,693.9 271.6,694.9 272.6,694.2 273.6,695 274.6,694 275.6,694.3 276.6,694.7 277.6,694.6 278.6,695 279.6,694.1 280.6,694.5 281.6,694.7 282.6,694.7 283.6,694.8 284.6,694.6 285.6,695.4 286.6,694.4 287.6,694.6 288.6,694.8 289.6,695.4 290.6,694.6 291.6,694.6 292.6,695 293.6,695 294.6,695 295.6,695.1 296.6,695.4 297.6,695.5 298.6,695.6 299.6,695 300.6,695.4 301.6,695.4 302.6,694.9 303.6,695.3 304.6,695.2 305.6,695.8 306.6,695.4 307.6,695.7 308.6,695.3 309.6,695.7 310.6,695.8 311.6,694.9 312.6,695.5 313.6,695.5 314.6,695.4 315.6,695.8 316.6,695.3 317.6,695.9 318.6,695.8 319.6,695.7 320.6,695.1 321.6,695.3 322.6,695.3 323.6,696.1 324.6,696 325.7,695 326.7,696.1 327.7,695.7 328.7,696.1 329.7,695.4 330.7,695.2 331.7,695.6 332.7,696.1 333.7,695.6 334.7,695.7 335.7,695.1 336.7,695.5 337.7,695.8 338.7,695.6 339.7,695.7 340.7,696 341.7,696.1 342.7,695.2 343.7,695.5 344.7,695.3 345.7,696 346.7,695.8 347.7,695.7 348.7,696.2 349.7,696.3 350.7,695.7 351.7,696 352.7,696.1 353.7,696 354.7,695.6 355.7,696.4 356.7,694.9 357.7,694.3 358.7,694.1 359.7,694.1 360.7,695.5 361.7,695.7 362.7,695.8 363.7,696.3 364.7,695.7 365.7,695.9 366.7,696.4 367.7,695.5 368.7,696 369.7,696.4 370.7,696 371.7,696.5 372.7,696.6 373.7,696.7 374.7,696.7 375.7,696.7 376.7,696.3 377.7,696.6 378.7,696.3 379.7,696.5 380.7,697.4 381.7,696.3 382.7,697.1 383.7,697 384.7,697.6 385.7,697 386.7,697 387.7,697.2 388.7,697.6 389.7,698 390.7,697.1 391.7,697.3 392.7,697.9 393.7,698.2 394.7,698.1 395.7,698 396.7,697.6 397.7,697.6 398.7,698.3 398.7,708 397.7,708.2 396.7,707.6 395.7,707.5 394.7,707.3 393.7,707.3 392.7,707.4 391.7,706.9 390.7,707.7 389.7,707.2 388.7,706.7 387.7,707.5 386.7,706.3 385.7,707.4 384.7,707 383.7,706.2 382.7,706.6 381.7,707.2 380.7,706.8 379.7,706.2 378.7,706.7 377.7,706.1 376.7,706.5 375.7,706 374.7,706.4 373.7,705.9 372.7,705.5 371.7,705.4 370.7,705.9 369.7,705.1 368.7,706 367.7,705.1 366.7,705.2 365.7,705 364.7,705 363.7,705.6 362.7,705.6 361.7,705.4 360.7,704.9 359.7,704.9 358.7,704.4 357.7,705 356.7,704.7 355.7,705.3 354.7,704.7 353.7,704.7 352.7,704.6 351.7,705.2 350.7,705 349.7,704.6 348.7,705 347.7,705 346.7,704.6 345.7,705.1 344.7,705.1 343.7,704.9 342.7,705.3 341.7,705.2 340.7,705.2 339.7,704.6 338.7,705.5 337.7,704.9 336.7,705.2 335.7,704.9 334.7,704.7 333.7,704.6 332.7,705.6 331.7,704.6 330.7,705.7 329.7,705 328.7,705.1 327.7,704.6 326.7,705.7 325.7,705.5 324.6,705.3 323.6,704.8 322.6,704.9 321.6,704.9 320.6,704.6 319.6,704.7 318.6,704.4 317.6,705.4 316.6,705.5 315.6,705.4 314.6,705.3 313.6,704.5 312.6,704.9 311.6,704.3 310.6,705.3 309.6,705.1 308.6,704.9 307.6,704.7 306.6,704.6 305.6,704.2 304.6,704.8 303.6,705.2 302.6,705.2 301.6,704.3 300.6,705 299.6,704.7 298.6,704.6 297.6,704.8 296.6,704.8 295.6,704.8 294.6,704.8 293.6,704.7 292.6,704.8 291.6,704.9 290.6,704.4 289.6,704.5 288.6,704 287.6,704.4 286.6,704.6 285.6,703.7 284.6,704.4 283.6,703.9 282.6,704.1 281.6,704.7 280.6,704.1 279.6,704.2 278.6,703.5 277.6,704.4 276.6,704.2 275.6,703.6 274.6,704.2 273.6,703.5 272.6,703.6 271.6,703.4 270.6,703.4 269.6,704 268.6,704.3 267.6,703.8 266.6,703.6 265.6,703.9 264.6,703.2 263.6,703.9 262.6,704.1 261.6,704.2 260.6,703.2 259.6,703.9 258.6,703.7 257.6,703 256.6,703.4 255.6,703.4 254.6,703 253.6,703.8 252.6,702.8 251.6,703.6 250.6,703.8 249.6,703.9 248.6,702.9 247.6,703.4 246.6,702.9 245.6,703.6 244.6,703.5 243.6,703.3 242.6,703.1 241.6,703.4 240.6,703.6 239.6,703 238.6,703.4 237.6,703.6 236.6,703.4 235.6,703.6 234.6,702.9 233.6,703.3 232.6,703.2 231.6,703.4 230.6,703.6 229.6,703.3 228.6,703.3 227.6,703.9 226.6,703.6 225.6,703.8 224.6,704.2 223.6,704.6 222.6,704 221.6,704.5 220.6,703.9 219.6,703.8 218.6,704.5 217.6,704.8 216.6,704.7 215.6,704.8 214.6,704.7 213.6,704.3 212.6,704.2 211.6,704.8 210.6,705 209.6,704.7 208.6,705 207.6,705.6 206.6,705 205.6,704.9 204.6,705.9 203.6,705.1 202.6,705 201.6,705 200.6,705.5 199.6,705.9 198.6,705.5 197.6,705.7 196.6,705.7 195.6,706.2 194.6,705.6 193.6,705.7 192.6,706.2 191.6,706.3 190.6,706.1 189.6,706 188.6,706.1 187.6,706 186.6,705.9 185.6,706 184.6,706 183.6,705.9 182.6,706.3 181.6,706 180.6,705.6 179.6,706 178.5,706.2 177.5,705.4 176.5,705.4 175.5,705.7 174.5,705.5 173.5,705.7 172.5,705.6 171.5,706.4 170.5,705.6 169.5,706.5 168.5,705.7 167.5,705.9 166.5,706 165.5,706.4 164.5,706.2 163.5,706.5 162.5,705.8 161.5,705.8 160.5,706.5 159.5,706.9 158.5,706.1 157.5,706.4 156.5,706.6 155.5,706.7 154.5,706.5 153.5,707 152.5,707.1 151.5,706.1 150.5,706.9 149.5,706.9 148.5,706.3 147.5,706.5 146.5,706.7 145.5,706.4 144.5,707.4 143.5,707 142.5,706.6 141.5,707 140.5,707.6 139.5,707.3 138.5,706.6 137.5,706.7 136.5,707 135.5,707.4 134.5,706.8 133.5,707 132.5,706.8 131.5,707.1 130.5,706.8 129.5,706.9 128.5,707.9 127.5,707 126.5,707.1 125.5,707.5 124.5,706.9 123.5,707.5 122.5,707.9 121.5,707.1 120.5,707.6 119.5,707.7 118.5,707.4 117.5,707.8 116.5,708.1 115.5,708.1 114.5,707.6 113.5,708.3 112.5,707.9 111.5,707.8 110.5,708 109.5,708.4 108.5,707.6 107.5,708.5 106.5,707.6 105.5,708Z" fill="#0000ff"/><rect x="396.9" y="707" width="1.3" height="26.8" fill="#0000ff" fill-opacity="0.3"/><rect x="102.7" y="785.3" width="5.5" height="2.2" fill="#0000ff"/><rect x="112.8" y="785.3" width="4.4" height="2.2" fill="#0000ff"/><rect x="154" y="785.3" width="3.9" height="2.2" fill="#0000ff"/><rect x="205.8" y="785.3" width="3.3" height="2.2" fill="#0000ff"/><rect x="256.5" y="785.3" width="4.3" height="2.2" fill="#0000ff"/><rect x="308.8" y="785.3" width="4.2" height="2.2" fill="#0000ff"/><rect x="361" y="785.3" width="3.9" height="2.2" fill="#0000ff"/><rect x="388.5" y="785.3" width="4.2" height="2.2" fill="#0000ff"/><rect x="395.8" y="785.3" width="7.2" height="2.2" fill="#0000ff"/></g>
<g clip-path="url(#c41)"><path d="M502.4,713 503.4,712.9 504.4,712.6 505.4,712.8 506.4,713.1 507.4,712.5 508.4,713.3 509.4,713.3 510.4,712.5 511.4,713.2 512.4,712.6 513.4,713.1 514.4,712.6 515.4,713.1 516.4,713.3 517.4,713.4 518.4,713 519.4,712.5 520.4,712.8 521.4,712.6 522.4,713.3 523.4,712.6 524.4,712.9 525.4,712.7 526.4,712.4 527.4,712.7 528.4,713.1 529.4,712.7 530.4,713 531.4,712.9 532.4,712.3 533.4,713 534.4,712.9 535.4,713 536.4,712.4 537.4,713.2 538.4,713.1 539.3,713.1 540.3,713.1 541.3,712.7 542.3,712.4 543.3,712 544.3,712.6 545.3,712.4 546.3,712.4 547.3,711.7 548.3,712.5 549.3,711.9 550.3,711.5 551.3,712.4 552.3,712 553.3,711.7 554.3,711.9 555.3,711.9 556.3,711.7 557.3,711.3 558.3,711.2 559.3,711.5 560.3,710.9 561.3,710.8 562.3,710.8 563.3,711 564.3,711 565.3,710.8 566.3,711 567.3,711.2 568.3,710.2 569.3,710.2 570.3,710.7 571.3,710.3 572.3,710.5 573.3,709.8 574.3,709.8 575.3,710.5 576.3,710 577.3,709.6 578.3,710.4 579.3,709.6 580.3,709.4 581.3,709.8 582.3,709.7 583.3,709.2 584.3,709.7 585.3,709.3 586.3,709.9 587.3,709.2 588.3,709.5 589.3,709.3 590.3,709.2 591.3,708.6 592.3,709.3 593.3,708.7 594.3,708.9 595.3,709.1 596.3,708.9 597.3,708.4 598.3,709 599.3,708.8 600.3,708.4 601.3,708.6 602.3,708.1 603.3,708.1 604.3,708.1 605.3,707.9 606.3,707.9 607.3,708.2 608.3,708 609.3,707.8 610.3,708.1 611.3,707.8 612.2,707.9 613.2,708.1 614.2,708 615.2,708.3 616.2,707.7 617.2,707.9 618.2,708.1 619.2,707.6 620.2,707.6 621.2,707.7 622.2,708.1 623.2,707.2 624.2,707.8 625.2,707.6 626.2,707.8 627.2,708 628.2,707.1 629.2,707.9 630.2,708 631.2,707.3 632.2,707.7 633.2,707.9 634.2,707.4 635.2,707.2 636.2,707.8 637.2,707.2 638.2,707.1 639.2,707.5 640.2,707.2 641.2,706.8 642.2,706.7 643.2,707.2 644.2,707.1 645.2,707.3 646.2,706.9 647.2,707.2 648.2,707.5 649.2,706.6 650.2,706.8 651.2,707.4 652.2,707.2 653.2,706.7 654.2,707.2 655.2,707.3 656.2,707.1 657.2,707 658.2,706.6 659.2,706.8 660.2,707.4 661.2,707.1 662.2,707.1 663.2,707.6 664.2,706.8 665.2,706.7 666.2,707.1 667.2,706.8 668.2,706.9 669.2,707.5 670.2,706.9 671.2,707.7 672.2,707.2 673.2,707 674.2,707.1 675.2,707 676.2,707.3 677.2,707.1 678.2,707.7 679.2,707.7 680.2,707.4 681.2,707.2 682.2,707.6 683.2,707 684.2,707.8 685.1,707.2 686.1,707 687.1,707.2 688.1,707.1 689.1,707.1 690.1,707.2 691.1,707.7 692.1,707.4 693.1,707.5 694.1,707.1 695.1,707.6 696.1,707.2 697.1,707.5 698.1,707.2 699.1,707.7 700.1,707.2 701.1,707.2 702.1,707.5 703.1,707.7 704.1,707.4 705.1,707.4 706.1,707.3 707.1,707.8 708.1,707.5 709.1,707.5 710.1,707.4 711.1,707.4 712.1,708.1 713.1,707.4 714.1,707.4 715.1,707.8 716.1,707.8 717.1,707.4 718.1,707.9 719.1,707.4 720.1,707.6 721.1,707.5 722.1,707.7 723.1,708.3 724.1,707.5 725.1,708 726.1,708.1 727.1,707.8 728.1,707.8 729.1,707.7 730.1,708.1 731.1,708.4 732.1,707.9 733.1,708.1 734.1,708.5 735.1,708.1 736.1,708.5 737.1,708.6 738.1,708.1 739.1,707.9 740.1,708.2 741.1,707.8 742.1,707.8 743.1,708.7 744.1,708.1 745.1,708.4 746.1,708.1 747.1,707.9 748.1,708.8 749.1,708.7 750.1,708.4 751.1,708.8 752.1,708.4 753.1,708.3 754.1,708.4 755.1,708.8 756.1,708.3 757.1,708.3 758,708.3 759,708.5 760,708.9 761,708.4 762,708.6 763,708.8 764,709 765,708.8 766,708.6 767,708.7 768,708.6 769,709.1 770,708.9 771,709.3 772,709 773,709.1 774,708.7 775,709.1 776,709.5 777,708.9 778,708.6 779,709.4 780,709 781,709.3 782,709.5 783,709.5 784,709.6 785,709.3 786,709.2 787,709.7 788,709.6 789,709.4 790,709.7 791,709.5 792,709.4 793,709.8 794,709.5 794,759.5 793,759.9 792,759.4 791,759.1 790,759.5 789,759.4 788,759.4 787,759.2 786,759.5 785,759.6 784,759.2 783,759.1 782,759.4 781,759 780,758.9 779,759 778,759 777,758.9 776,758.8 775,759.6 774,758.7 773,758.7 772,758.9 771,759.5 770,758.9 769,759.4 768,759.3 767,758.7 766,758.4 765,758.8 764,758.5 763,759.3 762,759.1 761,758.9 760,758.3 759,758.9 758,758.9 757.1,758.5 756.1,759 755.1,758.3 754.1,758.2 753.1,758.6 752.1,758.2 751.1,758.3 750.1,758.9 749.1,759 748.1,758.7 747.1,758.7 746.1,758.2 745.1,758.8 744.1,758.1 743.1,758.6 742.1,758.7 741.1,757.9 740.1,758.6 739.1,758.6 738.1,758.6 737.1,758.2 736.1,758.3 735.1,758 734.1,757.7 733.1,758.2 732.1,758.1 731.1,758 730.1,758.4 729.1,758.3 728.1,757.8 727.1,758.4 726.1,758.1 725.1,757.9 724.1,758.1 723.1,757.8 722.1,758.1 721.1,757.6 720.1,757.8 719.1,757.6 718.1,758 717.1,757.6 716.1,757.4 715.1,757.6 714.1,757.9 713.1,758.3 712.1,757.8 711.1,757.6 710.1,757.6 709.1,758.2 708.1,758.3 707.1,757.9 706.1,757.5 705.1,758 704.1,757.5 703.1,758.4 702.1,758.1 701.1,758.1 700.1,757.8 699.1,758.1 698.1,758.3 697.1,757.8 696.1,758.4 695.1,757.6 694.1,757.6 693.1,757.9 692.1,758.4 691.1,758.5 690.1,757.9 689.1,757.9 688.1,758.1 687.1,758.1 686.1,758.2 685.1,758.2 684.2,758.3 683.2,758.1 682.2,758.2 681.2,758.3 680.2,758.4 679.2,757.7 678.2,758.3 677.2,758.3 676.2,757.8 675.2,758.5 674.2,758.7 673.2,758.6 672.2,758.6 671.2,758.8 670.2,758.8 669.2,758.8 668.2,758.3 667.2,758.6 666.2,757.9 665.2,758.4 664.2,758.2 663.2,758.4 662.2,758 661.2,758.6 660.2,758 659.2,758.9 658.2,758.3 657.2,757.9 656.2,758.1 655.2,758.6 654.2,758.2 653.2,758.1 652.2,758.7 651.2,758.9 650.2,758.7 649.2,758 648.2,758.3 647.2,758.2 646.2,758.6 645.2,758.1 644.2,758.8 643.2,758.5 642.2,758.2 641.2,758.6 640.2,758.5 639.2,758.9 638.2,758.9 637.2,759 636.2,758.8 635.2,758.4 634.2,758.7 633.2,759.1 632.2,758.4 631.2,759.1 630.2,759.2 629.2,759.2 628.2,758.8 627.2,759.1 626.2,758.7 625.2,759.2 624.2,758.9 623.2,759.5 622.2,759 621.2,759.2 620.2,758.5 619.2,758.7 618.2,759.3 617.2,759 616.2,759.1 615.2,759.5 614.2,759.5 613.2,759.5 612.2,759.6 611.3,758.9 610.3,759.3 609.3,759.5 608.3,759 607.3,759.2 606.3,759.1 605.3,759.6 604.3,759.8 603.3,759.7 602.3,759.2 601.3,758.9 600.3,759.3 599.3,759.6 598.3,759.1 597.3,758.9 596.3,759.6 595.3,759.5 594.3,759.3 593.3,758.8 592.3,758.8 591.3,758.8 590.3,759.5 589.3,759 588.3,758.7 587.3,759.6 586.3,759.6 585.3,759.4 584.3,759.3 583.3,759.2 582.3,759.6 581.3,758.7 580.3,759.4 579.3,759.5 578.3,759.2 577.3,759.4 576.3,759.4 575.3,759.3 574.3,759.3 573.3,759.4 572.3,758.6 571.3,758.7 570.3,758.7 569.3,759.3 568.3,759 567.3,758.7 566.3,759 565.3,759.2 564.3,759 563.3,758.8 562.3,758.5 561.3,759.2 560.3,758.8 559.3,759.2 558.3,758.6 557.3,759.1 556.3,758.7 555.3,758.8 554.3,758.4 553.3,758.6 552.3,758.8 551.3,758.9 550.3,758.6 549.3,759.2 548.3,758.9 547.3,759.3 546.3,758.5 545.3,758.6 544.3,759.2 543.3,758.9 542.3,759.2 541.3,758.6 540.3,759.1 539.3,758.9 538.4,759 537.4,759.3 536.4,758.9 535.4,758.6 534.4,759.2 533.4,759.2 532.4,759.2 531.4,759.2 530.4,759.3 529.4,758.7 528.4,759.1 527.4,758.7 526.4,759.1 525.4,759.5 524.4,758.6 523.4,759.5 522.4,759.3 521.4,759.3 520.4,759.3 519.4,758.8 518.4,759.6 517.4,759.5 516.4,759.5 515.4,759.5 514.4,758.9 513.4,759 512.4,759.8 511.4,759.6 510.4,759.1 509.4,758.9 508.4,759.8 507.4,759.4 506.4,759.3 505.4,759.2 504.4,759 503.4,759.2 502.4,759.5Z" fill="#ffa500"/><path d="M502.5,713.3 540,713 570,710.8 605,708.4 650,707.3 720,708.2 760,708.8 794,709.8 794,685.1 791,688.5 788,697.2 785,691 782,685.3 779,689.6 776,692.2 773,685.7 770,695.1 767,692.2 763.9,684.7 760.9,695 757.9,697.4 754.9,690.2 751.9,689.9 748.9,698.5 745.9,693 742.9,694 739.9,698.4 736.9,690.4 733.9,691.5 730.9,694.6 727.9,688.6 724.9,686.8 721.9,687.3 718.9,688.9 715.9,685.7 712.9,691.1 709.9,695 706.9,694.5 703.8,689.9 700.8,688.1 697.8,691.4 694.8,684.7 691.8,687.7 688.8,692 685.8,693.2 682.8,697.7 679.8,693.8 676.8,696.4 673.8,694.1 670.8,697.3 667.8,689.7 664.8,688.9 661.8,692 658.8,684.2 655.8,689.7 652.8,686.1 649.8,688.7 646.7,687.7 643.7,692.1 640.7,694.9 637.7,692.8 634.7,697.5 631.7,683.5 628.7,696 625.7,689.4 622.7,687.8 619.7,690.6 616.7,688.3 613.7,693.9 610.7,690.2 607.7,688 604.7,688.1 601.7,695 598.7,690 595.7,683.5 592.7,693.8 589.6,686 586.6,694.1 583.6,696.7 580.6,693.8 577.6,687.5 574.6,686.1 571.6,693.6 568.6,692 565.6,693.9 562.6,698.8 559.6,698.8 556.6,701.7 553.6,692.5 550.6,693.4 547.6,701.9 544.6,689.6 541.6,687.2 538.6,701.8 535.6,693.6 532.6,699.1 529.5,702.9 526.5,691.6 523.5,693.6 520.5,696.5 517.5,697.2 514.5,699.9 511.5,697.5 508.5,694.5 505.5,700.8 502.5,690.1Z" fill="url(#sp3)"/><path d="M502.5,713.3 540,713 570,710.8 605,708.4 650,707.3 720,708.2 760,708.8 794,709.8 794,699.7 791,700.3 788,693 785,693.9 782,698.8 779,694.4 776,696.6 773,692.5 770,697.9 767,701.5 763.9,692 760.9,692.9 757.9,694.5 754.9,699.4 751.9,698.6 748.9,695.6 745.9,692.6 742.9,701.4 739.9,697.6 736.9,701.4 733.9,699.5 730.9,699.4 727.9,700.2 724.9,695.4 721.9,694.6 718.9,691.9 715.9,694.3 712.9,694.5 709.9,692.7 706.9,692.3 703.8,700 700.8,700.3 697.8,695.4 694.8,695.8 691.8,691.3 688.8,701.1 685.8,697.2 682.8,698.4 679.8,695.5 676.8,699.3 673.8,694.8 670.8,691.7 667.8,694.4 664.8,700.2 661.8,697.5 658.8,698.6 655.8,696.1 652.8,694.7 649.8,696.9 646.7,693.6 643.7,697.1 640.7,692.7 637.7,695.9 634.7,694.4 631.7,701.1 628.7,694.6 625.7,691.4 622.7,692.4 619.7,695.5 616.7,692.9 613.7,692.6 610.7,697.6 607.7,692.6 604.7,701.3 601.7,700.9 598.7,698.2 595.7,697.6 592.7,698.4 589.6,702.7 586.6,701.2 583.6,699.1 580.6,695.7 577.6,696.4 574.6,695 571.6,700.5 568.6,696.4 565.6,700.7 562.6,701.9 559.6,700.3 556.6,700.5 553.6,700 550.6,704.8 547.6,700.4 544.6,698.8 541.6,704.6 538.6,698 535.6,699.4 532.6,702.1 529.5,705.1 526.5,698.1 523.5,696.9 520.5,700.8 517.5,701.7 514.5,698.5 511.5,705 508.5,697.6 505.5,699.8 502.5,702.3Z" fill="url(#sp2)"/><path d="M502.5,713.3 540,713 570,710.8 605,708.4 650,707.3 720,708.2 760,708.8 794,709.8 794,703.1 791,704.9 788,700.4 785,702.7 782,698.5 779,698.8 776,698.7 773,701.8 770,701 767,702.1 763.9,697.4 760.9,702.9 757.9,701.7 754.9,700.4 751.9,701.9 748.9,698.5 745.9,703 742.9,702.4 739.9,698.4 736.9,698.9 733.9,703.3 730.9,697.8 727.9,702.5 724.9,698.5 721.9,702.6 718.9,698.9 715.9,700.3 712.9,699.1 709.9,696.5 706.9,700.7 703.8,698.3 700.8,700.2 697.8,701 694.8,700.8 691.8,698.3 688.8,698.3 685.8,697.5 682.8,701.4 679.8,696.2 676.8,700.1 673.8,697.3 670.8,699.8 667.8,702.5 664.8,697.9 661.8,696 658.8,698.6 655.8,699.9 652.8,696 649.8,696.4 646.7,699.6 643.7,700.8 640.7,700.6 637.7,701.9 634.7,702 631.7,702.9 628.7,701.2 625.7,700.5 622.7,699.5 619.7,699.6 616.7,699.6 613.7,702.7 610.7,700.6 607.7,698.7 604.7,698.8 601.7,702.4 598.7,702.4 595.7,704.1 592.7,701.7 589.6,703.5 586.6,703 583.6,703.9 580.6,702.7 577.6,705.3 574.6,701.6 571.6,703.1 568.6,704.9 565.6,700.8 562.6,704.7 559.6,704.3 556.6,706.2 553.6,701.2 550.6,703 547.6,707.6 544.6,702 541.6,706.7 538.6,703.2 535.6,704.6 532.6,704.5 529.5,701.6 526.5,702.7 523.5,707.3 520.5,707.9 517.5,703 514.5,704.4 511.5,704.2 508.5,708.1 505.5,701.6 502.5,705.6Z" fill="url(#sp1)"/><path d="M502.5,713.3 540,713 570,710.8 605,708.4 650,707.3 720,708.2 760,708.8 794,709.8 794,705.9 791,703 788,703.2 785,704.1 782,706.2 779,705 776,702.6 773,702.8 770,703.9 767,705.5 763.9,706.1 760.9,702.1 757.9,705.5 754.9,702 751.9,705.6 748.9,703.6 745.9,703.3 742.9,705.3 739.9,702.7 736.9,703.6 733.9,703.1 730.9,705 727.9,702.6 724.9,705.3 721.9,705.3 718.9,703.2 715.9,702.9 712.9,704.2 709.9,701.5 706.9,702.5 703.8,702.1 700.8,704.1 697.8,703.3 694.8,703.7 691.8,703.4 688.8,701.8 685.8,702.7 682.8,703.9 679.8,702.4 676.8,702.3 673.8,702.5 670.8,701.7 667.8,703.2 664.8,703.1 661.8,703.3 658.8,702.3 655.8,703.7 652.8,703.4 649.8,703.3 646.7,703.4 643.7,703.2 640.7,704.2 637.7,704.3 634.7,704.6 631.7,702 628.7,702.1 625.7,702.7 622.7,705.2 619.7,702.4 616.7,703.6 613.7,703.8 610.7,704 607.7,704.1 604.7,705.3 601.7,703.5 598.7,703.3 595.7,703.4 592.7,702.7 589.6,706.2 586.6,706.7 583.6,703.5 580.6,706.2 577.6,706.2 574.6,705.3 571.6,704.3 568.6,706.4 565.6,706.8 562.6,707.3 559.6,707.5 556.6,705.8 553.6,708.5 550.6,706.3 547.6,705.9 544.6,707.5 541.6,708.6 538.6,706.7 535.6,709.1 532.6,707.4 529.5,707.3 526.5,707.6 523.5,708.8 520.5,707.8 517.5,709.5 514.5,706.7 511.5,707.8 508.5,706.5 505.5,709.2 502.5,708.4Z" fill="url(#sp0)"/><path d="M510.1 692.4h0M644.3 685.3h0M773.6 692.8h0M683 689.9h0M651.3 683.1h0M792.5 686h0M572 690.7h0M534.4 689.8h0M641.3 686.1h0M765.4 685.3h0M574 690.2h0M665.7 686.3h0M778.6 689.1h0M535.5 696.5h0M778.9 688.7h0M541.6 692.7h0M522.1 693.4h0M612.2 690.3h0M747.8 688.4h0M667.6 684.4h0M513.4 693.7h0M671.4 691.1h0M546.3 691.2h0M557.5 688.3h0M733.7 688.6h0" stroke="#ffa500" stroke-opacity="0.3" stroke-width="2.5" stroke-linecap="round" fill="none"/><path d="M502.5,759.2 540,758.5 605,759 650,758.2 720,757.5 760,758.5 794,759.2 794,771 791,784.3 788,780 785,770 782,770.6 779,772.7 776,783.7 773,779.4 770,770.3 767,775.9 763.9,778.2 760.9,773.9 757.9,780.6 754.9,772.9 751.9,783.8 748.9,775.4 745.9,781.7 742.9,772.3 739.9,777.6 736.9,773.3 733.9,776.8 730.9,772.5 727.9,782.2 724.9,779.5 721.9,780.1 718.9,779.6 715.9,778.9 712.9,782.9 709.9,780.3 706.9,776.9 703.8,782.8 700.8,773.4 697.8,780.4 694.8,780.1 691.8,780 688.8,777.7 685.8,770 682.8,772.6 679.8,768.7 676.8,771.4 673.8,775.5 670.8,778 667.8,780.2 664.8,776 661.8,777 658.8,777 655.8,770.2 652.8,768.1 649.8,783.3 646.7,774.4 643.7,783.6 640.7,773.5 637.7,773 634.7,783.2 631.7,771.3 628.7,776.1 625.7,781.1 622.7,768.9 619.7,784.2 616.7,783.8 613.7,770.7 610.7,775.2 607.7,779.7 604.7,775.6 601.7,783.8 598.7,780 595.7,784.3 592.7,769.5 589.6,775 586.6,775.9 583.6,772.3 580.6,768.8 577.6,770.4 574.6,782.2 571.6,779.8 568.6,769.5 565.6,783.2 562.6,781 559.6,769.4 556.6,779.8 553.6,775.3 550.6,779.3 547.6,770 544.6,772.6 541.6,775.3 538.6,771.9 535.6,774.7 532.6,771 529.5,777.4 526.5,782.8 523.5,782.3 520.5,776.5 517.5,779.9 514.5,774 511.5,784 508.5,772.3 505.5,777.3 502.5,775.3Z" fill="url(#sp3)"/><path d="M502.5,759.2 540,758.5 605,759 650,758.2 720,757.5 760,758.5 794,759.2 794,772.5 791,769.3 788,766.7 785,769.3 782,768.9 779,772.4 776,770.9 773,773.6 770,772.5 767,770.1 763.9,771.8 760.9,769.9 757.9,768.6 754.9,774.1 751.9,769.9 748.9,769.1 745.9,773.7 742.9,766.6 739.9,774.8 736.9,774.3 733.9,767.7 730.9,767.8 727.9,771.1 724.9,768.1 721.9,769.5 718.9,772.5 715.9,772.9 712.9,772.5 709.9,766.8 706.9,767.5 703.8,773.2 700.8,773.8 697.8,770.4 694.8,767.3 691.8,770.7 688.8,770.3 685.8,766.4 682.8,773.1 679.8,773.6 676.8,767.3 673.8,766.4 670.8,771 667.8,766.7 664.8,770.8 661.8,766.1 658.8,773.7 655.8,771.3 652.8,771.9 649.8,766.6 646.7,775.1 643.7,770.8 640.7,765.5 637.7,768.3 634.7,772.2 631.7,767.5 628.7,765.5 625.7,773.7 622.7,773.2 619.7,765.9 616.7,767.1 613.7,768.8 610.7,768.2 607.7,767.8 604.7,775.9 601.7,768.6 598.7,773.9 595.7,769.5 592.7,769.8 589.6,769.2 586.6,771 583.6,766 580.6,766.4 577.6,773.9 574.6,769.3 571.6,771.8 568.6,767 565.6,767.1 562.6,774 559.6,768.9 556.6,769.7 553.6,765.7 550.6,767.1 547.6,766.3 544.6,766.8 541.6,775.5 538.6,767.4 535.6,770.7 532.6,774.9 529.5,766.9 526.5,766.5 523.5,769.6 520.5,775.2 517.5,773.6 514.5,772.7 511.5,775.1 508.5,769.8 505.5,773.9 502.5,767.7Z" fill="url(#sp2)"/><path d="M502.5,759.2 540,758.5 605,759 650,758.2 720,757.5 760,758.5 794,759.2 794,769.3 791,768 788,767.4 785,766.5 782,769.3 779,764 776,769.5 773,769.4 770,767.6 767,769.1 763.9,764.1 760.9,768.2 757.9,766 754.9,764.2 751.9,767.4 748.9,765.3 745.9,763.1 742.9,764.4 739.9,769.3 736.9,766.7 733.9,763.4 730.9,768.5 727.9,763.9 724.9,768.4 721.9,763.3 718.9,764.8 715.9,767.7 712.9,763.9 709.9,768.1 706.9,762.8 703.8,765 700.8,767.5 697.8,766.1 694.8,769 691.8,769.1 688.8,764.9 685.8,768.4 682.8,767.1 679.8,766.1 676.8,768.1 673.8,763.2 670.8,768.8 667.8,766.5 664.8,768.6 661.8,768.6 658.8,764.7 655.8,768 652.8,768.8 649.8,765.1 646.7,769.3 643.7,763.6 640.7,765 637.7,768.1 634.7,766.3 631.7,768.3 628.7,764 625.7,763.6 622.7,769 619.7,764.4 616.7,768.3 613.7,766 610.7,766 607.7,763.9 604.7,768 601.7,769.7 598.7,764.8 595.7,767 592.7,768.3 589.6,768.7 586.6,765 583.6,769.1 580.6,768.1 577.6,770.5 574.6,769.3 571.6,767.7 568.6,765.3 565.6,764 562.6,768.7 559.6,767.1 556.6,770.5 553.6,766.5 550.6,764.4 547.6,766.2 544.6,764.4 541.6,768.2 538.6,766.2 535.6,769.7 532.6,765.7 529.5,765.9 526.5,769.8 523.5,770.2 520.5,767.8 517.5,767.1 514.5,765 511.5,766.3 508.5,764.1 505.5,769.7 502.5,765.8Z" fill="url(#sp1)"/><path d="M502.5,759.2 540,758.5 605,759 650,758.2 720,757.5 760,758.5 794,759.2 794,764.5 791,763.5 788,764.5 785,763.9 782,765.2 779,764.2 776,763.5 773,761.7 770,762.9 767,761.6 763.9,765.4 760.9,762 757.9,762.9 754.9,765.1 751.9,764.3 748.9,764.7 745.9,763.7 742.9,762.4 739.9,761.7 736.9,763.7 733.9,762.6 730.9,761.9 727.9,764.3 724.9,763.5 721.9,761.1 718.9,760.8 715.9,763.1 712.9,761 709.9,761.7 706.9,760.5 703.8,761.7 700.8,762.1 697.8,764.2 694.8,762.4 691.8,763.2 688.8,763.9 685.8,763.3 682.8,762.5 679.8,762.7 676.8,764.7 673.8,764.3 670.8,761.5 667.8,761.5 664.8,760.9 661.8,762.4 658.8,763.8 655.8,762.1 652.8,761.8 649.8,762.2 646.7,765.1 643.7,763.6 640.7,763.5 637.7,761.6 634.7,762.2 631.7,761.6 628.7,764.4 625.7,762.7 622.7,763.5 619.7,763.9 616.7,765.2 613.7,764.9 610.7,764.8 607.7,764.6 604.7,765.1 601.7,762.9 598.7,762.5 595.7,762.3 592.7,763.8 589.6,765.3 586.6,761.9 583.6,762.8 580.6,764.1 577.6,764 574.6,764.7 571.6,764.4 568.6,763.5 565.6,764.1 562.6,762.6 559.6,763.2 556.6,762.5 553.6,761.7 550.6,765.4 547.6,761.7 544.6,763.6 541.6,764.1 538.6,764.1 535.6,761.8 532.6,762.5 529.5,765.5 526.5,762 523.5,762 520.5,762.9 517.5,763.1 514.5,762.3 511.5,765.3 508.5,763.2 505.5,763.5 502.5,764.3Z" fill="url(#sp0)"/><path d="M689.1 775.2h0M746.1 781.2h0M527.7 781.3h0M618.3 779.4h0M529.9 782h0M595.1 783.1h0M543.6 779.6h0M598.5 775.2h0M685.5 779.1h0M708.8 774.1h0M644.4 775.1h0M574.6 781.1h0M594.9 780.4h0M519.5 782.6h0M671.2 777.9h0M581.3 776.9h0M697.8 776.3h0M558.4 780.5h0M575.7 775.2h0M504.8 782.9h0M713.3 779.3h0M720.7 779h0M715.2 779.6h0M715.2 776.9h0M579.8 781.4h0" stroke="#ffa500" stroke-opacity="0.3" stroke-width="2.5" stroke-linecap="round" fill="none"/><rect x="499" y="738.1" width="3.6" height="2.4" fill="#ffa500"/><rect x="794" y="737.9" width="4.5" height="2.4" fill="#ffa500"/><path d="M753.8,758 754.5,767 755.2,771 755.9,767 756.6,758Z" fill="#ffa500"/><path d="M633,708 634.5,698 636,708Z" fill="#ffa500" fill-opacity="0.5"/></g>
<g clip-path="url(#c50)"><rect x="105.8" y="866" width="2.4" height="32.8" fill="#0000ff"/><path d="M105.8,865 106.8,865.2 107.8,864.4 108.8,864 109.8,865.3 110.8,864.6 111.8,864.8 112.8,864.7 113.8,864.6 114.8,864.1 115.8,864.4 116.8,865.1 117.8,865.5 118.8,865.5 119.8,865.6 120.8,864.2 121.8,865.4 122.8,865.3 123.8,865.3 124.8,865.3 125.8,864.5 126.8,865.4 127.8,865.7 128.8,864.5 129.8,866 130.8,864.8 131.8,865.2 132.8,865.6 133.8,865.7 134.8,865.7 135.8,865.5 136.8,866.3 137.8,865.6 138.8,866.5 139.8,865.7 140.8,866.2 141.8,866.6 142.8,865.5 143.8,865.7 144.8,866.6 145.8,865.7 146.8,865.6 147.8,866 148.8,866.4 149.8,866.9 150.8,867 151.8,866.2 152.8,866.3 153.8,866.1 154.7,866.1 155.7,866.3 156.7,867.3 157.7,866.7 158.7,866.8 159.7,866.8 160.7,866.7 161.7,867.9 162.7,867.9 163.7,868 164.7,867.7 165.7,867.6 166.7,867.6 167.7,867.3 168.7,867.9 169.7,867.6 170.7,868 171.7,868.1 172.7,867.9 173.7,867.7 174.7,868.2 175.7,868.3 176.7,868.2 177.7,867.4 178.7,867.6 179.7,868.3 180.7,868.4 181.7,868.3 182.7,868.4 183.7,868.9 184.7,867.6 185.7,868.3 186.7,868.1 187.7,867.6 188.7,868.7 189.7,867.8 190.7,867.8 191.7,868.2 192.7,867.9 193.7,869 194.7,867.9 195.7,868.9 196.7,868.5 197.7,869.5 198.7,868.9 199.7,869.1 200.7,869.4 201.7,868.5 202.7,868.5 203.7,869.5 204.7,869.8 205.7,869.1 206.7,868.8 207.7,869.9 208.7,868.6 209.7,868.6 210.7,869.6 211.7,869.5 212.7,869.1 213.7,869.1 214.7,869.4 215.7,870.1 216.7,869.1 217.7,869.6 218.7,868.9 219.7,869.8 220.7,869.5 221.7,869.2 222.7,870.2 223.7,869 224.7,870.6 225.7,869.9 226.7,870.4 227.7,870.4 228.7,870.2 229.7,870.5 230.7,869.6 231.7,869.4 232.7,869.3 233.7,869.2 234.7,869.3 235.7,869.8 236.7,870.7 237.7,870.2 238.7,869.5 239.7,870 240.7,870.7 241.7,869.3 242.7,869.6 243.7,869.3 244.7,869.3 245.7,869.5 246.7,869.3 247.7,870.5 248.7,870.1 249.7,869.8 250.7,869.8 251.7,870 252.6,869.1 253.6,869.7 254.6,869.2 255.6,870.5 256.6,868.9 257.6,869.2 258.6,869.4 259.6,869.1 260.6,869.3 261.6,868.4 262.6,869.8 263.6,868.6 264.6,868.8 265.6,869 266.6,869.2 267.6,869.3 268.6,867.9 269.6,867.6 270.6,867.1 271.6,867.2 272.6,867.6 273.6,867.7 274.6,867.3 275.6,866.4 276.6,867.4 277.6,866.2 278.6,866.8 279.6,866.3 280.6,867 281.6,866.8 282.6,866.4 283.6,867.3 284.6,866.9 285.6,868 286.6,867.6 287.6,867.5 288.6,867.1 289.6,868.5 290.6,867.4 291.6,867.9 292.6,867.9 293.6,868.1 294.6,867.4 295.6,867.6 296.6,868.7 297.6,868.7 298.6,868.6 299.6,868.1 300.6,867.3 301.6,868.7 302.6,868.7 303.6,868.3 304.6,868 305.6,868 306.6,868.5 307.6,868.2 308.6,868.4 309.6,867.3 310.6,867.5 311.6,867.4 312.6,868 313.6,867.8 314.6,867.1 315.6,867 316.6,867.4 317.6,868.2 318.6,868 319.6,867.4 320.6,867.1 321.6,868.1 322.6,867.7 323.6,867.7 324.6,868.1 325.6,867.2 326.6,866.5 327.6,867.4 328.6,866.4 329.6,866.5 330.6,867.4 331.6,866.4 332.6,867.6 333.6,867.2 334.6,867.4 335.6,866.5 336.6,866.3 337.6,867.3 338.6,866.1 339.6,866.4 340.6,867.1 341.6,865.4 342.6,865.6 343.6,866.7 344.6,865.4 345.6,866 346.6,865.6 347.6,866 348.6,866 349.6,865.3 350.5,865.5 351.5,864.8 352.5,864.8 353.5,864.1 354.5,864.7 355.5,865.1 356.5,864 357.5,864.3 358.5,864.5 359.5,863.9 360.5,864 361.5,862.8 362.5,863.4 363.5,863.1 364.5,863 365.5,863.2 366.5,862.7 367.5,863.2 368.5,863 369.5,862.9 370.5,863.3 371.5,863.3 372.5,862.2 373.5,862.5 374.5,863 375.5,862.2 376.5,863.5 377.5,862.3 378.5,862.1 379.5,861.9 380.5,862.5 381.5,863.2 382.5,862.1 383.5,862.8 384.5,863.2 385.5,863.2 386.5,863.1 387.5,862.3 388.5,863.2 389.5,863.3 390.5,863 391.5,862.9 392.5,862.4 393.5,863.5 394.5,863.6 395.5,863 396.5,863.5 397.5,862.9 398.5,863.5 398.5,870.3 397.5,870.4 396.5,869.4 395.5,870.5 394.5,869.3 393.5,869.1 392.5,869.4 391.5,868.7 390.5,868.7 389.5,869.2 388.5,869.5 387.5,868.4 386.5,868.8 385.5,868.3 384.5,868.5 383.5,869.1 382.5,869 381.5,868 380.5,869.2 379.5,869.2 378.5,868.4 377.5,869.1 376.5,868.5 375.5,869.2 374.5,869.1 373.5,868.6 372.5,869.2 371.5,869.1 370.5,869.4 369.5,868.3 368.5,868.3 367.5,869.3 366.5,868.6 365.5,869.5 364.5,868.5 363.5,869.8 362.5,869 361.5,869.9 360.5,868.9 359.5,868.7 358.5,869.3 357.5,870 356.5,869.4 355.5,870.4 354.5,870.8 353.5,871.1 352.5,871.1 351.5,870.8 350.5,871.5 349.6,871.6 348.6,871.5 347.6,871.9 346.6,871 345.6,871.3 344.6,872.1 343.6,872.5 342.6,871.8 341.6,872.9 340.6,871.9 339.6,872.8 338.6,872 337.6,872 336.6,872.8 335.6,872.4 334.6,872.5 333.6,872.5 332.6,873.4 331.6,872.5 330.6,872.6 329.6,873.4 328.6,873.7 327.6,873 326.6,873.6 325.6,873.8 324.6,873.9 323.6,872.9 322.6,873.7 321.6,873.5 320.6,873.4 319.6,873.5 318.6,874 317.6,874.3 316.6,874.4 315.6,874.6 314.6,873.9 313.6,874.9 312.6,873.8 311.6,874.9 310.6,875 309.6,874.9 308.6,874.5 307.6,875.3 306.6,873.9 305.6,874.8 304.6,874.8 303.6,874.4 302.6,874.2 301.6,875.1 300.6,874.3 299.6,874.6 298.6,875.6 297.6,874.6 296.6,875.2 295.6,875.3 294.6,875.1 293.6,875.2 292.6,876.3 291.6,875.5 290.6,876.4 289.6,875.8 288.6,875.9 287.6,876.2 286.6,877.1 285.6,876.2 284.6,877.5 283.6,877.4 282.6,876.8 281.6,877.2 280.6,878.8 279.6,878.5 278.6,877.7 277.6,878.4 276.6,877.7 275.6,878.2 274.6,878.5 273.6,878.5 272.6,877.4 271.6,878.4 270.6,877.8 269.6,877.8 268.6,876.5 267.6,877.6 266.6,876.5 265.6,876.1 264.6,876.9 263.6,877.4 262.6,876.3 261.6,876.9 260.6,877.2 259.6,876.4 258.6,876 257.6,876.8 256.6,876.9 255.6,875.8 254.6,876.1 253.6,876.5 252.6,877.1 251.7,876.3 250.7,877 249.7,876.2 248.7,877.1 247.7,876.2 246.7,876.7 245.7,875.8 244.7,875.6 243.7,876.5 242.7,875.5 241.7,876.5 240.7,875.7 239.7,876.7 238.7,876.1 237.7,876.4 236.7,875.8 235.7,876.2 234.7,875.5 233.7,876.8 232.7,876.4 231.7,876 230.7,875.1 229.7,875.8 228.7,875.8 227.7,876.8 226.7,876.3 225.7,875.5 224.7,875.7 223.7,875.8 222.7,875.6 221.7,876.1 220.7,876.5 219.7,875.8 218.7,876.6 217.7,876.9 216.7,875.8 215.7,876.8 214.7,877.1 213.7,876.1 212.7,877.2 211.7,876.9 210.7,877.2 209.7,877.1 208.7,877.2 207.7,876.4 206.7,877.2 205.7,876.7 204.7,877.4 203.7,877.5 202.7,876.9 201.7,877.8 200.7,877.3 199.7,876.6 198.7,876.9 197.7,877.4 196.7,877.7 195.7,876.4 194.7,877.7 193.7,876.5 192.7,877.3 191.7,877 190.7,876.9 189.7,876.7 188.7,876.6 187.7,877.6 186.7,877 185.7,876.5 184.7,876.3 183.7,877.2 182.7,877.1 181.7,877 180.7,876.9 179.7,876.1 178.7,876 177.7,876 176.7,876 175.7,876.7 174.7,877.2 173.7,875.7 172.7,876.8 171.7,875.7 170.7,876.1 169.7,876.8 168.7,876.3 167.7,876.8 166.7,875.8 165.7,875.4 164.7,875.8 163.7,875.8 162.7,876.6 161.7,875.6 160.7,875.9 159.7,875.9 158.7,875.5 157.7,875.3 156.7,875.6 155.7,875.2 154.7,875.8 153.8,874.9 152.8,876 151.8,876.1 150.8,875.6 149.8,875.8 148.8,874.9 147.8,875.3 146.8,875.5 145.8,874.7 144.8,874.7 143.8,874.2 142.8,874.7 141.8,875.1 140.8,874.9 139.8,875.2 138.8,874 137.8,875.2 136.8,875.5 135.8,875.4 134.8,875 133.8,874.1 132.8,874.5 131.8,874.8 130.8,874.8 129.8,874.5 128.8,874 127.8,874.1 126.8,874.7 125.8,873.6 124.8,874 123.8,874.8 122.8,873.3 121.8,874.6 120.8,874 119.8,873.8 118.8,873.5 117.8,873.6 116.8,873.8 115.8,873.2 114.8,873 113.8,874 112.8,873.1 111.8,872.8 110.8,872.8 109.8,872.9 108.8,873.2 107.8,873.7 106.8,873.4 105.8,873.4Z" fill="#0000ff"/><rect x="396.9" y="870" width="1.3" height="26.4" fill="#0000ff" fill-opacity="0.3"/><path d="M219.4 880.5h0M219.4 884.5h0" stroke="#0000ff" stroke-opacity="0.3" stroke-width="2.2" stroke-linecap="round" fill="none"/></g>
<g clip-path="url(#c51)"><rect x="502.1" y="868" width="292.6" height="3" fill="#ffa500"/><rect x="502.1" y="879" width="292.6" height="3" fill="#ffa500"/><rect x="502.1" y="889.9" width="292.6" height="3" fill="#ffa500"/><rect x="502.1" y="902" width="292.6" height="3" fill="#ffa500"/><rect x="502.1" y="913" width="292.6" height="3" fill="#ffa500"/><rect x="502.1" y="924.9" width="292.6" height="3" fill="#ffa500"/><path d="M503.5 857.5h0M508.7 857.5h0M511.3 857.5h0M513.9 857.5h0M521.7 857.5h0M524.3 857.5h0M532.1 857.5h0M534.7 857.5h0M545.1 857.5h0M547.7 857.5h0M555.5 857.5h0M558.1 857.5h0M563.3 857.5h0M568.5 857.5h0M571.1 857.5h0M576.3 857.5h0M581.5 857.5h0M584.1 857.5h0M586.7 857.5h0M591.9 857.5h0M597.1 857.5h0M604.9 857.5h0M607.5 857.5h0M612.7 857.5h0M615.3 857.5h0M617.9 857.5h0M620.5 857.5h0M623.1 857.5h0M625.7 857.5h0M628.3 857.5h0M633.5 857.5h0M638.7 857.5h0M641.3 857.5h0M643.9 857.5h0M646.5 857.5h0M649.1 857.5h0M654.3 857.5h0M656.9 857.5h0M659.5 857.5h0M667.3 857.5h0M669.9 857.5h0M672.5 857.5h0M675.1 857.5h0M680.3 857.5h0M688.1 857.5h0M698.5 857.5h0M701.1 857.5h0M708.9 857.5h0M714.1 857.5h0M716.7 857.5h0M719.3 857.5h0M721.9 857.5h0M724.5 857.5h0M727.1 857.5h0M729.7 857.5h0M740.1 857.5h0M745.3 857.5h0M747.9 857.5h0M750.5 857.5h0M763.5 857.5h0M766.1 857.5h0M771.3 857.5h0M773.9 857.5h0M779.1 857.5h0M781.7 857.5h0M784.3 857.5h0M786.9 857.5h0M792.1 857.5h0" stroke="#ffa500" stroke-opacity="0.28" stroke-width="2.8" stroke-linecap="round" fill="none"/><path d="M505 937.5h0M510.2 937.5h0M515.4 937.5h0M520.6 937.5h0M525.8 937.5h0M531 937.5h0M536.2 937.5h0M541.4 937.5h0M546.6 937.5h0M551.8 937.5h0M557 937.5h0M562.2 937.5h0M567.4 937.5h0M572.6 937.5h0M577.8 937.5h0M583 937.5h0M588.2 937.5h0M593.4 937.5h0M598.6 937.5h0M603.8 937.5h0M609 937.5h0M614.2 937.5h0M619.4 937.5h0M624.6 937.5h0M629.8 937.5h0M635 937.5h0M640.2 937.5h0M645.4 937.5h0M650.6 937.5h0M655.8 937.5h0M661 937.5h0M666.2 937.5h0M671.4 937.5h0M676.6 937.5h0M681.8 937.5h0M687 937.5h0M692.2 937.5h0M697.4 937.5h0M702.6 937.5h0M707.8 937.5h0M713 937.5h0M718.2 937.5h0M723.4 937.5h0M728.6 937.5h0M733.8 937.5h0M739 937.5h0M744.2 937.5h0M749.4 937.5h0M754.6 937.5h0M759.8 937.5h0M765 937.5h0M770.2 937.5h0M775.4 937.5h0M780.6 937.5h0M785.8 937.5h0M791 937.5h0" stroke="#ffa500" stroke-opacity="0.4" stroke-width="2.8" stroke-linecap="round" fill="none"/><path d="M512.8 937.5h0M518 937.5h0M523.2 937.5h0M528.4 937.5h0M533.6 937.5h0M544 937.5h0M549.2 937.5h0M554.4 937.5h0M559.6 937.5h0M575.2 937.5h0M580.4 937.5h0M585.6 937.5h0M590.8 937.5h0M596 937.5h0M601.2 937.5h0M606.4 937.5h0M616.8 937.5h0M622 937.5h0M627.2 937.5h0M632.4 937.5h0M637.6 937.5h0M642.8 937.5h0M648 937.5h0M653.2 937.5h0M663.6 937.5h0M668.8 937.5h0M674 937.5h0M679.2 937.5h0M684.4 937.5h0M689.6 937.5h0M694.8 937.5h0M700 937.5h0M705.2 937.5h0M710.4 937.5h0M715.6 937.5h0M720.8 937.5h0M726 937.5h0M731.2 937.5h0M736.4 937.5h0M746.8 937.5h0M752 937.5h0M757.2 937.5h0M767.6 937.5h0M772.8 937.5h0M778 937.5h0M783.2 937.5h0M788.4 937.5h0M793.6 937.5h0" stroke="#ffa500" stroke-opacity="0.4" stroke-width="2.8" stroke-linecap="round" fill="none"/><rect x="499" y="889.2" width="3.5" height="2.4" fill="#ffa500"/><rect x="509.5" y="889.2" width="3.5" height="2.4" fill="#ffa500"/><rect x="549.5" y="889.2" width="4" height="2.4" fill="#ffa500"/><rect x="601.5" y="889.2" width="4" height="2.4" fill="#ffa500"/><rect x="653.5" y="889.2" width="3.5" height="2.4" fill="#ffa500"/><rect x="704.5" y="889.2" width="4" height="2.4" fill="#ffa500"/><rect x="757" y="889.2" width="3.8" height="2.4" fill="#ffa500"/><rect x="785" y="889.2" width="4" height="2.4" fill="#ffa500"/><rect x="794.5" y="889.2" width="4.3" height="2.4" fill="#ffa500"/></g>
<g clip-path="url(#c60)"><rect x="102.9" y="1025.2" width="300" height="4.7" fill="#0000ff"/><path d="M187.5 1024.5h0M241.4 1024.5h0M140.3 1024.5h0M259.7 1024.5h0M225.9 1024.5h0M125.3 1024.5h0M133.5 1024.5h0M397.9 1024.5h0M310.8 1024.5h0M237.7 1024.5h0M294.8 1024.5h0M184.6 1024.5h0M194 1024.5h0M125.9 1024.5h0M119.7 1024.5h0M344.6 1024.5h0M346.4 1024.5h0M105.5 1024.5h0M202.4 1024.5h0M130.5 1024.5h0M243.4 1024.5h0M288.1 1024.5h0M268.2 1024.5h0M144 1024.5h0M313.3 1024.5h0M286.7 1024.5h0M243.3 1024.5h0M192.5 1024.5h0M377.7 1024.5h0M128.9 1024.5h0M147.1 1024.5h0M216.8 1024.5h0M181.2 1024.5h0M287.6 1024.5h0M311 1024.5h0M313.8 1024.5h0M334.6 1024.5h0M156.2 1024.5h0M326.4 1024.5h0M177.3 1024.5h0M263.7 1024.5h0M169.9 1024.5h0M346 1024.5h0M136.2 1024.5h0M232.4 1024.5h0" stroke="#0000ff" stroke-opacity="0.15" stroke-width="1.4" stroke-linecap="round" fill="none"/></g>
<g clip-path="url(#c61)"><path d="M499.2,1034.2 500.2,1034.3 501.2,1034.4 502.2,1033.8 503.2,1034.3 504.2,1034.7 505.2,1034.1 506.2,1033.8 507.2,1034.7 508.2,1034.4 509.2,1033.9 510.2,1034.4 511.2,1034.7 512.2,1033.9 513.2,1034.6 514.2,1034.4 515.2,1033.9 516.2,1033.9 517.2,1034.7 518.2,1034.1 519.2,1034.2 520.2,1034.4 521.2,1034.2 522.2,1033.7 523.2,1034 524.2,1034.2 525.2,1034.5 526.2,1034.3 527.2,1034.1 528.2,1033.9 529.2,1034.5 530.2,1033.9 531.2,1034.4 532.2,1034.2 533.2,1034.3 534.2,1034.1 535.2,1033.9 536.2,1033.9 537.2,1034.4 538.2,1034 539.2,1033.7 540.2,1033.9 541.2,1034.6 542.2,1034.4 543.2,1034.3 544.2,1034.1 545.2,1034.5 546.2,1034 547.2,1034.4 548.2,1033.7 549.2,1034.4 550.2,1034.7 551.2,1034.4 552.2,1033.8 553.2,1034.3 554.2,1034.1 555.2,1034.7 556.2,1033.8 557.2,1033.8 558.2,1033.8 559.2,1034.1 560.2,1034.6 561.2,1034.3 562.2,1034.4 563.2,1033.8 564.2,1033.9 565.2,1034.1 566.2,1034.4 567.2,1034.5 568.2,1034.3 569.2,1034 570.2,1033.9 571.2,1034.2 572.2,1034 573.2,1034.5 574.3,1034.6 575.3,1034.6 576.3,1033.9 577.3,1034.5 578.3,1033.8 579.3,1033.9 580.3,1034.5 581.3,1034.1 582.3,1034.6 583.3,1034.4 584.3,1034.4 585.3,1034.4 586.3,1034.7 587.3,1034.6 588.3,1033.8 589.3,1034.7 590.3,1034.2 591.3,1034.1 592.3,1034.6 593.3,1034.7 594.3,1034.5 595.3,1034.5 596.3,1033.8 597.3,1034 598.3,1034.6 599.3,1034.8 600.3,1034 601.3,1034.5 602.3,1033.9 603.3,1034.5 604.3,1034.1 605.3,1033.8 606.3,1033.9 607.3,1034.3 608.3,1034.2 609.3,1034.5 610.3,1034.1 611.3,1034.4 612.3,1034.2 613.3,1034.5 614.3,1033.8 615.3,1034.4 616.3,1034.4 617.3,1033.8 618.3,1034.5 619.3,1034.4 620.3,1034.7 621.3,1034 622.3,1034.2 623.3,1034.6 624.3,1034.7 625.3,1034.5 626.3,1034.1 627.3,1034.5 628.3,1034.2 629.3,1034.3 630.3,1034.5 631.3,1034.7 632.3,1033.8 633.3,1034.5 634.3,1034.7 635.3,1034.2 636.3,1034 637.3,1034.4 638.3,1033.8 639.3,1034.6 640.3,1034.3 641.3,1034.5 642.3,1034.6 643.3,1033.8 644.3,1034 645.3,1034.2 646.3,1034.4 647.3,1034.2 648.3,1034.1 649.3,1033.8 650.3,1034.2 651.3,1034.7 652.3,1033.8 653.3,1034.4 654.3,1034 655.3,1034.8 656.3,1034.6 657.3,1034 658.3,1034.8 659.3,1034.1 660.3,1034.5 661.3,1034 662.3,1034.1 663.3,1033.8 664.3,1034.1 665.3,1034.2 666.3,1033.8 667.3,1033.8 668.3,1033.8 669.3,1034.6 670.3,1034.2 671.3,1034.7 672.3,1034.2 673.3,1034.3 674.3,1034.1 675.3,1034.5 676.3,1034.1 677.3,1034.6 678.3,1034.1 679.3,1033.9 680.3,1034.2 681.3,1033.8 682.3,1034.1 683.3,1034.1 684.3,1034.4 685.3,1034.7 686.3,1033.9 687.3,1034.3 688.3,1034.6 689.3,1034.4 690.3,1034 691.3,1034.1 692.3,1034.6 693.3,1034.2 694.3,1034.4 695.3,1034 696.3,1034.5 697.3,1034.3 698.3,1034.5 699.3,1034 700.3,1033.9 701.3,1033.9 702.3,1034.3 703.3,1033.8 704.3,1034 705.3,1034.4 706.3,1034 707.3,1033.9 708.3,1033.9 709.3,1034.2 710.3,1034.4 711.3,1033.9 712.3,1034.2 713.3,1034.7 714.3,1034.2 715.3,1033.9 716.3,1034.5 717.3,1034.6 718.3,1034.4 719.3,1034 720.3,1034.2 721.3,1034 722.3,1034.6 723.3,1033.7 724.4,1034.5 725.4,1033.9 726.4,1033.8 727.4,1034.5 728.4,1034.4 729.4,1033.7 730.4,1033.9 731.4,1033.7 732.4,1034.4 733.4,1034.5 734.4,1033.9 735.4,1034 736.4,1033.7 737.4,1033.7 738.4,1033.7 739.4,1034.3 740.4,1033.8 741.4,1034.1 742.4,1033.9 743.4,1034.1 744.4,1034.2 745.4,1034 746.4,1033.9 747.4,1034.5 748.4,1034.5 749.4,1034.1 750.4,1034 751.4,1034.1 752.4,1034.1 753.4,1034.5 754.4,1034 755.4,1033.9 756.4,1034.5 757.4,1034.2 758.4,1033.7 759.4,1034.1 760.4,1034.4 761.4,1034.1 762.4,1033.8 763.4,1033.9 764.4,1034.3 765.4,1034.1 766.4,1033.6 767.4,1033.9 768.4,1034.3 769.4,1033.6 770.4,1034 771.4,1034.1 772.4,1033.9 773.4,1034.2 774.4,1033.6 775.4,1034.5 776.4,1034.3 777.4,1034.4 778.4,1034.1 779.4,1034 780.4,1033.8 781.4,1033.6 782.4,1034 783.4,1033.8 784.4,1034.4 785.4,1033.7 786.4,1033.6 787.4,1034.3 788.4,1034.5 789.4,1034 790.4,1034.4 791.4,1034.2 792.4,1034.3 793.4,1034.1 794.4,1034 795.4,1034.1 796.4,1034.3 797.4,1034.5 798.4,1034 798.4,1091.2 797.4,1091.5 796.4,1091.2 795.4,1091 794.4,1091 793.4,1091.6 792.4,1090.7 791.4,1091 790.4,1091.3 789.4,1091.1 788.4,1090.8 787.4,1091.4 786.4,1090.9 785.4,1090.9 784.4,1091.5 783.4,1091 782.4,1091.6 781.4,1091.6 780.4,1090.7 779.4,1090.9 778.4,1091.4 777.4,1091.2 776.4,1090.7 775.4,1091.3 774.4,1090.9 773.4,1091 772.4,1091.1 771.4,1090.8 770.4,1091.4 769.4,1091.3 768.4,1091 767.4,1091.5 766.4,1091.2 765.4,1090.7 764.4,1091.2 763.4,1091 762.4,1091.3 761.4,1091.4 760.4,1090.7 759.4,1091.6 758.4,1091.3 757.4,1091 756.4,1090.8 755.4,1091 754.4,1091.4 753.4,1091.2 752.4,1091 751.4,1090.8 750.4,1091.6 749.4,1091.7 748.4,1090.8 747.4,1091 746.4,1091.4 745.4,1091.1 744.4,1091.7 743.4,1091.2 742.4,1090.9 741.4,1091 740.4,1090.8 739.4,1091.2 738.4,1091.6 737.4,1090.7 736.4,1091.6 735.4,1091.5 734.4,1090.7 733.4,1090.9 732.4,1091.5 731.4,1091.2 730.4,1091.3 729.4,1091 728.4,1091.6 727.4,1091.3 726.4,1091.7 725.4,1091.1 724.4,1091 723.3,1091.3 722.3,1091.2 721.3,1090.9 720.3,1091.6 719.3,1091.7 718.3,1091.1 717.3,1091.2 716.3,1091.4 715.3,1091 714.3,1091.3 713.3,1091 712.3,1090.9 711.3,1090.9 710.3,1090.9 709.3,1091.3 708.3,1090.7 707.3,1091.3 706.3,1091.1 705.3,1090.8 704.3,1091 703.3,1091.1 702.3,1091.4 701.3,1091.7 700.3,1091 699.3,1091.5 698.3,1090.9 697.3,1091 696.3,1091.2 695.3,1090.8 694.3,1091.1 693.3,1090.8 692.3,1091.3 691.3,1091.6 690.3,1091 689.3,1091.2 688.3,1091.6 687.3,1091.7 686.3,1091.1 685.3,1091.5 684.3,1091.3 683.3,1091.4 682.3,1091.3 681.3,1090.9 680.3,1091.4 679.3,1090.8 678.3,1091.3 677.3,1091.4 676.3,1091.2 675.3,1091 674.3,1091.2 673.3,1091.2 672.3,1091.2 671.3,1091.4 670.3,1091 669.3,1091.3 668.3,1091 667.3,1091.3 666.3,1090.8 665.3,1091.4 664.3,1091.1 663.3,1091.7 662.3,1091.7 661.3,1090.7 660.3,1091 659.3,1090.8 658.3,1091.6 657.3,1090.7 656.3,1091.6 655.3,1091.2 654.3,1091.1 653.3,1090.9 652.3,1091.5 651.3,1091.5 650.3,1090.9 649.3,1091.7 648.3,1091.1 647.3,1091 646.3,1091.3 645.3,1091.2 644.3,1090.8 643.3,1091.5 642.3,1091.6 641.3,1091.3 640.3,1090.9 639.3,1091.4 638.3,1090.8 637.3,1090.8 636.3,1091.2 635.3,1091 634.3,1091 633.3,1091.3 632.3,1091.2 631.3,1091.4 630.3,1091.2 629.3,1091.2 628.3,1091.1 627.3,1091.7 626.3,1090.8 625.3,1091.5 624.3,1091.4 623.3,1091.1 622.3,1091.3 621.3,1091.3 620.3,1091.5 619.3,1091.3 618.3,1091 617.3,1091.1 616.3,1091.5 615.3,1091.2 614.3,1090.8 613.3,1091 612.3,1091.7 611.3,1091.2 610.3,1091.5 609.3,1091.1 608.3,1091.1 607.3,1091.3 606.3,1091.1 605.3,1090.8 604.3,1091.1 603.3,1091.6 602.3,1090.8 601.3,1091.7 600.3,1091.4 599.3,1091.3 598.3,1091 597.3,1090.9 596.3,1091.4 595.3,1091.1 594.3,1091.3 593.3,1091.7 592.3,1091.4 591.3,1091.5 590.3,1090.9 589.3,1091.3 588.3,1091.4 587.3,1091.7 586.3,1091.1 585.3,1091.3 584.3,1091.3 583.3,1091.2 582.3,1091.7 581.3,1090.8 580.3,1091.4 579.3,1091.3 578.3,1091.7 577.3,1091.5 576.3,1091.7 575.3,1091.3 574.3,1091 573.2,1091.7 572.2,1091.1 571.2,1090.8 570.2,1091.6 569.2,1091.3 568.2,1091.1 567.2,1091.6 566.2,1091 565.2,1091.5 564.2,1090.9 563.2,1091.7 562.2,1091 561.2,1090.9 560.2,1091.4 559.2,1090.9 558.2,1091.6 557.2,1090.9 556.2,1091.1 555.2,1091 554.2,1091.5 553.2,1091.1 552.2,1090.9 551.2,1091.7 550.2,1091.6 549.2,1091.2 548.2,1091 547.2,1091.4 546.2,1091.3 545.2,1091.5 544.2,1091.7 543.2,1091.1 542.2,1091.3 541.2,1090.9 540.2,1090.9 539.2,1091.1 538.2,1091.4 537.2,1091 536.2,1090.8 535.2,1091.7 534.2,1090.9 533.2,1091.6 532.2,1091 531.2,1091.5 530.2,1091 529.2,1091.6 528.2,1091.1 527.2,1091 526.2,1091.3 525.2,1091 524.2,1091.5 523.2,1091.5 522.2,1091.7 521.2,1091.1 520.2,1091.3 519.2,1091.2 518.2,1090.9 517.2,1091.5 516.2,1091.7 515.2,1091.5 514.2,1091.1 513.2,1091.1 512.2,1091.2 511.2,1091.7 510.2,1090.9 509.2,1091.6 508.2,1090.9 507.2,1091.7 506.2,1091 505.2,1091.4 504.2,1090.8 503.2,1091.1 502.2,1090.8 501.2,1090.8 500.2,1091.7 499.2,1091.3Z" fill="#ffa500"/><path d="M499.5,1034.5 650,1034.6 798,1034.3 798,1025.2 795,1014.3 792,1021.3 789,1017.7 786.1,1015.5 783.1,1023.8 780.1,1015.2 777.1,1021.4 774.1,1023.9 771.1,1021.7 768.1,1024.3 765.2,1013.5 762.2,1019.5 759.2,1017.3 756.2,1012.8 753.2,1024.2 750.2,1016 747.3,1015.7 744.3,1015.2 741.3,1021.8 738.3,1021.6 735.3,1016.9 732.3,1021.6 729.3,1013.1 726.4,1014.6 723.4,1015.5 720.4,1016.6 717.4,1016.6 714.4,1021.4 711.4,1012.7 708.5,1023.6 705.5,1019.8 702.5,1019 699.5,1022.1 696.5,1014.9 693.5,1017.1 690.5,1018 687.6,1021.8 684.6,1023.4 681.6,1023 678.6,1019.7 675.6,1019.5 672.6,1018 669.6,1017.8 666.7,1020.4 663.7,1013.1 660.7,1014.5 657.7,1019.4 654.7,1013.4 651.7,1013.2 648.8,1016.6 645.8,1016.8 642.8,1023 639.8,1019.4 636.8,1017.7 633.8,1012.7 630.8,1016.3 627.9,1016.4 624.9,1013.3 621.9,1025.7 618.9,1017.1 615.9,1018.6 612.9,1023.5 609.9,1024.8 607,1020.4 604,1016.2 601,1014.4 598,1016.5 595,1024.5 592,1020.4 589,1018 586.1,1018.4 583.1,1015.2 580.1,1018.9 577.1,1014.5 574.1,1020.4 571.1,1017 568.2,1019.1 565.2,1025.1 562.2,1023.5 559.2,1020.7 556.2,1013.6 553.2,1021 550.2,1024.6 547.3,1020.3 544.3,1015.2 541.3,1023.1 538.3,1021.5 535.3,1019.5 532.3,1025.3 529.4,1017.8 526.4,1018.5 523.4,1025.3 520.4,1014.7 517.4,1014.5 514.4,1012.6 511.4,1019.8 508.5,1017.1 505.5,1024.8 502.5,1023.3 499.5,1021Z" fill="url(#sp3)"/><path d="M499.5,1034.5 650,1034.6 798,1034.3 798,1025.8 795,1028.6 792,1021.3 789,1028.8 786.1,1022 783.1,1023.2 780.1,1027.4 777.1,1024.7 774.1,1024.1 771.1,1026.4 768.1,1022.2 765.2,1022.7 762.2,1024.8 759.2,1022.2 756.2,1025 753.2,1027.6 750.2,1022.4 747.3,1023.3 744.3,1026.4 741.3,1027.6 738.3,1028.7 735.3,1025 732.3,1027.6 729.3,1024.8 726.4,1028.3 723.4,1028.5 720.4,1022.8 717.4,1027.5 714.4,1027.1 711.4,1028.9 708.5,1026.3 705.5,1028.7 702.5,1021.8 699.5,1027.9 696.5,1028.7 693.5,1023.8 690.5,1022.5 687.6,1028.1 684.6,1021.4 681.6,1025.1 678.6,1028.2 675.6,1022.1 672.6,1023.3 669.6,1028.9 666.7,1022.4 663.7,1028.3 660.7,1027.3 657.7,1021.5 654.7,1024.4 651.7,1027.7 648.8,1024.2 645.8,1027.6 642.8,1026.1 639.8,1029 636.8,1024.3 633.8,1027.8 630.8,1021.3 627.9,1022.4 624.9,1027.5 621.9,1026.4 618.9,1026.7 615.9,1022.6 612.9,1028.7 609.9,1022.9 607,1028.2 604,1025.9 601,1025.3 598,1027.9 595,1023.9 592,1025.5 589,1028.2 586.1,1023.4 583.1,1028.1 580.1,1029.1 577.1,1024.6 574.1,1023.7 571.1,1027.7 568.2,1025.8 565.2,1026.5 562.2,1023.5 559.2,1028.5 556.2,1023.4 553.2,1022.8 550.2,1028.9 547.3,1024.6 544.3,1026.2 541.3,1026.1 538.3,1027.2 535.3,1021.2 532.3,1023.4 529.4,1023.1 526.4,1028.4 523.4,1027.7 520.4,1025.6 517.4,1023.9 514.4,1024.8 511.4,1021.2 508.5,1026.1 505.5,1026 502.5,1025.2 499.5,1027.3Z" fill="url(#sp2)"/><path d="M499.5,1034.5 650,1034.6 798,1034.3 798,1027 795,1029.9 792,1025.1 789,1026.8 786.1,1029.4 783.1,1029.7 780.1,1026.8 777.1,1027.2 774.1,1026.8 771.1,1025.4 768.1,1028.4 765.2,1025.4 762.2,1026.5 759.2,1028.7 756.2,1026.3 753.2,1029.5 750.2,1025.5 747.3,1027.7 744.3,1028.6 741.3,1028.1 738.3,1024.7 735.3,1026.4 732.3,1028.9 729.3,1028.2 726.4,1029.9 723.4,1026.2 720.4,1025.5 717.4,1029.9 714.4,1026.1 711.4,1026.3 708.5,1027.2 705.5,1026.8 702.5,1028.6 699.5,1027.7 696.5,1028.2 693.5,1025.2 690.5,1027.1 687.6,1028 684.6,1025.8 681.6,1026.2 678.6,1026.4 675.6,1028 672.6,1027 669.6,1030.7 666.7,1029.4 663.7,1026.6 660.7,1026.1 657.7,1030 654.7,1030.3 651.7,1028.8 648.8,1030.6 645.8,1025.4 642.8,1026 639.8,1030.2 636.8,1027.3 633.8,1029.1 630.8,1028.8 627.9,1026.1 624.9,1030.5 621.9,1027 618.9,1027.9 615.9,1030.4 612.9,1029.8 609.9,1027.2 607,1027.6 604,1030.5 601,1027.3 598,1027.4 595,1027.3 592,1029.6 589,1028.6 586.1,1025.9 583.1,1028.8 580.1,1026.7 577.1,1028.7 574.1,1029.9 571.1,1028.9 568.2,1026.1 565.2,1028.2 562.2,1026.8 559.2,1029.3 556.2,1026.1 553.2,1030.3 550.2,1028.9 547.3,1027.8 544.3,1030.4 541.3,1029.3 538.3,1027.4 535.3,1030.4 532.3,1026.9 529.4,1030.3 526.4,1027.4 523.4,1029.8 520.4,1026.8 517.4,1026.6 514.4,1027.6 511.4,1028.6 508.5,1027.7 505.5,1027.3 502.5,1028.4 499.5,1030.2Z" fill="url(#sp1)"/><path d="M499.5,1034.5 650,1034.6 798,1034.3 798,1031 795,1031.6 792,1030.4 789,1029.8 786.1,1031.8 783.1,1029.1 780.1,1030.7 777.1,1029.9 774.1,1031.1 771.1,1032 768.1,1029 765.2,1030.3 762.2,1029.2 759.2,1032 756.2,1031.7 753.2,1029.1 750.2,1032 747.3,1030.6 744.3,1030.5 741.3,1031.5 738.3,1029.5 735.3,1029.3 732.3,1031.6 729.3,1031.7 726.4,1030.9 723.4,1031.8 720.4,1031.1 717.4,1029.5 714.4,1030 711.4,1031.6 708.5,1029.5 705.5,1032.2 702.5,1031 699.5,1029.9 696.5,1030 693.5,1031.2 690.5,1030.7 687.6,1031.2 684.6,1029.7 681.6,1031.1 678.6,1032.2 675.6,1029.6 672.6,1030.4 669.6,1032 666.7,1030.1 663.7,1032 660.7,1032 657.7,1031.7 654.7,1032.2 651.7,1031.5 648.8,1030 645.8,1032.1 642.8,1030.4 639.8,1030.9 636.8,1031.1 633.8,1030.5 630.8,1031.4 627.9,1030 624.9,1031.8 621.9,1030.2 618.9,1029.9 615.9,1031.4 612.9,1032.2 609.9,1029.4 607,1031.7 604,1030.6 601,1029.2 598,1031 595,1030.7 592,1030.8 589,1030.5 586.1,1032.3 583.1,1030.3 580.1,1030.4 577.1,1031.2 574.1,1030.1 571.1,1030.6 568.2,1030.2 565.2,1031.7 562.2,1031.7 559.2,1030.3 556.2,1032.2 553.2,1031.8 550.2,1030.1 547.3,1031.8 544.3,1032.3 541.3,1032.2 538.3,1029.4 535.3,1029.7 532.3,1030.6 529.4,1029.6 526.4,1029.9 523.4,1030.1 520.4,1032.1 517.4,1029.5 514.4,1030.6 511.4,1030.7 508.5,1029.6 505.5,1029.8 502.5,1030.1 499.5,1029.3Z" fill="url(#sp0)"/><path d="M577.9 1014.7h0M740.5 1019.2h0M603 1016.9h0M704.8 1017.5h0M730.3 1016.2h0M777.4 1014.9h0M597.3 1015.8h0M614 1019.1h0M773.8 1017.8h0M529.8 1018.9h0M585.4 1015.8h0M766.7 1019.2h0M577.1 1017.8h0M618.9 1015.9h0M513.9 1018h0M730.3 1016.2h0M587.4 1016.9h0M624.9 1019.1h0M521.1 1018.4h0M510.8 1017.1h0M549.7 1017.8h0M607.1 1016.2h0M572.9 1016.4h0M599.3 1020.1h0M572.4 1020h0" stroke="#ffa500" stroke-opacity="0.3" stroke-width="2.5" stroke-linecap="round" fill="none"/><path d="M499.5,1091 650,1090.9 798,1090.9 798,1112.9 795,1104.7 792,1100.3 789,1107.8 786.1,1106.3 783.1,1108.7 780.1,1102.1 777.1,1101.1 774.1,1108.3 771.1,1102.8 768.1,1104.8 765.2,1103.1 762.2,1107.2 759.2,1107.6 756.2,1110.7 753.2,1110.7 750.2,1104.4 747.3,1106.9 744.3,1104.1 741.3,1110.6 738.3,1109.7 735.3,1108.6 732.3,1112.3 729.3,1107.4 726.4,1111.9 723.4,1107 720.4,1103.2 717.4,1105.9 714.4,1100 711.4,1106.8 708.5,1110.4 705.5,1101.6 702.5,1109.2 699.5,1100.6 696.5,1101.2 693.5,1102.1 690.5,1103.6 687.6,1110.1 684.6,1100.8 681.6,1102.6 678.6,1110.8 675.6,1106.3 672.6,1109.8 669.6,1106.3 666.7,1102.7 663.7,1099.8 660.7,1101.9 657.7,1104.6 654.7,1101.6 651.7,1108.5 648.8,1099.7 645.8,1109.4 642.8,1108.9 639.8,1103.9 636.8,1112.8 633.8,1108.5 630.8,1109.8 627.9,1106.4 624.9,1111.8 621.9,1100.7 618.9,1100.8 615.9,1107.7 612.9,1107.8 609.9,1112.6 607,1110.7 604,1111.1 601,1105.5 598,1110.1 595,1108.7 592,1105.9 589,1105.1 586.1,1105.5 583.1,1104.6 580.1,1107.3 577.1,1111.9 574.1,1102.6 571.1,1107.6 568.2,1101 565.2,1106.8 562.2,1107 559.2,1100.2 556.2,1107 553.2,1107.1 550.2,1099.6 547.3,1101.1 544.3,1109.5 541.3,1105.8 538.3,1109.1 535.3,1103.2 532.3,1111.2 529.4,1109.1 526.4,1102.5 523.4,1108.8 520.4,1100.4 517.4,1110.9 514.4,1100.9 511.4,1104.1 508.5,1106.3 505.5,1099.8 502.5,1103.9 499.5,1100.8Z" fill="url(#sp3)"/><path d="M499.5,1091 650,1090.9 798,1090.9 798,1103.1 795,1099.7 792,1099.1 789,1100.5 786.1,1098.9 783.1,1103.2 780.1,1096.8 777.1,1100 774.1,1098.8 771.1,1102.3 768.1,1098.8 765.2,1097.9 762.2,1101.4 759.2,1098.5 756.2,1100 753.2,1102.1 750.2,1102.3 747.3,1096.4 744.3,1097.6 741.3,1097.6 738.3,1098.6 735.3,1101.8 732.3,1098.4 729.3,1098.4 726.4,1098.2 723.4,1098.4 720.4,1100.1 717.4,1099.7 714.4,1102.9 711.4,1103.7 708.5,1098.1 705.5,1102.3 702.5,1103.9 699.5,1101.7 696.5,1100.5 693.5,1096.2 690.5,1102.4 687.6,1102.3 684.6,1103.7 681.6,1097 678.6,1102.3 675.6,1099.7 672.6,1102.6 669.6,1103.6 666.7,1100.4 663.7,1097 660.7,1100.3 657.7,1097.1 654.7,1096.3 651.7,1096.7 648.8,1098.1 645.8,1099.2 642.8,1098.4 639.8,1096.5 636.8,1096.5 633.8,1097.1 630.8,1102.2 627.9,1103.7 624.9,1102.5 621.9,1103.7 618.9,1101 615.9,1101.7 612.9,1098.7 609.9,1099.4 607,1098.4 604,1098.6 601,1103.1 598,1096.9 595,1097.7 592,1103.9 589,1100.3 586.1,1101.9 583.1,1098.1 580.1,1103.2 577.1,1097.8 574.1,1103.5 571.1,1103.5 568.2,1099.1 565.2,1099.6 562.2,1099.5 559.2,1102.8 556.2,1100.7 553.2,1101.1 550.2,1097.9 547.3,1101.3 544.3,1098.9 541.3,1102.4 538.3,1104 535.3,1103.3 532.3,1099.6 529.4,1098 526.4,1103.6 523.4,1099.3 520.4,1096.6 517.4,1096.5 514.4,1098.2 511.4,1099.1 508.5,1103.3 505.5,1098.6 502.5,1102.6 499.5,1100Z" fill="url(#sp2)"/><path d="M499.5,1091 650,1090.9 798,1090.9 798,1099.3 795,1099.4 792,1098.2 789,1099.2 786.1,1098.6 783.1,1099.6 780.1,1098 777.1,1095.9 774.1,1096.2 771.1,1100.2 768.1,1096.9 765.2,1097 762.2,1096.3 759.2,1096.5 756.2,1099.1 753.2,1098 750.2,1097.9 747.3,1099.4 744.3,1097.4 741.3,1099.2 738.3,1096.9 735.3,1097.5 732.3,1098.7 729.3,1096.9 726.4,1099.9 723.4,1095.1 720.4,1100.3 717.4,1100.1 714.4,1095.2 711.4,1098.3 708.5,1094.8 705.5,1099.7 702.5,1099.2 699.5,1099.9 696.5,1099.9 693.5,1094.9 690.5,1096.2 687.6,1099.7 684.6,1099.9 681.6,1098.3 678.6,1097 675.6,1094.9 672.6,1099.2 669.6,1095.8 666.7,1097 663.7,1097.6 660.7,1097.2 657.7,1097.2 654.7,1095.4 651.7,1098.7 648.8,1095 645.8,1096.9 642.8,1098.4 639.8,1094.8 636.8,1099.3 633.8,1096.8 630.8,1098.1 627.9,1099.3 624.9,1100.5 621.9,1095.4 618.9,1097.4 615.9,1096.7 612.9,1095.1 609.9,1098.5 607,1097 604,1095.3 601,1100 598,1099.8 595,1095.1 592,1097.9 589,1098.3 586.1,1095.1 583.1,1100.4 580.1,1099.8 577.1,1098.9 574.1,1100.4 571.1,1095.6 568.2,1099.2 565.2,1099.1 562.2,1097.4 559.2,1100.4 556.2,1099.2 553.2,1098.8 550.2,1100.2 547.3,1100.7 544.3,1099.1 541.3,1095.6 538.3,1095.6 535.3,1099.2 532.3,1098.7 529.4,1095.9 526.4,1095.6 523.4,1098.7 520.4,1095 517.4,1095.4 514.4,1097.2 511.4,1096.7 508.5,1095.6 505.5,1095.1 502.5,1096.8 499.5,1098.2Z" fill="url(#sp1)"/><path d="M499.5,1091 650,1090.9 798,1090.9 798,1094.4 795,1093.2 792,1095.3 789,1094.1 786.1,1095.1 783.1,1094.6 780.1,1094.9 777.1,1094.1 774.1,1093.4 771.1,1094.3 768.1,1094.7 765.2,1095.5 762.2,1095.1 759.2,1095.7 756.2,1096.1 753.2,1094.3 750.2,1094.7 747.3,1095.3 744.3,1093.3 741.3,1094.1 738.3,1096 735.3,1094.5 732.3,1093.5 729.3,1093.7 726.4,1094 723.4,1094.8 720.4,1095.2 717.4,1096 714.4,1095.7 711.4,1093.4 708.5,1093.7 705.5,1096.3 702.5,1095.7 699.5,1095.5 696.5,1094 693.5,1093.4 690.5,1095.4 687.6,1094 684.6,1094.6 681.6,1094.9 678.6,1094.7 675.6,1095.3 672.6,1096 669.6,1096.2 666.7,1094.8 663.7,1094.9 660.7,1094.2 657.7,1096 654.7,1094.4 651.7,1096 648.8,1093.5 645.8,1094.7 642.8,1095.1 639.8,1095.2 636.8,1093.2 633.8,1093.7 630.8,1095.5 627.9,1096.2 624.9,1093.6 621.9,1093.3 618.9,1093.6 615.9,1095.7 612.9,1095.4 609.9,1093.6 607,1095.6 604,1096.1 601,1093.5 598,1093.3 595,1096 592,1093.7 589,1093.8 586.1,1093.9 583.1,1094.5 580.1,1093.8 577.1,1095.3 574.1,1095.9 571.1,1094.5 568.2,1094.2 565.2,1095.5 562.2,1094.8 559.2,1094.6 556.2,1095 553.2,1095 550.2,1095.1 547.3,1094.2 544.3,1095.6 541.3,1094.3 538.3,1094.2 535.3,1093.6 532.3,1095.2 529.4,1096.1 526.4,1093.6 523.4,1093.4 520.4,1094.9 517.4,1094.1 514.4,1093.9 511.4,1093.8 508.5,1095.2 505.5,1095.7 502.5,1096.1 499.5,1093.3Z" fill="url(#sp0)"/><path d="M752.3 1108.7h0M588.2 1107.5h0M502.5 1107.7h0M793 1107.4h0M618.5 1108h0M563.7 1105.2h0M500.6 1109.4h0M703.5 1110.2h0M504.2 1108.1h0M532.9 1108.1h0M692.3 1106.2h0M657.6 1104.7h0M655.6 1110.2h0M776.7 1109.8h0M567.3 1105.6h0M524.3 1104.9h0M755.7 1106.7h0M505.3 1110.8h0M656.5 1105.4h0M692.3 1107.8h0M772.9 1109.4h0M762.2 1111h0M569.6 1106.9h0M569.4 1106.5h0M656.6 1106.9h0" stroke="#ffa500" stroke-opacity="0.3" stroke-width="2.5" stroke-linecap="round" fill="none"/></g>
<path d="M89.5 35.5H416.5V138.5H89.5ZM129.5 138.5v4.86M181.5 138.5v4.86M233.5 138.5v4.86M285.5 138.5v4.86M336.5 138.5v4.86M388.5 138.5v4.86M89.5 61.5h-4.86M89.5 87.5h-4.86M89.5 112.5h-4.86M485.5 35.5H812.5V138.5H485.5ZM526.5 138.5v4.86M577.5 138.5v4.86M629.5 138.5v4.86M681.5 138.5v4.86M732.5 138.5v4.86M784.5 138.5v4.86M485.5 67.5h-4.86M485.5 132.5h-4.86M89.5 197.5H416.5V300.5H89.5ZM129.5 300.5v4.86M181.5 300.5v4.86M233.5 300.5v4.86M285.5 300.5v4.86M336.5 300.5v4.86M388.5 300.5v4.86M89.5 228.5h-4.86M89.5 265.5h-4.86M485.5 197.5H812.5V300.5H485.5ZM526.5 300.5v4.86M577.5 300.5v4.86M629.5 300.5v4.86M681.5 300.5v4.86M732.5 300.5v4.86M784.5 300.5v4.86M485.5 226.5h-4.86M485.5 277.5h-4.86M89.5 359.5H416.5V462.5H89.5ZM129.5 462.5v4.86M181.5 462.5v4.86M233.5 462.5v4.86M285.5 462.5v4.86M336.5 462.5v4.86M388.5 462.5v4.86M89.5 362.5h-4.86M89.5 414.5h-4.86M485.5 359.5H812.5V462.5H485.5ZM526.5 462.5v4.86M577.5 462.5v4.86M629.5 462.5v4.86M681.5 462.5v4.86M732.5 462.5v4.86M784.5 462.5v4.86M485.5 386.5h-4.86M485.5 420.5h-4.86M485.5 455.5h-4.86M89.5 522.5H416.5V625.5H89.5ZM129.5 625.5v4.86M181.5 625.5v4.86M233.5 625.5v4.86M285.5 625.5v4.86M336.5 625.5v4.86M388.5 625.5v4.86M89.5 548.5h-4.86M89.5 587.5h-4.86M485.5 522.5H812.5V625.5H485.5ZM526.5 625.5v4.86M577.5 625.5v4.86M629.5 625.5v4.86M681.5 625.5v4.86M732.5 625.5v4.86M784.5 625.5v4.86M485.5 549.5h-4.86M485.5 586.5h-4.86M485.5 623.5h-4.86M89.5 684.5H416.5V787.5H89.5ZM129.5 787.5v4.86M181.5 787.5v4.86M233.5 787.5v4.86M285.5 787.5v4.86M336.5 787.5v4.86M388.5 787.5v4.86M89.5 725.5h-4.86M89.5 787.5h-4.86M485.5 684.5H812.5V787.5H485.5ZM526.5 787.5v4.86M577.5 787.5v4.86M629.5 787.5v4.86M681.5 787.5v4.86M732.5 787.5v4.86M784.5 787.5v4.86M485.5 685.5h-4.86M485.5 739.5h-4.86M89.5 846.5H416.5V949.5H89.5ZM129.5 949.5v4.86M181.5 949.5v4.86M233.5 949.5v4.86M285.5 949.5v4.86M336.5 949.5v4.86M388.5 949.5v4.86M89.5 864.5h-4.86M89.5 898.5h-4.86M89.5 932.5h-4.86M485.5 846.5H812.5V949.5H485.5ZM526.5 949.5v4.86M577.5 949.5v4.86M629.5 949.5v4.86M681.5 949.5v4.86M732.5 949.5v4.86M784.5 949.5v4.86M485.5 855.5h-4.86M485.5 890.5h-4.86M485.5 926.5h-4.86M89.5 1008.5H416.5V1111.5H89.5ZM129.5 1111.5v4.86M181.5 1111.5v4.86M233.5 1111.5v4.86M285.5 1111.5v4.86M336.5 1111.5v4.86M388.5 1111.5v4.86M89.5 1009.5h-4.86M89.5 1046.5h-4.86M89.5 1084.5h-4.86M485.5 1008.5H812.5V1111.5H485.5ZM526.5 1111.5v4.86M577.5 1111.5v4.86M629.5 1111.5v4.86M681.5 1111.5v4.86M732.5 1111.5v4.86M784.5 1111.5v4.86M485.5 1010.5h-4.86M485.5 1063.5h-4.86" fill="none" stroke="#000" stroke-width="1.111" stroke-linecap="butt" stroke-linejoin="miter"/>
<text transform="scale(1.0001 1)" x="109.19 117.99 126.91 131.63 140.44" y="159" font-size="14.5">22:00</text>
<text transform="scale(0.9877 1)" x="164.47 173.12 181.74 186.35 195.01" y="159" font-size="14.5">00:00</text>
<text transform="scale(0.9795 1)" x="218.96 227.5 236.36 241.03 249.75" y="159" font-size="14.5">02:00</text>
<text transform="scale(0.9877 1)" x="269.76 278.42 287.04 291.65 300.3" y="159" font-size="14.5">04:00</text>
<text transform="scale(0.9924 1)" x="319.84 328.43 337.12 341.67 350.26" y="159" font-size="14.5">06:00</text>
<text transform="scale(0.9869 1)" x="374.33 382.96 391.69 396.28 404.91" y="159" font-size="14.5">08:00</text>
<text transform="scale(0.9756 1)" x="36.65 45.42 54.28 63.08 71.88" y="66" font-size="14.5">75000</text>
<text transform="scale(0.9783 1)" x="36.57 45.39 54.15 62.92 71.68" y="92" font-size="14.5">50000</text>
<text transform="scale(0.9937 1)" x="35.94 44.9 53.78 62.61 71.43" y="118" font-size="14.5">25000</text>
<text transform="translate(24.98 122) rotate(-90) scale(0.9354 1)" x="-1.6 7.62 12 21.52 29.63 34.71 40.26 49.56 58.55 70.67" y="0" font-size="14.5">Flux [SFU]</text>
<text transform="scale(0.9794 1)" x="86.76 99.9 109.85 121.5 132.25 138.17 148.43 161.96 174.88 183.65 188.77 200.73 206.92 217.69 226.77 237.07 246.03 251.98 256.88 262.69 273.31 283.48 289.26 300.4 311.2 321.91 332.5 338.95 349.74 360.12 366.57 377.31 387.83 391.63 398.97 409.96 422.14" y="27" font-size="17.4">NoRP 1GHz Stokes-I on 2001-04-09[JST]</text>
<text transform="scale(1.0001 1)" x="506.16 514.96 523.88 528.6 537.4" y="159" font-size="14.5">22:00</text>
<text transform="scale(0.9877 1)" x="565.42 574.07 582.69 587.3 595.96" y="159" font-size="14.5">00:00</text>
<text transform="scale(0.9795 1)" x="623.25 631.79 640.65 645.32 654.04" y="159" font-size="14.5">02:00</text>
<text transform="scale(0.9877 1)" x="670.71 679.36 687.98 692.59 701.25" y="159" font-size="14.5">04:00</text>
<text transform="scale(0.9924 1)" x="718.88 727.46 736.16 740.71 749.3" y="159" font-size="14.5">06:00</text>
<text transform="scale(0.9869 1)" x="775.58 784.21 792.94 797.53 806.16" y="159" font-size="14.5">08:00</text>
<text transform="scale(0.9783 1)" x="441.35 450.17 458.93 467.69 476.46" y="72" font-size="14.5">50000</text>
<text transform="scale(1.0099 1)" x="462.35" y="138" font-size="14.5">0</text>
<text transform="scale(0.9722 1)" x="579.58 592.74 602.73 614.41 625.17 631.12 641.41 654.97 667.92 676.69 681.85 693.83 700.04 710.84 719.94 730.27 739.24 744.13" y="27" font-size="17.4">NoRP 1GHz Stokes-V</text>
<text transform="scale(1.0001 1)" x="109.19 117.99 126.91 131.63 140.44" y="321" font-size="14.5">22:00</text>
<text transform="scale(0.9877 1)" x="164.47 173.12 181.74 186.35 195.01" y="321" font-size="14.5">00:00</text>
<text transform="scale(0.9795 1)" x="218.96 227.5 236.36 241.03 249.75" y="321" font-size="14.5">02:00</text>
<text transform="scale(0.9877 1)" x="269.76 278.42 287.04 291.65 300.3" y="321" font-size="14.5">04:00</text>
<text transform="scale(0.9924 1)" x="319.84 328.43 337.12 341.67 350.26" y="321" font-size="14.5">06:00</text>
<text transform="scale(0.9869 1)" x="374.33 382.96 391.69 396.28 404.91" y="321" font-size="14.5">08:00</text>
<text transform="scale(0.9454 1)" x="47.97 56.92 65.68 74.44" y="234" font-size="14.5">1000</text>
<text transform="scale(0.9362 1)" x="56.43 65.32 74.15" y="271" font-size="14.5">500</text>
<text transform="translate(33.98 284) rotate(-90) scale(0.9354 1)" x="-1.6 7.62 12 21.52 29.63 34.71 40.26 49.56 58.55 70.67" y="0" font-size="14.5">Flux [SFU]</text>
<text transform="scale(0.9780 1)" x="172.48 185.64 195.61 207.28 218.04 223.83 234.25 247.8 260.74 269.51 274.65 286.63 292.83 303.62 312.71 323.03 332 337.96" y="189" font-size="17.4">NoRP 2GHz Stokes-I</text>
<text transform="scale(1.0001 1)" x="506.16 514.96 523.88 528.6 537.4" y="321" font-size="14.5">22:00</text>
<text transform="scale(0.9877 1)" x="565.42 574.07 582.69 587.3 595.96" y="321" font-size="14.5">00:00</text>
<text transform="scale(0.9795 1)" x="623.25 631.79 640.65 645.32 654.04" y="321" font-size="14.5">02:00</text>
<text transform="scale(0.9877 1)" x="670.71 679.36 687.98 692.59 701.25" y="321" font-size="14.5">04:00</text>
<text transform="scale(0.9924 1)" x="718.88 727.46 736.16 740.71 749.3" y="321" font-size="14.5">06:00</text>
<text transform="scale(0.9869 1)" x="775.58 784.21 792.94 797.53 806.16" y="321" font-size="14.5">08:00</text>
<text transform="scale(0.9362 1)" x="479.41 488.29 497.12" y="232" font-size="14.5">500</text>
<text transform="scale(1.0099 1)" x="462.35" y="283" font-size="14.5">0</text>
<text transform="scale(0.9728 1)" x="579.27 592.43 602.41 614.09 624.85 630.65 641.07 654.62 667.57 676.34 681.49 693.47 699.68 710.47 719.56 729.89 738.86 743.74" y="189" font-size="17.4">NoRP 2GHz Stokes-V</text>
<text transform="scale(1.0001 1)" x="109.19 117.99 126.91 131.63 140.44" y="483" font-size="14.5">22:00</text>
<text transform="scale(0.9877 1)" x="164.47 173.12 181.74 186.35 195.01" y="483" font-size="14.5">00:00</text>
<text transform="scale(0.9795 1)" x="218.96 227.5 236.36 241.03 249.75" y="483" font-size="14.5">02:00</text>
<text transform="scale(0.9877 1)" x="269.76 278.42 287.04 291.65 300.3" y="483" font-size="14.5">04:00</text>
<text transform="scale(0.9924 1)" x="319.84 328.43 337.12 341.67 350.26" y="483" font-size="14.5">06:00</text>
<text transform="scale(0.9869 1)" x="374.33 382.96 391.69 396.28 404.91" y="483" font-size="14.5">08:00</text>
<text transform="scale(0.9389 1)" x="57.72 66.38 75.05" y="368" font-size="14.5">400</text>
<text transform="scale(0.9817 1)" x="53.69 62.64 71.41" y="420" font-size="14.5">200</text>
<text transform="translate(42.98 446) rotate(-90) scale(0.9354 1)" x="-1.6 7.62 12 21.52 29.63 34.71 40.26 49.56 58.55 70.67" y="0" font-size="14.5">Flux [SFU]</text>
<text transform="scale(0.9761 1)" x="159.49 172.63 182.6 194.27 205.02 211.06 221.66 227.34 238.12 248.24 261.79 274.72 283.49 288.63 300.6 306.8 317.58 326.67 336.98 345.95 351.91" y="351" font-size="17.4">NoRP 3.75GHz Stokes-I</text>
<text transform="scale(1.0001 1)" x="506.16 514.96 523.88 528.6 537.4" y="483" font-size="14.5">22:00</text>
<text transform="scale(0.9877 1)" x="565.42 574.07 582.69 587.3 595.96" y="483" font-size="14.5">00:00</text>
<text transform="scale(0.9795 1)" x="623.25 631.79 640.65 645.32 654.04" y="483" font-size="14.5">02:00</text>
<text transform="scale(0.9877 1)" x="670.71 679.36 687.98 692.59 701.25" y="483" font-size="14.5">04:00</text>
<text transform="scale(0.9924 1)" x="718.88 727.46 736.16 740.71 749.3" y="483" font-size="14.5">06:00</text>
<text transform="scale(0.9869 1)" x="775.58 784.21 792.94 797.53 806.16" y="483" font-size="14.5">08:00</text>
<text transform="scale(0.9406 1)" x="486.76 495.98" y="392" font-size="14.5">25</text>
<text transform="scale(1.0099 1)" x="462.35" y="426" font-size="14.5">0</text>
<text transform="scale(1.0350 1)" x="432.23 441.94 450.35" y="460" font-size="14.5">−25</text>
<text transform="scale(0.9717 1)" x="566.53 579.69 589.66 601.33 612.09 618.13 628.73 634.42 645.2 655.33 668.88 681.81 690.59 695.73 707.71 713.91 724.69 733.79 744.1 753.07 757.96" y="351" font-size="17.4">NoRP 3.75GHz Stokes-V</text>
<text transform="scale(1.0001 1)" x="109.19 117.99 126.91 131.63 140.44" y="646" font-size="14.5">22:00</text>
<text transform="scale(0.9877 1)" x="164.47 173.12 181.74 186.35 195.01" y="646" font-size="14.5">00:00</text>
<text transform="scale(0.9795 1)" x="218.96 227.5 236.36 241.03 249.75" y="646" font-size="14.5">02:00</text>
<text transform="scale(0.9877 1)" x="269.76 278.42 287.04 291.65 300.3" y="646" font-size="14.5">04:00</text>
<text transform="scale(0.9924 1)" x="319.84 328.43 337.12 341.67 350.26" y="646" font-size="14.5">06:00</text>
<text transform="scale(0.9869 1)" x="374.33 382.96 391.69 396.28 404.91" y="646" font-size="14.5">08:00</text>
<text transform="scale(0.9389 1)" x="57.72 66.38 75.05" y="554" font-size="14.5">400</text>
<text transform="scale(0.9817 1)" x="53.69 62.64 71.41" y="592" font-size="14.5">200</text>
<text transform="translate(42.98 609) rotate(-90) scale(0.9354 1)" x="-1.6 7.62 12 21.52 29.63 34.71 40.26 49.56 58.55 70.67" y="0" font-size="14.5">Flux [SFU]</text>
<text transform="scale(0.9869 1)" x="162.77 175.83 185.72 197.3 208.03 213.91 224.4 230.05 240.03 253.48 266.34 275.08 280.13 292.05 298.19 308.89 317.91 328.16 337.07 342.99" y="514" font-size="17.4">NoRP 9.4GHz Stokes-I</text>
<text transform="scale(1.0001 1)" x="506.16 514.96 523.88 528.6 537.4" y="646" font-size="14.5">22:00</text>
<text transform="scale(0.9877 1)" x="565.42 574.07 582.69 587.3 595.96" y="646" font-size="14.5">00:00</text>
<text transform="scale(0.9795 1)" x="623.25 631.79 640.65 645.32 654.04" y="646" font-size="14.5">02:00</text>
<text transform="scale(0.9877 1)" x="670.71 679.36 687.98 692.59 701.25" y="646" font-size="14.5">04:00</text>
<text transform="scale(0.9924 1)" x="718.88 727.46 736.16 740.71 749.3" y="646" font-size="14.5">06:00</text>
<text transform="scale(0.9869 1)" x="775.58 784.21 792.94 797.53 806.16" y="646" font-size="14.5">08:00</text>
<text transform="scale(1.0143 1)" x="451.24 460.25" y="554" font-size="14.5">20</text>
<text transform="scale(1.0099 1)" x="462.35" y="592" font-size="14.5">0</text>
<text transform="scale(1.0421 1)" x="429.25 438.79 447.1" y="628" font-size="14.5">−20</text>
<text transform="scale(0.9762 1)" x="568.98 582.05 591.95 603.54 614.27 620.17 630.66 636.32 646.31 659.77 672.64 681.38 686.45 698.37 704.52 715.23 724.26 734.52 743.43 748.27" y="514" font-size="17.4">NoRP 9.4GHz Stokes-V</text>
<text transform="scale(1.0001 1)" x="109.19 117.99 126.91 131.63 140.44" y="808" font-size="14.5">22:00</text>
<text transform="scale(0.9877 1)" x="164.47 173.12 181.74 186.35 195.01" y="808" font-size="14.5">00:00</text>
<text transform="scale(0.9795 1)" x="218.96 227.5 236.36 241.03 249.75" y="808" font-size="14.5">02:00</text>
<text transform="scale(0.9877 1)" x="269.76 278.42 287.04 291.65 300.3" y="808" font-size="14.5">04:00</text>
<text transform="scale(0.9924 1)" x="319.84 328.43 337.12 341.67 350.26" y="808" font-size="14.5">06:00</text>
<text transform="scale(0.9869 1)" x="374.33 382.96 391.69 396.28 404.91" y="808" font-size="14.5">08:00</text>
<text transform="scale(0.9362 1)" x="56.43 65.32 74.15" y="730" font-size="14.5">500</text>
<text transform="scale(1.0099 1)" x="70.23" y="792" font-size="14.5">0</text>
<text transform="translate(42.98 771) rotate(-90) scale(0.9354 1)" x="-1.6 7.62 12 21.52 29.63 34.71 40.26 49.56 58.55 70.67" y="0" font-size="14.5">Flux [SFU]</text>
<text transform="scale(0.9752 1)" x="166.82 179.97 189.93 201.6 212.35 218.29 229.27 239.36 252.9 265.84 274.61 279.74 291.72 297.92 308.69 317.78 328.1 337.06 343.02" y="676" font-size="17.4">NoRP 17GHz Stokes-I</text>
<text transform="scale(1.0001 1)" x="506.16 514.96 523.88 528.6 537.4" y="808" font-size="14.5">22:00</text>
<text transform="scale(0.9877 1)" x="565.42 574.07 582.69 587.3 595.96" y="808" font-size="14.5">00:00</text>
<text transform="scale(0.9795 1)" x="623.25 631.79 640.65 645.32 654.04" y="808" font-size="14.5">02:00</text>
<text transform="scale(0.9877 1)" x="670.71 679.36 687.98 692.59 701.25" y="808" font-size="14.5">04:00</text>
<text transform="scale(0.9924 1)" x="718.88 727.46 736.16 740.71 749.3" y="808" font-size="14.5">06:00</text>
<text transform="scale(0.9869 1)" x="775.58 784.21 792.94 797.53 806.16" y="808" font-size="14.5">08:00</text>
<text transform="scale(0.9441 1)" x="484.95 493.92" y="690" font-size="14.5">50</text>
<text transform="scale(1.0099 1)" x="462.35" y="744" font-size="14.5">0</text>
<text transform="scale(0.9704 1)" x="575.53 588.68 598.65 610.32 621.08 627.02 638.01 648.1 661.65 674.59 683.36 688.5 700.48 706.69 717.47 726.56 736.88 745.85 750.73" y="676" font-size="17.4">NoRP 17GHz Stokes-V</text>
<text transform="scale(1.0001 1)" x="109.19 117.99 126.91 131.63 140.44" y="970" font-size="14.5">22:00</text>
<text transform="scale(0.9877 1)" x="164.47 173.12 181.74 186.35 195.01" y="970" font-size="14.5">00:00</text>
<text transform="scale(0.9795 1)" x="218.96 227.5 236.36 241.03 249.75" y="970" font-size="14.5">02:00</text>
<text transform="scale(0.9877 1)" x="269.76 278.42 287.04 291.65 300.3" y="970" font-size="14.5">04:00</text>
<text transform="scale(0.9924 1)" x="319.84 328.43 337.12 341.67 350.26" y="970" font-size="14.5">06:00</text>
<text transform="scale(0.9869 1)" x="374.33 382.96 391.69 396.28 404.91" y="970" font-size="14.5">08:00</text>
<text transform="scale(0.9823 1)" x="44.53 53.53 62.45 71.32" y="870" font-size="14.5">2500</text>
<text transform="scale(0.9965 1)" x="43.84 52.76 61.5 70.25" y="904" font-size="14.5">2000</text>
<text transform="scale(0.9317 1)" x="48.74 57.77 66.71 75.59" y="938" font-size="14.5">1500</text>
<text transform="translate(33.98 933) rotate(-90) scale(0.9354 1)" x="-1.6 7.62 12 21.52 29.63 34.71 40.26 49.56 58.55 70.67" y="0" font-size="14.5">Flux [SFU]</text>
<text transform="scale(0.9734 1)" x="167.14 180.31 190.3 201.98 212.75 218.81 229.67 239.82 253.39 266.34 275.12 280.28 292.27 298.48 309.28 318.39 328.72 337.7 343.67" y="838" font-size="17.4">NoRP 35GHz Stokes-I</text>
<text transform="scale(1.0001 1)" x="506.16 514.96 523.88 528.6 537.4" y="970" font-size="14.5">22:00</text>
<text transform="scale(0.9877 1)" x="565.42 574.07 582.69 587.3 595.96" y="970" font-size="14.5">00:00</text>
<text transform="scale(0.9795 1)" x="623.25 631.79 640.65 645.32 654.04" y="970" font-size="14.5">02:00</text>
<text transform="scale(0.9877 1)" x="670.71 679.36 687.98 692.59 701.25" y="970" font-size="14.5">04:00</text>
<text transform="scale(0.9924 1)" x="718.88 727.46 736.16 740.71 749.3" y="970" font-size="14.5">06:00</text>
<text transform="scale(0.9869 1)" x="775.58 784.21 792.94 797.53 806.16" y="970" font-size="14.5">08:00</text>
<text transform="scale(0.9406 1)" x="486.76 495.98" y="861" font-size="14.5">25</text>
<text transform="scale(1.0099 1)" x="462.35" y="896" font-size="14.5">0</text>
<text transform="scale(1.0350 1)" x="432.23 441.94 450.35" y="932" font-size="14.5">−25</text>
<text transform="scale(0.9687 1)" x="576.54 589.71 599.7 611.39 622.16 628.22 639.09 649.24 662.81 675.77 684.55 689.71 701.7 707.92 718.72 727.83 738.17 747.15 752.04" y="838" font-size="17.4">NoRP 35GHz Stokes-V</text>
<text transform="scale(1.0001 1)" x="109.19 117.99 126.91 131.63 140.44" y="1132" font-size="14.5">22:00</text>
<text transform="scale(0.9877 1)" x="164.47 173.12 181.74 186.35 195.01" y="1132" font-size="14.5">00:00</text>
<text transform="scale(0.9795 1)" x="218.96 227.5 236.36 241.03 249.75" y="1132" font-size="14.5">02:00</text>
<text transform="scale(0.9877 1)" x="269.76 278.42 287.04 291.65 300.3" y="1132" font-size="14.5">04:00</text>
<text transform="scale(0.9924 1)" x="319.84 328.43 337.12 341.67 350.26" y="1132" font-size="14.5">06:00</text>
<text transform="scale(0.9869 1)" x="374.33 382.96 391.69 396.28 404.91" y="1132" font-size="14.5">08:00</text>
<text transform="scale(1.0218 1)" x="216.02 224.49 228.56 241.27 249.47 254.44 264.28 274" y="1151" font-size="14.5">Time[UT]</text>
<text transform="scale(0.9649 1)" x="37.65 46.58 55.32 64.06 72.8" y="1015" font-size="14.5">10000</text>
<text transform="scale(1.0019 1)" x="43.81 52.58 61.22 69.87" y="1052" font-size="14.5">8000</text>
<text transform="scale(1.0085 1)" x="43.47 52.19 60.78 69.37" y="1090" font-size="14.5">6000</text>
<text transform="translate(24.98 1095) rotate(-90) scale(0.9354 1)" x="-1.6 7.62 12 21.52 29.63 34.71 40.26 49.56 58.55 70.67" y="0" font-size="14.5">Flux [SFU]</text>
<text transform="scale(0.9807 1)" x="165.84 178.93 188.84 200.45 211.19 217.15 227.9 237.9 251.38 264.26 273.01 278.09 290.02 296.18 306.9 315.95 326.21 335.14 341.07" y="1000" font-size="17.4">NoRP 80GHz Stokes-I</text>
<text transform="scale(1.0001 1)" x="506.16 514.96 523.88 528.6 537.4" y="1132" font-size="14.5">22:00</text>
<text transform="scale(0.9877 1)" x="565.42 574.07 582.69 587.3 595.96" y="1132" font-size="14.5">00:00</text>
<text transform="scale(0.9795 1)" x="623.25 631.79 640.65 645.32 654.04" y="1132" font-size="14.5">02:00</text>
<text transform="scale(0.9877 1)" x="670.71 679.36 687.98 692.59 701.25" y="1132" font-size="14.5">04:00</text>
<text transform="scale(0.9924 1)" x="718.88 727.46 736.16 740.71 749.3" y="1132" font-size="14.5">06:00</text>
<text transform="scale(0.9869 1)" x="775.58 784.21 792.94 797.53 806.16" y="1132" font-size="14.5">08:00</text>
<text transform="scale(1.0218 1)" x="603.56 612.03 616.1 628.8 637 641.98 651.82 661.54" y="1151" font-size="14.5">Time[UT]</text>
<text transform="scale(0.9121 1)" x="492.69 501.68 510.47" y="1016" font-size="14.5">100</text>
<text transform="scale(1.0099 1)" x="462.35" y="1068" font-size="14.5">0</text>
<text transform="scale(0.9756 1)" x="572.46 585.56 595.47 607.09 617.83 623.8 634.56 644.57 658.06 670.95 679.7 684.79 696.73 702.89 713.62 722.68 732.95 741.88 746.73" y="1000" font-size="17.4">NoRP 80GHz Stokes-V</text>
</svg></body></html>
